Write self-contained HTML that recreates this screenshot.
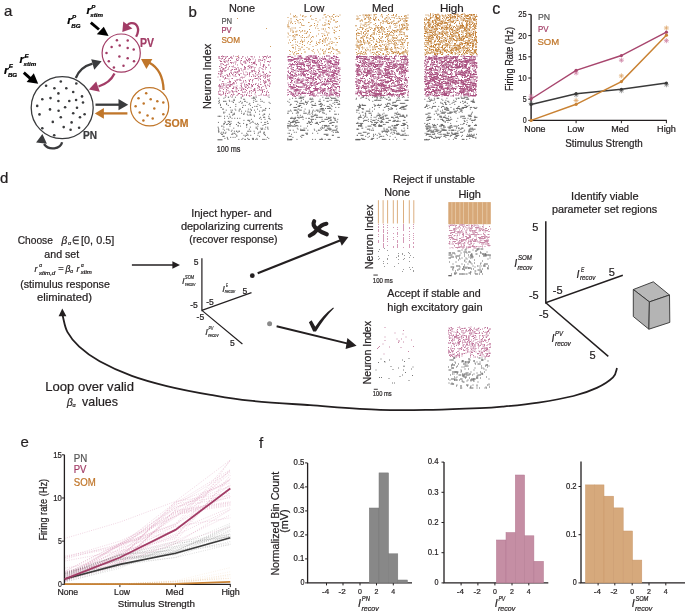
<!DOCTYPE html>
<html><head><meta charset="utf-8"><style>
html,body{margin:0;padding:0;background:#fff;}
body{width:685px;height:614px;overflow:hidden;}
svg{display:block;will-change:transform;font-family:"Liberation Sans", sans-serif;}
text{stroke-width:0.22px;}
</style></head><body>
<svg width="685" height="614" viewBox="0 0 685 614" fill="#231f20" stroke="none">
<rect width="685" height="614" fill="#fff"/>
<text x="4.0" y="16.0" font-size="15" stroke="#231f20">a</text>
<circle cx="62.2" cy="107.7" r="31" fill="none" stroke="#3a3b3d" stroke-width="1.3"/>
<circle cx="121.2" cy="53.1" r="19.1" fill="none" stroke="#a23c66" stroke-width="1.2"/>
<circle cx="149.6" cy="106.8" r="19.1" fill="none" stroke="#c0762a" stroke-width="1.2"/>
<circle cx="46.1" cy="85.7" r="1.3" fill="#3a3b3d"/>
<circle cx="60.8" cy="81.5" r="1.3" fill="#3a3b3d"/>
<circle cx="76.3" cy="83.5" r="1.3" fill="#3a3b3d"/>
<circle cx="54.4" cy="88.3" r="1.3" fill="#3a3b3d"/>
<circle cx="66.3" cy="88.3" r="1.3" fill="#3a3b3d"/>
<circle cx="58.4" cy="93.4" r="1.3" fill="#3a3b3d"/>
<circle cx="73.2" cy="92" r="1.3" fill="#3a3b3d"/>
<circle cx="82" cy="96.4" r="1.3" fill="#3a3b3d"/>
<circle cx="42.3" cy="99.3" r="1.3" fill="#3a3b3d"/>
<circle cx="50.5" cy="98.1" r="1.3" fill="#3a3b3d"/>
<circle cx="58.4" cy="101" r="1.3" fill="#3a3b3d"/>
<circle cx="69.3" cy="101" r="1.3" fill="#3a3b3d"/>
<circle cx="76.1" cy="100" r="1.3" fill="#3a3b3d"/>
<circle cx="83" cy="102.5" r="1.3" fill="#3a3b3d"/>
<circle cx="37.2" cy="105.9" r="1.3" fill="#3a3b3d"/>
<circle cx="50" cy="109.4" r="1.3" fill="#3a3b3d"/>
<circle cx="65.1" cy="107.2" r="1.3" fill="#3a3b3d"/>
<circle cx="77" cy="107.8" r="1.3" fill="#3a3b3d"/>
<circle cx="58.6" cy="110.7" r="1.3" fill="#3a3b3d"/>
<circle cx="39.5" cy="114.4" r="1.3" fill="#3a3b3d"/>
<circle cx="73.2" cy="113.2" r="1.3" fill="#3a3b3d"/>
<circle cx="84.6" cy="114.2" r="1.3" fill="#3a3b3d"/>
<circle cx="60.8" cy="117.2" r="1.3" fill="#3a3b3d"/>
<circle cx="80" cy="117.2" r="1.3" fill="#3a3b3d"/>
<circle cx="52.8" cy="121.9" r="1.3" fill="#3a3b3d"/>
<circle cx="71.6" cy="122.4" r="1.3" fill="#3a3b3d"/>
<circle cx="42.3" cy="128.3" r="1.3" fill="#3a3b3d"/>
<circle cx="63.7" cy="127.1" r="1.3" fill="#3a3b3d"/>
<circle cx="70.6" cy="129.8" r="1.3" fill="#3a3b3d"/>
<circle cx="79.1" cy="127.7" r="1.3" fill="#3a3b3d"/>
<circle cx="54.2" cy="135.2" r="1.3" fill="#3a3b3d"/>
<circle cx="116.9" cy="40.3" r="1.25" fill="#a23c66"/>
<circle cx="127.7" cy="40.6" r="1.25" fill="#a23c66"/>
<circle cx="111.6" cy="46.9" r="1.25" fill="#a23c66"/>
<circle cx="119.7" cy="45.4" r="1.25" fill="#a23c66"/>
<circle cx="127.7" cy="48.1" r="1.25" fill="#a23c66"/>
<circle cx="133.7" cy="49.4" r="1.25" fill="#a23c66"/>
<circle cx="106.5" cy="53.1" r="1.25" fill="#a23c66"/>
<circle cx="119.4" cy="56.4" r="1.25" fill="#a23c66"/>
<circle cx="127.7" cy="58.2" r="1.25" fill="#a23c66"/>
<circle cx="108.8" cy="61.3" r="1.25" fill="#a23c66"/>
<circle cx="134" cy="61.3" r="1.25" fill="#a23c66"/>
<circle cx="113.9" cy="67.6" r="1.25" fill="#a23c66"/>
<circle cx="123.5" cy="65.8" r="1.25" fill="#a23c66"/>
<circle cx="146.2" cy="93.2" r="1.25" fill="#c0762a"/>
<circle cx="138.5" cy="98.2" r="1.25" fill="#c0762a"/>
<circle cx="150.7" cy="99.3" r="1.25" fill="#c0762a"/>
<circle cx="157.3" cy="101.3" r="1.25" fill="#c0762a"/>
<circle cx="163.3" cy="102.4" r="1.25" fill="#c0762a"/>
<circle cx="143.7" cy="103.4" r="1.25" fill="#c0762a"/>
<circle cx="135.6" cy="106.2" r="1.25" fill="#c0762a"/>
<circle cx="154.3" cy="108.6" r="1.25" fill="#c0762a"/>
<circle cx="139.7" cy="112.4" r="1.25" fill="#c0762a"/>
<circle cx="147.5" cy="115.6" r="1.25" fill="#c0762a"/>
<circle cx="163.3" cy="114.3" r="1.25" fill="#c0762a"/>
<circle cx="152.7" cy="118.4" r="1.25" fill="#c0762a"/>
<circle cx="143.4" cy="120.4" r="1.25" fill="#c0762a"/>
<path d="M75.8,78 Q80,67 92.5,63.6" fill="none" stroke="#3a3b3d" stroke-width="2.3"/>
<polygon points="91.2,59.3 94.3,69.8 101.6,61.3" fill="#3a3b3d"/>
<path d="M114.5,73.6 Q110,83 98.5,86.5" fill="none" stroke="#a23c66" stroke-width="2.3"/>
<polygon points="96.2,81.4 99.8,91.7 88.9,89.4" fill="#a23c66"/>
<path d="M95.5,104.7 H119" fill="none" stroke="#3a3b3d" stroke-width="2.3"/>
<polygon points="118.5,99.1 118.5,110.3 128.2,104.7" fill="#3a3b3d"/>
<path d="M127.4,113.4 H103" fill="none" stroke="#c0762a" stroke-width="2.3"/>
<polygon points="103.9,108 103.9,118.8 94.8,113.4" fill="#c0762a"/>
<path d="M163.6,90 Q163,70 149,62.5" fill="none" stroke="#c0762a" stroke-width="2.3"/>
<polygon points="141,59.1 152.4,59.1 146.4,68.9" fill="#c0762a"/>
<path d="M136.1,36.8 C140.5,29 137,22.5 131,23.2 C129,23.5 128,24.5 127,25.5" fill="none" stroke="#a23c66" stroke-width="2.3"/>
<polygon points="123.3,21.5 132.4,28.4 122.3,32" fill="#a23c66"/>
<path d="M62.1,142.2 C60.5,149 49,151 44,144" fill="none" stroke="#3a3b3d" stroke-width="2.3"/>
<polygon points="36.1,142.6 46.9,143.8 42.4,134" fill="#3a3b3d"/>
<path d="M23.8,72.7 L30.5,78.7" fill="none" stroke="#000" stroke-width="2.9"/>
<polygon points="26.6,81.9 33.8,73.3 38.2,83.7" fill="#000"/>
<path d="M90.8,22.7 L99,29.5" fill="none" stroke="#000" stroke-width="2.9"/>
<polygon points="96.8,34.3 103.8,26.7 108.6,36.0" fill="#000"/>
<g font-weight="bold" font-style="italic" fill="#000" stroke="#000"><text x="4" y="73.5" font-size="11.5">r</text><text x="8.8" y="68.3" font-size="6.2">E</text><text x="7.9" y="76.8" font-size="6.2">BG</text></g>
<g font-weight="bold" font-style="italic" fill="#000" stroke="#000"><text x="19.6" y="62.7" font-size="11.5">r</text><text x="24.400000000000002" y="57.5" font-size="6.2">E</text><text x="23.5" y="66.0" font-size="6.2">stim</text></g>
<g font-weight="bold" font-style="italic" fill="#000" stroke="#000"><text x="67.3" y="24.3" font-size="11.5">r</text><text x="72.1" y="19.1" font-size="6.2">P</text><text x="71.2" y="27.6" font-size="6.2">BG</text></g>
<g font-weight="bold" font-style="italic" fill="#000" stroke="#000"><text x="86.4" y="13.9" font-size="11.5">r</text><text x="91.2" y="8.7" font-size="6.2">P</text><text x="90.30000000000001" y="17.2" font-size="6.2">stim</text></g>
<text x="139.9" y="46.7" font-size="12" fill="#a23c66" stroke="#a23c66" font-weight="bold" textLength="14.0" lengthAdjust="spacingAndGlyphs">PV</text>
<text x="83.0" y="139.2" font-size="11" fill="#3a3b3d" stroke="#3a3b3d" font-weight="bold" textLength="14.0" lengthAdjust="spacingAndGlyphs">PN</text>
<text x="164.6" y="126.5" font-size="11.5" fill="#c0762a" stroke="#c0762a" font-weight="bold" textLength="23.9" lengthAdjust="spacingAndGlyphs">SOM</text>
<text x="188.6" y="16.6" font-size="15" stroke="#231f20">b</text>
<text x="228.9" y="11.5" font-size="11.3" stroke="#231f20" textLength="26.1" lengthAdjust="spacingAndGlyphs">None</text>
<text x="303.7" y="11.5" font-size="11.3" stroke="#231f20" textLength="20.6" lengthAdjust="spacingAndGlyphs">Low</text>
<text x="372.0" y="11.5" font-size="11.3" stroke="#231f20" textLength="21.6" lengthAdjust="spacingAndGlyphs">Med</text>
<text x="439.9" y="11.5" font-size="11.3" stroke="#231f20" textLength="23.8" lengthAdjust="spacingAndGlyphs">High</text>
<path d="M220 64h1M254.5 61.5h1M262.5 66.5h1M218 73.5h1M226.5 56.5h1M232 74.5h1M227.5 90.5h1M233.5 84h1M236 60h1M240.5 83.5h1M243 82h1M224 61.5h1M224.5 75.5h1M262.5 71.5h1M260.5 60.5h1M229.5 83h1M258.5 88h1M225 77.5h1M230 86h1M248 83.5h1M258.5 95.5h1M242 96h1M232.5 91.5h1M223 85h1M264.5 78.5h1M236.5 89h1M260.5 84.5h1M235.5 76.5h1M217.5 77h1M233.5 83h1M218.5 74h1M223.5 70h1M269 86.5h1M251.5 70.5h1M222.5 57h1M246 95.5h1M256 64.5h1M268.5 65h1M220 76.5h1M241 58.5h1M266 67.5h1M238 57.5h1M218 94h1M268 81h1M220 61.5h1M224.5 56.5h1M259.5 74h1M219 66.5h1M241.5 77h1M244.5 61h1M259.5 60h1M240.5 85.5h1M223 56.5h1M269.5 84h1M227.5 82.5h1M223 89.5h1M219.5 60.5h1M229 81h1M263 65.5h1M258 72.5h1M241.5 83h1M230 84.5h1M235.5 62h1M251 76.5h1M219.5 94h1M258 74h1M259 87h1M219 58h1M243 73h1M253 62.5h1M225 71h1M269.5 56.5h1M267.5 80h1M236 59.5h1M240.5 73.5h1M220.5 72h1M266 94.5h1M254.5 71.5h1M263 57.5h1M255 84.5h1M225.5 70.5h1M239.5 88h1M248.5 65.5h1M260.5 75.5h1M258.5 70.5h1M235.5 69.5h1M226 87h1M252 71.5h1M249 83.5h1M268 61.5h1M222.5 91.5h1M267 85h1M246 94.5h1M264 59.5h1M254 88.5h1M232 88.5h1M265.5 76h1M239.5 79.5h1M260 82h1M269.5 75.5h1M234.5 62h1M255 78.5h1M249.5 96h1M262.5 86.5h1M250.5 66.5h1M244 69h1M242.5 96h1M247 88.5h1M249 73.5h1M263.5 82h1M236 73h1M252.5 91.5h1M221 59h1M251 67.5h1M225.5 92h1M249 62.5h1M266 73.5h1M218.5 57h1M226 91h1M252 86.5h1M252 85.5h1M234.5 72h1M241 85h1M236.5 86h1M229 74.5h1M246 59.5h1M222.5 81.5h1M226.5 74.5h1M265 81h1M252 80.5h1M231 63h1M231 63h1M227.5 76.5h1M247 85.5h1M246.5 60.5h1M238.5 70.5h1M225 95h1M228.5 85h1M227 75.5h1M228.5 93h1M254 89.5h1M270 68h1M240.5 77.5h1M255 91h1M245.5 72h1M263 64.5h1M244.5 61.5h1M249 73h1M219 87h1M267.5 75h1M219 94.5h1M235 81.5h1M219.5 80h1M259.5 67.5h1M237.5 94.5h1M221.5 76h1M218.5 71.5h1M259.5 59.5h1M248.5 80h1M261 88h1M255.5 83.5h1M265 85.5h1M231 57h1M253 76h1M267 61.5h1M233.5 83h1M237.5 71.5h1M241 70h1M263 95h1M232.5 67h1M220.5 74.5h1M270 72.5h1M227.5 62h1M235.5 90h1M254.5 89h1M263 67h1M254.5 94h1M261 87.5h1M228 68h1M244.5 62h1M254 89h1M242 57h1M244.5 91.5h1M222.5 83.5h1M238 60h1M265 74.5h1M262.5 59h1M227.5 69.5h1M254 57h1M255 60h1M219.5 58.5h1M246 90.5h1M270 61h1M237.5 79.5h1M252.5 74.5h1M228 60.5h1M227 93.5h1M259.5 90h1M221.5 72h1M253 90h1M240.5 80.5h1M249 84.5h1M269.5 83.5h1M263.5 75h1M251.5 86h1M223.5 61.5h1M252.5 70.5h1M222 70h1M239 70h1M233 73h1M237 65h1M239 74.5h1M260 76.5h1M238.5 74.5h1M231 73.5h1M231.5 78.5h1M240.5 90.5h1M222.5 94.5h1M265 86h1M219 84.5h1M233 88h1M232 78.5h1M259 71.5h1M231.5 58h1M249.5 66h1M233 82.5h1M261.5 68.5h1M243.5 74.5h1M267 56h1M239 75.5h1M229 86.5h1M258 76.5h1M236.5 72h1M226.5 87.5h1M231 94.5h1M225.5 84h1M229.5 76h1M255.5 96h1M222 68h1M224 71h1M248 87h1M263.5 89.5h1M241 90h1M268.5 95h1M241 60.5h1M254.5 63h1M224.5 65.5h1M243 89.5h1M222.5 77h1M257 85.5h1M237 72h1M224.5 62h1M242.5 71h1M265.5 87h1M239 71h1M236.5 88.5h1M253 63.5h1M235.5 69h1M241.5 87.5h1M243.5 69.5h1M234 69.5h1M249 80.5h1M252.5 63h1M257.5 90.5h1M238.5 58h1M265 82.5h1M231.5 85h1M236.5 58.5h1M254.5 78.5h1M221 56.5h1M237.5 67.5h1M241.5 94.5h1M220.5 66h1M222 58.5h1M249 91.5h1M245 80.5h1M250 59.5h1M234.5 72h1M252.5 59h1M233 88.5h1M258.5 69h1M236 83h1M258 80h1M229.5 85.5h1M255.5 72h1M257.5 85.5h1M223 92.5h1M242 65h1M248 59.5h1M242 64.5h1M264 56.5h1M261 94h1M246 87h1M251 84.5h1M228.5 79h1M245.5 82h1M236 69h1M267 77h1M260.5 95h1M266 88.5h1M241 64h1M229 66.5h1M233.5 76h1M227.5 84.5h1M231.5 62.5h1M227 56.5h1M263.5 76.5h1M266 93h1M232.5 83.5h1M256 78.5h1M223 93.5h1M221.5 86h1M238.5 71h1M220 86.5h1M230 96h1M264.5 85h1M241 89h1M253 84.5h1M264 83.5h1M251 68h1M229.5 82.5h1M260 84.5h1M264.5 83h1M259 57h1M225.5 65.5h1M228 59h1M228 64h1M221 67.5h1M251 86h1M225 78.5h1M236.5 79.5h1M228.5 92h1M240.5 68.5h1M245 69h1M263 72.5h1M227.5 76h1M225.5 96h1M220 87h1M230.5 72.5h1M254 62.5h1M249 74.5h1M264.5 81.5h1M220.5 71.5h1M223 84h1M249.5 91h1M249.5 68h1M224.5 68.5h1M235 72.5h1M231.5 66.5h1M221 73h1M249 93h1M264 65h1M233 63h1M269 80.5h1M230 57.5h1M263.5 82h1M223.5 60h1M245 58h1M257 75h1M249 67.5h1M247 57h1M249.5 72.5h1M258.5 77h1M269 79h1M259 87h1M266 58h1M238 93.5h1M230 60.5h1M244 84h1M224 59.5h1M228.5 85h1M226 67h1M230 62.5h1M258 84h1M261.5 89.5h1M267.5 76.5h1M219 90h1M221 84h1M231 84.5h1M247.5 66.5h1M218.5 91.5h1M262 92.5h1M262 91.5h1M255 76.5h1M238.5 74.5h1M222 56h1M233 56h1M237.5 73h1M226.5 85.5h1M232 91.5h1M243 81h1M226.5 64.5h1M245 87.5h1M264 62h1M269 72h1M247 73h1M247.5 85h1M220 70.5h1M249 60h1M243.5 77.5h1M239.5 79h1M240.5 94.5h1M269 62h1M230 81.5h1M252.5 67h1M270 57h1M260 63h1M223 89.5h1M232 69.5h1M232.5 95h1M267 79.5h1M259 89.5h1M263 80.5h1M249 58.5h1M239.5 80.5h1M230.5 72h1M253.5 76h1M251 71h1M257 88h1M219.5 68.5h1M254 90.5h1M226.5 78.5h1M235.5 88h1M265.5 95h1M254 63.5h1M233 88.5h1M269 76h1M268.5 85.5h1M238 90.5h1M247.5 69h1M244.5 63h1M244 85h1M244.5 67.5h1M251 93h1M221 71h1M249 76h1M254 71h1M247 85.5h1M225.5 61h1M264.5 95.5h1M267 75.5h1M222.5 87h1M219.5 85.5h1M230.5 57h1M220.5 71h1M234.5 67.5h1M236.5 95.5h1M249.5 60h1M252 82h1M220 95h1M224.5 88h1M268 65h1M264 91.5h1M225 95.5h1M232.5 92.5h1M248.5 87.5h1M233 66h1M263 77h1M238 56h1M219 86h1M221.5 87h1M251 95.5h1M253.5 70.5h1M221.5 63.5h1M223.5 85.5h1M221.5 73.5h1M266 57h1M240 63h1M241.5 90h1M235 64h1M265 76h1M267 91h1M245 63h1M236.5 80.5h1M220 75h1M256.5 78.5h1M268 92.5h1M241 86.5h1M262.5 56.5h1M235 74.5h1M248.5 61h1M251.5 57h1M221.5 64h1M247 61h1M248 59h1M263 66.5h1M225.5 86h1M223.5 84h1M251.5 72h1M248 66.5h1M266 92h1M255 73.5h1M244.5 92.5h1M223 77h1M250 79.5h1M239 93.5h1M225 67.5h1M218 92h1M236 87.5h1M265 56.5h1M229 81.5h1M244 66.5h1M236.5 92h1M220 91h1M233 94h1M263.5 74h1M269.5 82h1M261.5 75.5h1M238 69h1M258.5 61.5h1M258 86.5h1M254.5 67.5h1M251.5 66.5h1M220 74h1M262.5 72.5h1M235.5 56.5h1M268 80h1M245.5 75h1M218 86h1M244.5 68h1M221.5 88.5h1M262 60.5h1M232.5 75h1M260 65h1M222 71.5h1M265 77.5h1M231.5 58.5h1M260.5 90.5h1M231.5 91h1M244.5 76h1M231 70h1M243.5 89h1M260 79.5h1M244.5 86.5h1M254.5 64h1M237 60.5h1M242.5 88.5h1M229.5 92h1M247 60.5h1M231.5 90.5h1M223 68.5h1M255.5 75h1M264.5 60h1M247 93h1M252.5 79.5h1M234.5 91.5h1M257.5 78h1M221 61.5h1M219 85h1M265 67h1M223 64.5h1M267.5 96h1M226 65h1M247 74.5h1M265 69h1M269.5 57h1M251 90.5h1M235 75h1M233.5 94.5h1M242.5 92.5h1M245 89.5h1M244.5 67.5h1M256 65h1M242 92h1M266 95h1M245.5 63h1M218 58h1M244 95h1M254 69h1M229 73.5h1M221 95h1M251.5 56.5h1M219.5 88.5h1M220 70h1M229.5 86.5h1M234.5 87h1M268 57.5h1M250.5 56.5h1M229 58.5h1M225.5 57.5h1M266 82h1M240 61h1M251 62.5h1M262.5 69.5h1M242.5 56.5h1M250.5 88h1M233 87h1M242 78h1M234.5 80.5h1M226 89.5h1M226.5 61h1M255 92.5h1M225 93.5h1M223 69h1M245.5 85h1M228 88h1M232 84h1M249 96h1M262 90.5h1M246 84.5h1M251.5 64.5h1M218.5 56.5h1M225 58.5h1M265 85.5h1M222 81.5h1M243 62h1M230.5 70.5h1M253.5 90h1M258 60h1M248.5 95.5h1M249 81.5h1M259.5 78.5h1M222.5 69.5h1M245 67.5h1M236 69h1M224.5 62.5h1M232 96h1M224 79h1M242 96h1M227 88h1M236 91.5h1" stroke="#b9668f" stroke-width="1"/>
<path d="M260.44 107.44h1M241.4 103.36h1M251.94 107.44h1M268.94 114.24h1M231.54 101.32h1M220.32 116.28h1M248.88 121.38h1M226.78 137.36h1M244.8 105.4h1M247.86 139.4h1M243.44 114.24h1M269.62 119.34h1M217.6 127.16h1M223.72 101.32h1M233.58 99.28h1M241.06 113.22h1M247.52 112.2h1M225.76 110.16h1M235.28 106.42h1M253.98 110.16h1M217.94 122.4h1M259.42 105.4h1M259.76 132.26h1M247.18 134.3h1M231.2 112.2h1M230.52 112.2h1M223.04 136.34h1M239.36 123.42h1M227.8 121.38h1M222.36 126.14h1M223.04 101.32h1M244.12 99.28h1M239.36 109.14h1M223.04 112.2h1M223.38 113.22h1M253.98 116.28h1M224.74 101.32h1M228.82 100.3h1M218.28 132.26h1M259.08 111.18h1M223.72 136.34h1M263.5 102.34h1M244.12 101.32h1M239.7 109.14h1M256.36 138.38h1M242.76 105.4h1M252.96 98.26h1M250.58 122.4h1M229.16 101.32h1M255.34 139.4h1M221.34 132.26h1M265.54 139.4h1M248.88 129.2h1M261.8 101.32h1M229.84 107.44h1M233.24 114.24h1M264.18 117.3h1M231.54 130.22h1M267.24 123.42h1M251.6 98.26h1M248.2 120.36h1M253.64 131.24h1M249.56 112.2h1M264.18 134.3h1M260.1 117.3h1M238.68 102.34h1M220.66 107.44h1M263.84 139.4h1M233.24 128.18h1M225.08 133.28h1M217.6 116.28h1M246.16 124.44h1M230.86 131.24h1M238.34 131.24h1M243.44 120.36h1M234.6 137.36h1M218.96 100.3h1M266.9 121.38h1M246.16 127.16h1M268.26 116.28h1M227.8 97.24h1M224.06 116.28h1M268.6 102.34h1M246.5 102.34h1M253.64 115.26h1M246.16 124.44h1M233.92 113.22h1M218.96 102.34h1M247.52 120.36h1M257.38 104.38h1M231.54 118.32h1M238.68 110.16h1M217.94 128.18h1M227.46 139.4h1M227.8 121.38h1M218.28 98.26h1M224.4 121.38h1M218.28 131.24h1M230.18 137.36h1M238.34 139.4h1M239.02 131.24h1M264.52 110.16h1M236.3 135.32h1M250.24 114.24h1M252.96 139.4h1M249.9 109.14h1M243.1 99.28h1M259.08 114.24h1M223.38 127.16h1M243.44 135.32h1M256.36 106.42h1M224.74 122.4h1M268.6 97.24h1M218.28 129.2h1M255.68 128.18h1M249.56 131.24h1M232.22 115.26h1M228.82 114.24h1M223.38 98.26h1M256.7 128.18h1M218.96 116.28h1M246.5 124.44h1M241.06 111.18h1M237.32 132.26h1M232.9 102.34h1M263.16 117.3h1M221.34 134.3h1M263.84 114.24h1M263.84 134.3h1M228.14 118.32h1M255.34 101.32h1M256.36 101.32h1M233.92 131.24h1M259.76 131.24h1M246.84 114.24h1M263.84 124.44h1M242.08 107.44h1M245.14 111.18h1M247.18 138.38h1M254.32 106.42h1M234.6 109.14h1M263.84 132.26h1M226.1 124.44h1M267.58 123.42h1M220.32 133.28h1M229.16 124.44h1M225.42 101.32h1M229.16 122.4h1M247.18 131.24h1M249.56 115.26h1M223.04 132.26h1M240.04 126.14h1M264.86 135.32h1M228.14 129.2h1M242.42 138.38h1M248.2 131.24h1M250.92 119.34h1M262.48 139.4h1M263.5 117.3h1M244.8 101.32h1M245.48 135.32h1M248.54 104.38h1M226.1 103.36h1M217.94 130.22h1M244.8 139.4h1M246.16 125.46h1M238 122.4h1M230.52 121.38h1M229.5 116.28h1M252.62 122.4h1M264.52 119.34h1M253.98 133.28h1M251.94 138.38h1M250.24 135.32h1M256.7 139.4h1M265.2 108.46h1M265.2 127.16h1M230.52 110.16h1M219.98 105.4h1M256.36 106.42h1M235.28 110.16h1M264.18 122.4h1M252.96 138.38h1M235.96 124.44h1M267.58 129.2h1M258.4 132.26h1M218.28 101.32h1M262.48 125.46h1M231.54 97.24h1M262.48 139.4h1M246.16 135.32h1M244.46 139.4h1M249.22 103.36h1M226.78 116.28h1M224.4 138.38h1M234.94 97.24h1M240.72 98.26h1M247.52 111.18h1M237.66 125.46h1M224.06 118.32h1M241.74 102.34h1M246.16 133.28h1M233.92 114.24h1M259.08 118.32h1M250.58 115.26h1M237.66 126.14h1M227.8 123.42h1M220.66 107.44h1M229.5 124.44h1M228.48 130.22h1M222.36 136.34h1M248.88 139.4h1M224.06 123.42h1M260.44 128.18h1M268.94 118.32h1M234.26 133.28h1M232.22 134.3h1M260.44 101.32h1M257.38 126.14h1M223.38 133.28h1M247.86 109.14h1M247.52 115.26h1M240.04 101.32h1M252.96 102.34h1M218.28 103.36h1M238.68 123.42h1M264.52 110.16h1M223.38 123.42h1M257.04 123.42h1M238.68 111.18h1M265.2 124.44h1M252.28 121.38h1M232.9 102.34h1M268.26 118.32h1M228.82 121.38h1M263.5 132.26h1M233.92 100.3h1M260.1 99.28h1M262.48 110.16h1M249.9 105.4h1M249.56 112.2h1M229.84 124.44h1M222.02 109.14h1M253.98 98.26h1M224.4 112.2h1M227.12 138.38h1M255 112.2h1M236.3 131.24h1M234.26 118.32h1M262.14 128.18h1M267.24 127.16h1M264.52 129.2h1M223.38 124.44h1M232.56 137.36h1M260.78 122.4h1M227.8 105.4h1M219.98 104.38h1M232.22 133.28h1M233.58 133.28h1M265.2 122.4h1M236.3 136.34h1M242.08 107.44h1M249.22 120.36h1M263.16 110.16h1M257.72 133.28h1M232.56 114.24h1M233.24 100.3h1M267.24 128.18h1M269.62 103.36h1M250.92 110.16h1M224.06 130.22h1M255 99.28h1M231.2 112.2h1M253.64 97.24h1M247.52 120.36h1M263.16 133.28h1M235.28 104.38h1M268.94 108.46h1M244.8 136.34h1M268.26 138.38h1M265.2 108.46h1M231.2 134.3h1M260.78 119.34h1M255.68 97.24h1M255.68 124.44h1M249.9 127.16h1M261.8 111.18h1M235.96 131.24h1M229.5 126.14h1M229.84 117.3h1M218.62 116.28h1M262.14 129.2h1M223.04 109.14h1M249.56 123.42h1M247.52 135.32h1M228.14 97.24h1M255.68 127.16h1M241.4 133.28h1M249.56 114.24h1M252.96 97.24h1M218.28 131.24h1M226.44 129.2h1M261.12 129.2h1M243.1 114.24h1M224.74 97.24h1M237.66 122.4h1M231.88 110.16h1M226.1 104.38h1M221 126.14h1M262.48 115.26h1M243.78 113.22h1M222.7 129.2h1M250.24 131.24h1M266.9 137.36h1M230.52 123.42h1M260.78 129.2h1M257.04 129.2h1M240.72 97.24h1M252.28 139.4h1M257.38 135.32h1M225.42 132.26h1M236.98 118.32h1M257.72 124.44h1M221.34 134.3h1M263.5 114.24h1M257.04 109.14h1M235.28 134.3h1M226.78 124.44h1M222.02 134.3h1M250.92 110.16h1M241.4 139.4h1M239.36 118.32h1M253.3 100.3h1M264.18 114.24h1M259.08 136.34h1M243.1 123.42h1M254.66 123.42h1" stroke="#6a6a6a" stroke-width="1"/>
<rect x="217.5" y="139.3" width="5" height="1" fill="#555"/>
<path d="M317.5 22h1M337.5 51.5h1M311.5 41h1M298.5 23h1M302 42.5h1M298 53.5h1M290.5 22h1M291.5 45.5h1M306 33.5h1M304 40h1M308 22.5h1M309.5 26.5h1M293 47.5h1M322.5 41h1M333.5 30h1M307 31.5h1M308 41.5h1M287.5 33h1M315 28h1M288 43h1M287.5 37h1M295 15.5h1M296.5 17h1M295 42h1M325 29h1M321.5 33.5h1M313 49.5h1M303.5 49.5h1M323.5 42h1M287.5 17.5h1M288.5 28h1M336.5 49.5h1M331 19h1M324 45.5h1M329.5 46.5h1M294.5 21.5h1M328.5 44h1M334 32.5h1M333.5 20h1M337 50h1M304.5 17h1M316 42h1M305.5 16.5h1M301.5 47.5h1M292 52h1M300 22.5h1M293 54h1M334.5 27h1M292 40.5h1M333.5 14.5h1M320 49h1M311 37.5h1M329 24h1M301.5 41h1M316 36h1M304.5 52h1M302 41.5h1M334 30.5h1M290 23h1M290.5 20h1M293.5 28h1M306.5 32.5h1M322 41.5h1M323 29h1M322 36.5h1M293.5 36.5h1M303.5 41.5h1M325.5 24h1M310 32.5h1M302.5 15.5h1M289.5 54.5h1M326 32h1M322 25h1M324.5 53h1M327.5 33h1M338.5 51.5h1M290 31h1M310.5 25.5h1M319.5 20h1M326 49h1M290 42.5h1M301 40h1M323.5 54h1M329 28h1M325.5 20h1M324.5 31h1M301 24h1M298.5 46.5h1M292 23.5h1M297 20.5h1M325.5 38h1M322 50.5h1M310.5 15.5h1M297 35h1M324.5 51.5h1M314 23.5h1M318 52h1M304.5 52h1M334.5 37.5h1M312.5 19.5h1M293 16h1M319 43h1M339 38.5h1M339 30.5h1M294 16.5h1M302 35.5h1M339 26h1M299.5 43.5h1M307.5 37h1M295 49h1M335.5 45h1M336 27.5h1M288.5 26.5h1M334 33h1M297.5 20.5h1M295.5 32h1M335.5 50h1M327 45h1M297 45.5h1M299 35.5h1M289 50.5h1M293.5 38h1M322 40.5h1M323 29h1M328.5 52.5h1M319.5 54h1M331.5 16.5h1M322.5 18h1M321.5 29h1M332 16h1M336.5 16h1M290 14h1M293.5 54h1M331 51.5h1M297 42h1M328.5 43.5h1M301 53.5h1M325 42h1M302 30.5h1M327 35h1M312.5 51.5h1M309 49h1M289.5 35.5h1M324.5 14.5h1M323.5 25.5h1M320 39.5h1M294 52.5h1M299.5 19.5h1M310 16.5h1M292.5 45h1M292 36h1M333.5 32.5h1M330 48h1M295.5 17h1M328 49.5h1M332 43h1M314 53h1M326 45h1M335 16.5h1M326 38h1M287.5 24.5h1M324.5 35.5h1M316.5 26h1M317 50h1M338.5 36.5h1M325.5 17.5h1M294.5 37h1M330.5 19h1M294.5 34.5h1M303 20h1M295.5 31.5h1M328.5 21h1M329.5 17h1M300 41.5h1M287.5 27h1M295 23.5h1M333.5 20.5h1M325 51h1M300 49h1M304 45.5h1M317.5 28.5h1M333.5 42.5h1M304 37.5h1M302.5 25.5h1M336.5 54h1M295.5 51.5h1M324.5 14.5h1M292.5 32h1M333.5 49.5h1M300 32h1M335.5 22.5h1M292.5 31h1M322.5 49.5h1M333 14.5h1M296 19.5h1M318.5 30.5h1M335.5 39h1M319.5 42h1M298 50.5h1M332 47.5h1M328 21h1M290 29h1M324.5 22.5h1M332.5 49h1M323.5 34h1M295 47h1M296 34.5h1M327 40h1M299.5 50h1M304 31h1M310 42.5h1M289 40h1M312.5 46.5h1M306 37.5h1M338 16.5h1M328.5 33h1M302.5 25.5h1M298.5 48.5h1M297.5 53.5h1M314 25.5h1M328 38h1M333.5 20h1M323.5 15h1M296.5 31h1M303.5 25.5h1M317 44.5h1M309 35h1M328 23.5h1M339.5 15h1M306.5 47.5h1M299.5 27.5h1M296 54h1M333 17.5h1M315.5 20.5h1M288 23h1M324 35.5h1M302 37.5h1M291.5 28h1M292 47.5h1M307 43h1M304.5 31h1M317 24.5h1M315.5 45.5h1M291 22h1M288 34h1M293 35.5h1M295.5 35.5h1M302 44.5h1M330 53h1M311.5 50.5h1M332 28h1M338.5 53h1M295.5 44.5h1M323 39h1M324.5 25.5h1M331 43.5h1M296.5 53.5h1M325.5 16.5h1M288.5 21h1M322 43.5h1M336 50h1M297.5 22h1M291.5 30h1M309 29.5h1M330 39h1M329 49h1M327 35h1M308.5 36h1M311 41.5h1M331.5 41.5h1M300.5 37h1M311 19h1M292.5 32.5h1M336.5 42.5h1M290 51.5h1M325 38.5h1M287.5 26.5h1M304.5 33.5h1M293.5 39.5h1M319 40h1M313 37h1M293 48h1M332.5 48.5h1M327.5 24h1M302.5 16h1M328 49h1M336 38.5h1M329 48.5h1M293.5 17h1M333 53.5h1M324.5 39.5h1M308 49h1M302 16.5h1M329 16.5h1M324.5 40.5h1M293 32h1M301.5 47h1M328 27.5h1M295 28h1M310 39h1M337 27h1M295 39.5h1M309.5 44.5h1M322 36.5h1M330 22h1M328 21.5h1M312 36.5h1M315.5 18.5h1M311 25.5h1M301.5 31.5h1M308.5 22.5h1M323 52h1M337 21.5h1M299 30.5h1M318 42.5h1M318 34h1M339.5 53h1M329 24.5h1M327.5 15.5h1M337 42.5h1M335.5 31.5h1M324.5 24.5h1M335.5 21.5h1M287.5 25.5h1M322 36h1M329.5 42h1M328 52.5h1M290.5 18.5h1M302 19.5h1M316 43.5h1M296.5 34.5h1M300 15h1M301 25h1M323 53.5h1" stroke="#d09a5a" stroke-width="1"/>
<path d="M308 87.5h3M323.5 83.5h1M301 75.5h1M312 93h1M290.5 65h1M335.5 56.5h1M300 63h4M322 57h1M291 82h1M315.5 86.5h1M323 67.5h1M302.5 70h4M307 57h1M289 91.5h1M297.5 61.5h1M300 56.5h1M320 60h1M335.5 68h1M312 80h2M314.5 56h1M333 76.5h1M337 57.5h1M312.5 56h1M313 74.5h1M305.5 87.5h1M336.5 95.5h1M330 60.5h1M333.5 73.5h1M334.5 81.5h2M334 64h1M338.5 73h1M330.5 72h1M309.5 61.5h1M333.5 66h1M318.5 76.5h1M290.5 61.5h1M329 68h1M314 61.5h1M288.5 59.5h4M315 61h1M316 84.5h1M336 56.5h1M324 71h1M334.5 87.5h2M329.5 66.5h1M329.5 65h1M312.5 95h1M329.5 81.5h1M317.5 93.5h1M296.5 66.5h4M302.5 83.5h1M323.5 73.5h1M314.5 70.5h1M306.5 58h1M308 58.5h1M290.5 76h1M338 62h1M328.5 65.5h1M317.5 60.5h1M334.5 92.5h1M287.5 83h1M303.5 65.5h1M305.5 93h1M332.5 84h1M324.5 92.5h1M302 60.5h1M327 80.5h1M321.5 84.5h1M323.5 83h1M288 94.5h1M294 62.5h1M319.5 79.5h1M332 77h1M324 90h1M291.5 75h1M334 77.5h1M292 87.5h4M313 76.5h1M290.5 64.5h1M319 75.5h1M330 80h1M332.5 76h1M331 94.5h2M302.5 69h1M294.5 59h4M313 72h1M320 80.5h1M314 74.5h1M293.5 91h2M306.5 59h1M322 67.5h1M309.5 60h1M287.5 92.5h1M331 63h1M324 81.5h1M337.5 84.5h1M336.5 79h1M322.5 72.5h3M291 66h1M312 60h1M316 90h1M327.5 67h1M311.5 57h1M301 65h1M299 93.5h1M296.5 95.5h1M320 92h1M328.5 75.5h1M329.5 76h1M334.5 72.5h1M326 84.5h1M328 61h1M333 83.5h2M335 92.5h1M308 57.5h1M331.5 82h1M324.5 67h2M314.5 75h1M329 61h3M302 81.5h1M297 71h1M304 75.5h1M300 71.5h1M330 90.5h1M324.5 67.5h1M298 71.5h1M323.5 67.5h1M311.5 61h1M319.5 72.5h1M328.5 83.5h1M310 77h1M329.5 57h1M327 74h1M327.5 91h1M315 63h1M315 87.5h1M296 86.5h1M292 78h1M303.5 66h1M294.5 89.5h4M320.5 75h1M338 72h1M328 87.5h1M330 76h4M307 75h1M317.5 70h1M298.5 87.5h1M334.5 58h1M289 78.5h1M310 66h1M301.5 83.5h1M291 81.5h1M333.5 56h1M319 65.5h1M322.5 71h1M314.5 63h1M322 63.5h1M307 89h1M332.5 71h1M322 73h1M297.5 59h1M321.5 84h4M332 84.5h1M326 81h3M295 93h1M320.5 71.5h1M287.5 56.5h3M305 71.5h1M300.5 82.5h2M298.5 58h4M298 94h1M300 91h1M289.5 91.5h1M307.5 63.5h1M319.5 58h1M336.5 84h2M306 88h1M308.5 59h1M297 82h1M322 91h1M314.5 86h1M296.5 91h1M319.5 68.5h1M338 68h1M310 93.5h1M334 83.5h1M309 87h1M320 91.5h1M318 67.5h2M317.5 78h1M288 59.5h4M294.5 73h1M316 58.5h1M312 94.5h1M324 95h4M319 66.5h1M315 82h1M307 79.5h1M306 85h1M321 90.5h1M330 84h1M317.5 96h1M334 93.5h1M326 93.5h2M302.5 72h1M321 61.5h1M310 64.5h1M291.5 57.5h2M320.5 72h1M328 71h1M322.5 68.5h1M326.5 60h1M300.5 95h1M322.5 90.5h3M291 92.5h1M290.5 77.5h1M296 85.5h1M309 86h1M300.5 73h1M289.5 63.5h1M337 79.5h1M318.5 67h1M329 59h1M304 64.5h1M313.5 80.5h1M316 90.5h2M303 65h1M289.5 77.5h1M326 84.5h1M311.5 94.5h1M320 74h1M290 77h1M327 79.5h1M297 79h1M294.5 91.5h1M313 96h2M291 71.5h1M298.5 92h1M334 91h1M300 94.5h1M323 70.5h4M333.5 56h1M308.5 93.5h1M292 87h3M325.5 60h1M321 58.5h1M321.5 72.5h1M334 66h2M301.5 93h1M287.5 60h1M307.5 60h1M293.5 79h1M310.5 56.5h1M326.5 66h1M336 65h1M321.5 63.5h1M312 66h1M324.5 80h1M325 79.5h1M315.5 62.5h1M309.5 82h1M316 56h1M310 85h1M300.5 87.5h1M290.5 89h1M303 75.5h1M290 72.5h1M298.5 62.5h1M313 56h1M331 67h1M334 75.5h1M318.5 65.5h1M329 93h3M300 64h2M330 70h1M303.5 87h1M315 56.5h1M301 80h3M287 77h3M337.5 62.5h1M303.5 73.5h1M301.5 93.5h4M299.5 64.5h4M291 80h1M301.5 58.5h1M324 59h1M310 83h1M337.5 72.5h1M335 83.5h1M305.5 89h1M332 82.5h1M293 85h1M293.5 88h1M288 90h1M310.5 76.5h1M319.5 76.5h1M330.5 58.5h1M335 64h4M307 88.5h1M328.5 95h1M304 85.5h1M313.5 91.5h1M312.5 57.5h1M316.5 65.5h1M298 93.5h1M306.5 86.5h1M313 79h1M294 82h1M325.5 84.5h1M297 64.5h1M298.5 80.5h1M330.5 67h1M303 71.5h2M293 84.5h1M304.5 93h1M337 86.5h3M313.5 95.5h1M321.5 64h1M288.5 64.5h1M307.5 77.5h1M323 89h3M299.5 64.5h1M312 94h3M308 61h1M299.5 80.5h1M296.5 60h1M313 66h1M317.5 60h1M307 83h1M304.5 76h1M303.5 71.5h2M329.5 79h1M310.5 84.5h1M334 70.5h2M299 91h1M338.5 60.5h1M309 89h1M326.5 61.5h1M318 60.5h1M331.5 74.5h3M313 84h1M292.5 59.5h3M332.5 93h1M307.5 85.5h1M329 95h1M313.5 70.5h1M336.5 81.5h1M321.5 90h1M339.5 75.5h1M290.5 59.5h1M322 67h1M312 61.5h1M296 62.5h1M288 72.5h1M318.5 72h1M331.5 78h1M331.5 76h1M322 59h1M313 58.5h2M331.5 72.5h1M329.5 67.5h1M313.5 78.5h1M290 78h1M330 94h1M335.5 59.5h2M333 73.5h4M336 74.5h1M317.5 83.5h2M322 92.5h1M329 96h1M292 88.5h1M310.5 75.5h1M327.5 62.5h1M291 74.5h1M308.5 89.5h1M298.5 70h1M318 64h1M338 63.5h1M328.5 73h1M293 69.5h1M297 68.5h1M289.5 92h1M314.5 89.5h4M318.5 62.5h1M298.5 68.5h1M319 66.5h1M320.5 60.5h1M298.5 74.5h1M334.5 80h1M308.5 64h1M333 85.5h1M319.5 89.5h1M313 62h1M310.5 83h1M330 87.5h2M299.5 79h1M321.5 92h1M303 64h1M287.5 71.5h1M307.5 66.5h1M339.5 78.5h1M318 56.5h1M292.5 87.5h2M333 56.5h1M312.5 82h1M339 87.5h1M307 82h1M337 74h1M312 66h1M295.5 81h3M330.5 92h1M319 79h1M314 60.5h1M310.5 56h1M324 58h1M322 84.5h1M331.5 58.5h1M317.5 66.5h1M287.5 67.5h1M288.5 61h1M300.5 64.5h3M333 72h2M314.5 57.5h3M323.5 76.5h1M314.5 56h1M295.5 76h1M305 89h2M310 91.5h3M310.5 95h1M308.5 91.5h1M305.5 70.5h1M328 75h1M331.5 75h1M290.5 66h1M319 71.5h1M317 92h1M312 74h1M316 95h1M320.5 63h1M290.5 64.5h4M322.5 89.5h1M333.5 60.5h1M290 79h1M287.5 75.5h1M310.5 56h1M289.5 61h1M307 74.5h2M328.5 81.5h3M312.5 79.5h1M290.5 77.5h2M302 92.5h1M339 95h1M291.5 89h1M331 63.5h1M332 72.5h1M338 68h1M319.5 69.5h1M306 90.5h1M325 85.5h1M335 64.5h1M295 96.5h1M329.5 79.5h2M312 62.5h1M304.5 75h1M300 94h1M312 68h1M310.5 80h1M336 57.5h1M296.5 93h1M318.5 92.5h1M306.5 77.5h3M299 56.5h1M332 63.5h1M315 85h1M322 70.5h2M332.5 75.5h1M339 71h1M318 71h1M317 84.5h1M312.5 62.5h1M330 63.5h1M336.5 92.5h1M314.5 66h1M290.5 94h1M314 84h1M312.5 58h1M303.5 87h1M307.5 59.5h4M302.5 78.5h1M326.5 63h1M312.5 78h1M304 68.5h1M294.5 75h1M332.5 81h1M301.5 63h3M335.5 76h1M335 71.5h1M339 82.5h1M328.5 65.5h1M302.5 74.5h3M291 77.5h1M314.5 56h1M298 78h1M326 83h1M331 89.5h1M336 70h1M322 68h1M322 93.5h1M300 67.5h1M308 56h4M312.5 92h1M329.5 95h4M290.5 68.5h1M314 88.5h4M316.5 66h1M338.5 63h1M304.5 61.5h4M302.5 85h3M338 70.5h1M309.5 57.5h1M328 78.5h1M294 82h1M306 59.5h1M338.5 59.5h1M305 75h1M331.5 57.5h1M296.5 68.5h1M300.5 59h1M292 95.5h1M292.5 69.5h1M287 95h1M299.5 89.5h1M338 64.5h1M315.5 72h1M328 88.5h3M325.5 74.5h1M327 71.5h1M313.5 68.5h1M335.5 91h1M326 70.5h1M305.5 58.5h1M326 56h1M296.5 75.5h1M308 66h1M289.5 56.5h1M297 63.5h1M299.5 66.5h1M302 69h1M297.5 57.5h1M292.5 76h1M301 72h1M301 93h4M320.5 90.5h1M332 70.5h1M303.5 69.5h1M312 82h1M294 96h1M332 64.5h4M335 81.5h1M291 81.5h1M336 87.5h1M305 90h1M314.5 82.5h1M316 58h1M313 77.5h1M298.5 69.5h4M320.5 82h1M331 58h1M288 85h1M320 88h1M311 92.5h1M318.5 67h1M302.5 81h1M301 71h1M314.5 62.5h3M315 63h1M306 61.5h1M298.5 96h1M331 90h1M324 88.5h1M305.5 85h1M298.5 92.5h1M305 61.5h1M303 84h1M295 93h1M291.5 83h1M308 88.5h1M310 63h1M317.5 76.5h1M295.5 76.5h1M333.5 92h1M311 85.5h2M325 58.5h1M327.5 60.5h1M291.5 69.5h1M292 63.5h1M312.5 93h1M337 74.5h1M337 93.5h1M299.5 69h1M309.5 62.5h1M334.5 89.5h1M323 59.5h1M293 67.5h1M312.5 60.5h1M292.5 72.5h1M305 59.5h3M336.5 71.5h1M326.5 71.5h1M308 82.5h1M324.5 88.5h1M310 73.5h1M331 86h1M310.5 60h1M294.5 90.5h4M291.5 94h2M321.5 77.5h1M311 76.5h1M290 86h1M316.5 58.5h1M314.5 76.5h1M300.5 82h1M311 78h2M326 75h1M316.5 90.5h1M335.5 93.5h3M337 66h1M339 91.5h1M335 68h1M316.5 83.5h1M339.5 69.5h1M337.5 63h1M315 96h1M312.5 74h4M317.5 67.5h1M337.5 57.5h1M329.5 78h1M291 57.5h1M328 61.5h1M319.5 77h1M308 67.5h1M338.5 91h1M331.5 57.5h1M296 74.5h1M311 74h1M322.5 84.5h4M321 65.5h1M307 71h1M338.5 71.5h1M314 62h1M288.5 84.5h1M316.5 69.5h4M310.5 94h1M289 66.5h1M294 61.5h1M335.5 96h1M316.5 61h1M312 61h1M326 69h1M315 79.5h1M328 76.5h1M309 66h1M309 95.5h1M332.5 66.5h1M314 83h1M300 87h3M306 57h1M308 78.5h4M321.5 92h1M337 96h1M320.5 95.5h1M290.5 78h3M329 72h4M290.5 88h1M325.5 93h1M293.5 96h1M333 72.5h1M333 65h1M336 84h1M338.5 95.5h1M293.5 95h1M328.5 69h1M287.5 57.5h1M308.5 58h1M333 85.5h1M295.5 70h1M329 75h1M315 58.5h1M311 82.5h1M310.5 95h1M307.5 80.5h1M291.5 78h1M306 80.5h1M326 81.5h3M305.5 82.5h1M330 81h2M339 89h1M293 94.5h1M296 90.5h1M327.5 82h1M320.5 85.5h1M336 64.5h1M315.5 63.5h1M292 75.5h1M327 62h4M307 93.5h1M311 68.5h1M339 96h1M305 62h1M309 58.5h1M310.5 83.5h2M306 78h1M328.5 59h1M316.5 59h1M293 76h1M293.5 87.5h1M290 84.5h1M293.5 85h1M333 58.5h1M311 76.5h1M316 79.5h1M291.5 57h1M287.5 68.5h1M324.5 83h1M297 67.5h1M305 84h1M324.5 61.5h1M287 75h1M331.5 86h3M320 87h1M334.5 81h1M316 81.5h1M310 68h2M326 56h4M306.5 61.5h1M291.5 69h1M326 81.5h1M321 69.5h1M326.5 60h1M308 82.5h1M318 88.5h1M290 56.5h1M322.5 59h1M326 81.5h1M309.5 69.5h1M332.5 64h1M303.5 85h1M303.5 65.5h1M298.5 63h2M293.5 70.5h2M292.5 71.5h1M299.5 75h1M334 77.5h1M302.5 91.5h1M327.5 96h1M331 75h1M309.5 84h1M306.5 86h1M336 67h1M333.5 67.5h1M319 61.5h1M324 56.5h1M313.5 85.5h1M300.5 57h1M291.5 71h1M308 93h1M303.5 89.5h1M319.5 87.5h1M299.5 60h1M305 77h1M318.5 69h1M323 76h1M310 92.5h2M321.5 72h4M295 74h1M301 67h1M309 88h1M299.5 83h1M297 80h3M333.5 81.5h1M310 93.5h1M292 74.5h1M324 85h1M313 70h1M304.5 96h1M306 71h2M332 88h1M318.5 65.5h4M327.5 84.5h1M312 60.5h1M300 82.5h1M290.5 87.5h1M324 79h2M289 77h1M326.5 83.5h1M333 89.5h1M296.5 86.5h3M322 81.5h1M301 64h1M313.5 72.5h1M292 80.5h1M312.5 95.5h1M333 66.5h1M305.5 57h1M297.5 56h4M318.5 82.5h1M303 72.5h1M299.5 87h1M301 58h1M335.5 61.5h1M296.5 88.5h1M336 88h1M301.5 74.5h1M331.5 81.5h1M296.5 95h1M315 71.5h1M333.5 60.5h1M290 75h1M296.5 62h1M329 91h1M333.5 80.5h1M324 62h1M309 62.5h1M332.5 59h1M309.5 78.5h1M306 65.5h4M331 79h1M313 88.5h1M315.5 82.5h1M336.5 77.5h1M296 65h2M321 88h1M324.5 92h1M322 73h1M331.5 94h1M323 74h1M334 56.5h1M298 74h1M293.5 96h1M290.5 66h1M330 90h1M300 82h2M296 91h1M322 89h1M301.5 87h1M290 82.5h1M318.5 64.5h1M303.5 69h1M327.5 78h1M332.5 78.5h1M288 71h1M302 72h1M298 58.5h1M287 79h1M323.5 58.5h1M307.5 80h1M338.5 75h1M309.5 95h1M336.5 83h1M306 61h1M337.5 70.5h1M290.5 75h1M304 59.5h1M325 67h1M311 68h1M315 75h2M292.5 65h1M295.5 90h1M324 93.5h1M292 87h1M339 78.5h1M335.5 81.5h1M335.5 59h1M339.5 91.5h1M325.5 74h3M335 92.5h1M327 86.5h1M298.5 64.5h1M336.5 76.5h1M319 65h1M327 81.5h1M321 60.5h1M304 66.5h1M338 80h1M298 71.5h1M294.5 56h1M323.5 65.5h2M338.5 69h1M290.5 60.5h3M300.5 89.5h1M295.5 72h1M326.5 69h1M306 87h1M287 90h1M327 75h1M322.5 95h1M335 94.5h1M327.5 64h1M293.5 76.5h1M298 87h1M304.5 58.5h1M296.5 95.5h1M315 78.5h1M311 86h1M308.5 93.5h1M339.5 81h1M333 95h1M298 80.5h1M311 70.5h1M295 64h1M317 83.5h1M321.5 69.5h1M303.5 64.5h1M313 65.5h2M295.5 83h4M313 63h3M339 82.5h1M295 78.5h1M320 69h1M312 60.5h3M306 87h1M319.5 89h1M320.5 82.5h1M327.5 68h1M332.5 80.5h1M303.5 76h1M288.5 87h1M290.5 92h1M312.5 91.5h1M322 75h1M325 79.5h1M325 71h1M338 61h1M290.5 94h4M311.5 91.5h1M316 64h1M326 96h1M333 78h3M334 78h1M333.5 69.5h1M338.5 93.5h1M336 84h1M335.5 94h1M294 75.5h1M320 68h1M328 81h1M292.5 93h1M298 90h1M315 75h1M300 74h1M308.5 59.5h1M293.5 58.5h4M307 70.5h2M335.5 61h1M291.5 67.5h1M322.5 84.5h1M331 66h1M309.5 90.5h1M312.5 79h1M330 69.5h1M299.5 71h1M301.5 73.5h2M305 93.5h1M301 68.5h1M296.5 79.5h3M333.5 84.5h1M322 85h1M307.5 77.5h1M324.5 70h1M308.5 72h4M308 69h3M317.5 64h1M335.5 61.5h1M300 56h1M291 88h3M317 61.5h1M302.5 62h1M317 77.5h1M303.5 58.5h1M335.5 89h1M327.5 71h1M318 78h1M298 75h1M328.5 61.5h3M296 64.5h1M327.5 89.5h1M334 72h1M327.5 64h1M299 61h1M335.5 94.5h1M289 86.5h3M327.5 88.5h1M319 59h1M317 63h1M308 60h1M323 90h1M306.5 64h1M304.5 85h1M328 68h3M334 91h1M301.5 58h1M310.5 67.5h1M334 61h1M314.5 83h1M332 64.5h1M297 79.5h1M308.5 62h1M326.5 75h1M306.5 59.5h2M291 80.5h1M331 57.5h1M337.5 68h3M335.5 84.5h1M298.5 90h1M295 61.5h1M295 94h1M306 70.5h3M294.5 73.5h1M304 68.5h1M288 61h1M301 81.5h1M315.5 57h1M293.5 89.5h1M318 75h3M333 90.5h1M313.5 90.5h4M334 79h1M330.5 91.5h1M295 87.5h1M289 73.5h2M336 92.5h1M325 59.5h1M335.5 68.5h2M298.5 64h2M319.5 93.5h1M334.5 86.5h1M294.5 85h1M314 73.5h4M302.5 83.5h2M325 64.5h1M309 62.5h1M306 73.5h1M319 79.5h1M307.5 70.5h1M321 90.5h1M304.5 80h3M321.5 79h1M326 72h1M306 60.5h1M330.5 78.5h1M328.5 83h1M323 91.5h1M339 94.5h1M331.5 90h1M325 71h1M316 84.5h1M294 65h1M307 56.5h1M317.5 65h1M329 62.5h2M305 59h1M320.5 82.5h1M334.5 62.5h4M289.5 60.5h1M300.5 76h1" stroke="#b0588a" stroke-width="1"/>
<path d="M287.3 113.22h1M326.4 101.32h1M334.56 120.36h1M332.52 103.36h1M311.44 113.22h1M326.74 106.42h3M336.6 122.4h1M330.48 119.34h1M303.62 104.38h1M331.84 125.46h1.8M290.02 130.22h1M331.16 98.26h1M327.42 134.3h1M312.12 111.18h1M336.6 128.18h1M315.18 114.24h1M289 121.38h1M308.38 122.4h2.2M296.82 128.18h1M293.76 110.16h3.5M298.52 98.26h3.9M336.94 131.24h1M333.2 117.3h1M298.52 105.4h2.7M335.24 120.36h1M322.32 97.24h1M292.74 121.38h1M328.44 125.46h1M318.58 111.18h1M333.88 130.22h3.1M317.9 130.22h1M289.68 139.4h2.7M296.14 104.38h1M324.7 130.22h3M329.46 104.38h1M292.4 137.36h1M303.62 128.18h1M321.3 105.4h1M321.98 104.38h1M306.68 134.3h1M325.38 130.22h1.8M290.02 118.32h1M334.22 104.38h1M335.58 102.34h2.3M319.94 122.4h1M298.86 106.42h1M294.78 117.3h1M291.72 126.14h1M298.18 122.4h1M302.26 130.22h3M334.22 111.18h1M301.24 107.44h1M287.64 125.46h1M300.22 129.2h1M298.52 122.4h1M287.64 133.28h1M320.96 129.2h1M333.88 102.34h1M297.16 122.4h1M306.34 134.3h1M337.28 104.38h2.9M315.86 122.4h1M332.86 132.26h1M300.22 130.22h3.2M289.34 125.46h1M309.74 98.26h1M314.84 103.36h1M309.06 112.2h1M334.22 114.24h2.6M311.44 104.38h1M314.5 111.18h1M327.08 101.32h1M310.76 124.44h1M335.24 132.26h1M299.88 97.24h3.9M327.76 118.32h1M300.56 101.32h1M308.72 123.42h1M337.28 119.34h1M329.46 107.44h1M297.5 129.2h1M297.5 126.14h1M310.76 116.28h3.4M297.5 106.42h2.6M323.68 134.3h3.8M288.66 102.34h1M319.94 103.36h1.9M336.6 121.38h1M318.58 104.38h3M329.12 123.42h2.6M326.06 117.3h1M327.76 101.32h1M307.7 101.32h1M287.3 127.16h1M319.26 122.4h1M321.3 138.38h1M288.66 136.34h3M335.58 99.28h1M327.42 128.18h3.1M297.16 115.26h1M296.82 111.18h1M321.64 119.34h1M288.32 121.38h1M291.04 134.3h1M305.66 118.32h1M310.08 124.44h1M328.1 129.2h1M331.84 135.32h1.9M315.18 119.34h1M311.78 122.4h1M293.76 132.26h1M313.82 129.2h1M331.16 100.3h1M288.66 130.22h1M326.06 135.32h2.2M321.98 128.18h1M321.3 127.16h1.7M319.6 111.18h1M289.68 124.44h1M290.02 104.38h1.7M336.26 129.2h1M337.62 97.24h1M295.12 98.26h1.5M299.54 117.3h3.1M320.62 108.46h3.2M312.12 114.24h1M287.3 125.46h1M327.08 108.46h3.8M311.78 105.4h3.5M332.52 135.32h1M333.54 118.32h2.2M299.88 97.24h1M291.04 118.32h1.8M299.54 103.36h4M297.16 102.34h1M309.4 114.24h1M331.5 131.24h1M287.3 138.38h1M303.28 97.24h1M323.68 105.4h1M315.86 117.3h1M318.58 101.32h1M312.46 99.28h1M307.36 130.22h1M322.32 125.46h1M309.06 111.18h1M304.98 102.34h2.3M287.64 123.42h1M337.62 100.3h1M321.98 112.2h1.7M310.08 122.4h1M307.36 114.24h1M292.74 130.22h1M316.88 122.4h1M300.22 126.14h1M335.24 107.44h1M312.12 112.2h1M331.5 106.42h1M306 104.38h1M294.78 122.4h2.7M289 133.28h1M292.74 118.32h3.3M338.3 107.44h1M321.98 108.46h1M314.84 123.42h1M317.22 133.28h1M330.48 122.4h1M314.16 115.26h3.8M290.02 110.16h1M290.7 111.18h1M289.68 105.4h1M292.06 98.26h1M323.34 128.18h1M310.42 119.34h3.7M297.5 113.22h1M324.36 119.34h3.8M287.64 113.22h1M328.1 121.38h1M298.52 118.32h1M320.28 111.18h1M300.22 130.22h2.9M325.04 98.26h3.6M312.8 110.16h1M328.1 118.32h2.5M321.64 110.16h3.1M290.36 118.32h1M316.2 117.3h2M321.3 108.46h1M312.12 133.28h1M288.66 111.18h1M311.78 98.26h1M319.6 109.14h4M338.98 101.32h1M308.38 113.22h1M305.66 128.18h1M311.44 107.44h1M324.36 126.14h4M295.8 132.26h1M292.06 121.38h3.8M329.46 117.3h2.1M319.94 128.18h1M302.6 119.34h1M302.94 99.28h1M332.18 130.22h1.8M289.68 123.42h1M317.22 111.18h1M310.42 102.34h1M311.1 101.32h2.6M315.86 123.42h2.2M319.94 106.42h2M299.88 115.26h1M289.34 99.28h1M329.46 120.36h2.3M321.64 121.38h1.5M314.16 130.22h1M309.4 99.28h2.9M325.72 114.24h1M303.28 113.22h3.5M329.46 100.3h1M315.18 105.4h1M316.2 131.24h1M311.1 121.38h1M319.6 99.28h1M326.74 128.18h1M306.68 123.42h1M305.32 133.28h2.7M318.92 112.2h1M308.72 110.16h1M293.76 119.34h1M328.1 118.32h1M294.1 124.44h1M328.44 126.14h1M291.38 117.3h1M296.48 139.4h1M295.46 125.46h2.3M306.68 102.34h1M308.38 112.2h1M299.2 103.36h1M303.62 111.18h1M328.1 98.26h1M301.92 116.28h1M323.34 100.3h1M334.9 127.16h1M295.46 123.42h1M313.82 115.26h1M324.02 125.46h3M329.12 111.18h1M317.9 124.44h1M321.3 121.38h1M287.64 111.18h1M287.3 101.32h1M318.58 101.32h2.4M290.02 122.4h3.7M297.5 109.14h1.8M329.8 129.2h1M294.44 118.32h1M336.6 132.26h2.4M293.42 107.44h3.7M314.84 139.4h1M312.12 139.4h1M329.46 111.18h1M315.86 110.16h2.7M337.96 114.24h1M318.58 117.3h4M338.64 103.36h1M307.02 126.14h1M331.16 109.14h1M302.94 130.22h2.2M329.46 130.22h1M322.66 113.22h1M331.5 122.4h3.3M301.58 135.32h2.6M287.64 128.18h1M290.7 125.46h1M303.28 103.36h1M337.28 137.36h2.6M293.42 120.36h1M330.14 97.24h1M306.68 103.36h1M296.82 117.3h2.5M292.4 126.14h4M292.06 113.22h1M300.22 136.34h1M304.64 109.14h1M324.02 127.16h1M331.16 98.26h3.3M296.82 112.2h2.3M294.44 110.16h1.5M318.24 130.22h2.3M334.22 100.3h3.7M295.46 101.32h2.1M335.24 126.14h2.3M295.8 113.22h1M323.34 121.38h1M307.02 123.42h1M308.04 121.38h1.6M325.04 108.46h1M287.3 126.14h4M335.58 132.26h1M324.02 113.22h1M314.16 105.4h1M300.9 100.3h1M291.04 139.4h1M334.56 119.34h1M333.88 98.26h2.3M311.1 120.36h1M319.26 139.4h3.8M301.24 137.36h1M315.18 105.4h1M301.58 135.32h1M336.26 100.3h1M327.76 139.4h3M302.6 117.3h1M295.46 120.36h2.7M328.78 129.2h3M324.7 139.4h1M329.12 139.4h1M308.04 118.32h2M304.98 101.32h1M299.2 110.16h2.6M327.76 117.3h1M294.44 101.32h1M323.34 121.38h1M311.44 117.3h1M330.82 105.4h1" stroke="#6a6a6a" stroke-width="1"/>
<rect x="287" y="139.3" width="5" height="1" fill="#555"/>
<path d="M363 39h1M364 43h1M387 29.5h1M387.5 37h1M357.5 35.5h1M388 35h1M401.5 44h1M375 23.5h1M362 47h1M391.5 39h1M378.5 34.5h1M367 35.5h1M363 39.5h1M388.5 41.5h1M368 18h1M373 42h1M382 44.5h1M378 30.5h1M403 21h1M366 38h1M388.5 31.5h1M384.5 32h1M390.5 50.5h1M398.5 40h1M380 52.5h1M379 39.5h1M401 42h1M376 44.5h1M387 51.5h1M388 36h1M406.5 35.5h1M376 52.5h1M405 21h1M359 49h1M401.5 29.5h1M368.5 42h1M404.5 23h1M379 41h1M367 31h1M363 33.5h1M367.5 17.5h1M375.5 20h1M361.5 20h1M377 27h1M393.5 31h1M368 22h1M371 44.5h1M366 33h1M397.5 48h1M379.5 48.5h1M389 23.5h1M360 21h1M397 30h1M399.5 53.5h1M403.5 33h1M355.5 25.5h1M367 40.5h1M392 51.5h1M392.5 53h1M389 33.5h1M399 25.5h1M396 43.5h1M401 16.5h1M365 53h1M363 32.5h1M387 33.5h1M401.5 53h1M373 19.5h1M403.5 32.5h1M368.5 19.5h1M356 38h1M370 36.5h1M404 34h1M405.5 17h1M395 45h1M405.5 15.5h1M382 36.5h1M386.5 33.5h1M369.5 51h1M401.5 42.5h1M405.5 36.5h1M359.5 42.5h1M361 44.5h1M389.5 22.5h1M363.5 17h1M364.5 54h1M367.5 50h1M362.5 28h1M380 28.5h1M406 24h1M380.5 22.5h1M361 42h1M373 34h1M391.5 17.5h1M358 42h1M407.5 15h1M379 54.5h1M399 54.5h1M383 53.5h1M358 33.5h1M400 30h1M378.5 32.5h1M375 47h1M406.5 23.5h1M372 47h1M394.5 47h1M391 51.5h1M399.5 40h1M370 17.5h1M400.5 49h1M402 25h1M394 52h1M366 15h1M364.5 23h1M391 47.5h1M398.5 42h1M406.5 53.5h1M378.5 51.5h1M393 24h1M386 21h1M376.5 47h1M356 36h1M378 25.5h1M358.5 35.5h1M373 18h1M376.5 41.5h1M359.5 46h1M359.5 33.5h1M374.5 49h1M402 44h1M370.5 27.5h1M398.5 35h1M388.5 43.5h1M365.5 30h1M405.5 27.5h1M400 20.5h1M356 34.5h1M370 38.5h1M395.5 15.5h1M381.5 29.5h1M403 48.5h1M401.5 44.5h1M373.5 39.5h1M384 29h1M370.5 40.5h1M402.5 24h1M374 20.5h1M374.5 30h1M360 40.5h1M373.5 47h1M368 44h1M406.5 21h1M374.5 53.5h1M376.5 27.5h1M363.5 48h1M372.5 50h1M384.5 21.5h1M407.5 51h1M394.5 38.5h1M395 52.5h1M365.5 24h1M395.5 31h1M407 48h1M382.5 20.5h1M387.5 38.5h1M386 46h1M380.5 50.5h1M386.5 20.5h1M398.5 21h1M403 52h1M365.5 22.5h1M392 32.5h1M375 44.5h1M373 19.5h1M384 50h1M405.5 18.5h1M394.5 27.5h1M406.5 30h1M360.5 27.5h1M382.5 21.5h1M395.5 27.5h1M394.5 23.5h1M381 41h1M366 26h1M399.5 30h1M373.5 39h1M391.5 49.5h1M385 49h1M402 52h1M403.5 42.5h1M392 30h1M361 51.5h1M377 28h1M384 45h1M399 18.5h1M396.5 52.5h1M406.5 52.5h1M385.5 50.5h1M386.5 48.5h1M407.5 29.5h1M362 44.5h1M404.5 51h1M379.5 32.5h1M362 49h1M369.5 19h1M360.5 52h1M377 46.5h1M359 33.5h1M394.5 45.5h1M365.5 33.5h1M398 51.5h1M360 38h1M402 39.5h1M396.5 26h1M381 14.5h1M397 37h1M365 52.5h1M366.5 15.5h1M393.5 17.5h1M390 19.5h1M356.5 44h1M387.5 41h1M392.5 43.5h1M364.5 31.5h1M386.5 49.5h1M389 34h1M398.5 48.5h1M368.5 21.5h1M355.5 49.5h1M366.5 37.5h1M383 41h1M404.5 41h1M364.5 31.5h1M365 29.5h1M394 40.5h1M388.5 49h1M407.5 24.5h1M392 40.5h1M356.5 54.5h1M376 41.5h1M367.5 31.5h1M361.5 53.5h1M357.5 17h1M393.5 37.5h1M372 52.5h1M392 32.5h1M392.5 52h1M401 29h1M396 23h1M375.5 54.5h1M394 30.5h1M384 32h1M392.5 35.5h1M379 31h1M401.5 47h1M368 30.5h1M402.5 44h1M387 39.5h1M366 37h1M394.5 32h1M377 31.5h1M387 23h1M398.5 16.5h1M396 35.5h1M368.5 24.5h1M369.5 20.5h1M407.5 25.5h1M359.5 41h1M406.5 26h1M367.5 38h1M372.5 33h1M385.5 54.5h1M375 29h1M392.5 37.5h1M401.5 32h1M388.5 35h1M387 34h1M364 19h1M376 55h1M382 34.5h1M379 45.5h1M374 30h1M373 37.5h1M380.5 38.5h1M404.5 28h1M388 54.5h1M394.5 48.5h1M398 22h1M388.5 28h1M374 19.5h1M396.5 51.5h1M400.5 32h1M403.5 47h1M387.5 47h1M396 14.5h1M388 40.5h1M374 47h1M394 18h1M375.5 14.5h1M375 18.5h1M355.5 26h1M393 21h1M406 21.5h1M399 25h1M401.5 34.5h1M399.5 32h1M370 50h1M356.5 19.5h1M362.5 37h1M395 24h1M386 49h1M355.5 45h1M362.5 15h1M381 30h1M376 40h1M356 38.5h1M363 52.5h1M380 23h1M383 31h1M359 45h1M378 48.5h1M395 47.5h1M405.5 26h1M385 37.5h1M387.5 44.5h1M395.5 40.5h1M387 36h1M362.5 25h1M361.5 38.5h1M387 23h1M375 49.5h1M363.5 36h1M382 33.5h1M370.5 53h1M385 34.5h1M359.5 15.5h1M380 25h1M391 43h1M358.5 29.5h1M371.5 40.5h1M385 49h1M357.5 33.5h1M393.5 21h1M357.5 32.5h1M367.5 16h1M400 44.5h1M390.5 49.5h1M394 32h1M395.5 52h1M405 49.5h1M397 53.5h1M405 40h1M377.5 42.5h1M406.5 18h1M378 19.5h1M361 37.5h1M365 18.5h1M386 36.5h1M381.5 15h1M362.5 36h1M358.5 18.5h1M373.5 52.5h1M395.5 50h1M396.5 18.5h1M393 41.5h1M404 16.5h1M364.5 19.5h1M377.5 28h1M369.5 45.5h1M404.5 52.5h1M359.5 21h1M379 45.5h1M395.5 48h1M362 37h1M358 42h1M399 27h1M375.5 17h1M401.5 28h1M370 29.5h1M363.5 54.5h1M404.5 36h1M376 34h1M404.5 15.5h1M367 41.5h1M371.5 34.5h1M360.5 31.5h1M404 42.5h1M386.5 48.5h1M364.5 43h1M406 29.5h1M356 39h1M403.5 18.5h1M369.5 43h1M383 54.5h1M384 29h1M374 34h1M396.5 45h1M378.5 29.5h1M387.5 21.5h1M381 28h1M356.5 42h1M360 26h1M387 49.5h1M389 53h1M356.5 47h1M394 43h1M405.5 17h1M359.5 53h1M402 19h1M379.5 49.5h1M386.5 15.5h1M366.5 48h1M363.5 25.5h1M398.5 21.5h1M386 21h1M364 36.5h1M396.5 30h1M368 43h1M393 14.5h1M390.5 35.5h1M407 38.5h1M387.5 17h1M380.5 16h1M364.5 34.5h1M400 53.5h1M399.5 34.5h1M379 42.5h1M374 15h1M394.5 52.5h1M402 40h1M397.5 22h1M367.5 49.5h1M382.5 23.5h1M389.5 43.5h1M401.5 19h1M371 35h1M399.5 54.5h1M360.5 27.5h1M377 52h1M389.5 26.5h1M385.5 22h1M400.5 31h1M385 46.5h1M382 17h1M373.5 14.5h1M378 54h1M395.5 54h1M363 42h1M396.5 32h1M398.5 18h1M402.5 53h1M366 17h1M401 38h1M407 36.5h1M367.5 25h1M390 28h1M407 45.5h1M385.5 49.5h1M397.5 29.5h1M387 31.5h1M357.5 19h1M369 15.5h1M401 34.5h1M368.5 18h1M391 31.5h1M400.5 39.5h1M360.5 53.5h1M401.5 29h1M397 40h1M360.5 24h1M372 37h1M381.5 37h1M357 29h1M362 29.5h1M407.5 18h1M356 30.5h1M375.5 17.5h1M400.5 46.5h1M398.5 40.5h1M382 37h1M365 15h1M405.5 50.5h1M370 35.5h1M361.5 47.5h1M402.5 54h1M360 54h1M360.5 45h1M406 21.5h1M386.5 47h1M397 47.5h1M390.5 35h1M383.5 45h1M394.5 41h1M401 25h1M373 30.5h1M369 43h1M356 52.5h1M363.5 40.5h1M394.5 25.5h1M357 54h1M403.5 34.5h1M367.5 34h1M387.5 19h1M387.5 42.5h1M366.5 28.5h1M375.5 25.5h1M378 19.5h1M372.5 49.5h1M390.5 32.5h1M362 28h1M393 33.5h1M395.5 42.5h1M381.5 42.5h1M381.5 28h1M407 44h1M375.5 14.5h1M379.5 27.5h1M401.5 53.5h1M393 15.5h1M391 22h1M385 47.5h1M358.5 53.5h1M399 31.5h1M383 28h1M399 53.5h1M380 46h1M361 20h1M404 21h1M394 44h1M358.5 48.5h1M384.5 34.5h1M393 30.5h1M401 37.5h1M396 31.5h1M377.5 28h1M365 49.5h1M386 52h1M388.5 45h1M385.5 34.5h1M400 19h1M388 14.5h1M362 54h1M356.5 47h1M407.5 42.5h1M406.5 20.5h1M393 39h1M382 17h1M358.5 47h1M364.5 42h1M363 40.5h1M358 53.5h1M391 23.5h1M406 20.5h1M380.5 38h1M363 42h1M369.5 47h1M406.5 52h1M361 34h1M391.5 15.5h1M356.5 45.5h1M392 22h1M394 47h1M370.5 36.5h1M395.5 16.5h1M393 53.5h1M407 54.5h1M398 52.5h1M375.5 26h1M396.5 23.5h1M369 39h1M376.5 52h1M362.5 28.5h1M402 26.5h1M393.5 35h1M405 20h1M382 27h1M393 52.5h1M391.5 53.5h1M399.5 33h1M368.5 16h1M375 28h1M387 54h1M383 22h1M399.5 29h1M390.5 41.5h1M389 18h1M360.5 44h1M380 40.5h1M402.5 27.5h1M375.5 43.5h1M365 35h1M360 45h1M369.5 23h1M380.5 46h1M388.5 31h1M361 32h1M356 33.5h1M360.5 41.5h1M401 29h1M406 38.5h1M379 36.5h1M397.5 44.5h1M403 52h1M365.5 50.5h1M403 29h1M390 32.5h1M373.5 32.5h1M406.5 28.5h1M357.5 47h1M367.5 15h1M366.5 22.5h1M385.5 18h1M402 43h1M405.5 51h1M401.5 52.5h1M372.5 49h1M376.5 52h1M357.5 40h1M381 49h1M366.5 43h1M373 54.5h1M382.5 30h1M400 41h1M389.5 41h1M385.5 44h1M394.5 43h1M357 41h1M407.5 43h1M385 19h1M381.5 32h1M364.5 26.5h1M370.5 15h1M380.5 46.5h1M387.5 52h1M403.5 40h1M365 15.5h1M386 17.5h1M390 49h1M373.5 24.5h1M366 54h1M378 28h1M385 41.5h1M378 38.5h1M362 21h1M373 38.5h1M381 26.5h1M373.5 16h1M391.5 49h1M393.5 44.5h1M369 27h1M378.5 20.5h1M358.5 47.5h1M382.5 48.5h1M394.5 30.5h1M364.5 24.5h1M381.5 41h1M371.5 28.5h1M368.5 28h1M374 34h1M357.5 46h1M396 38.5h1M395.5 37.5h1M381.5 50.5h1M404.5 51.5h1M407 27.5h1M374 45.5h1M374 32h1M376 46.5h1M368.5 14.5h1M403 38.5h1M403.5 24.5h1M356.5 16h1M380.5 27.5h1M363.5 52h1M406 23.5h1M398.5 53h1M388 23.5h1M359.5 27.5h1M358 51h1M389.5 40h1M403.5 28.5h1M364 44h1M367.5 31.5h1M403.5 54h1M374 29h1M381 27.5h1M356.5 18.5h1M378.5 32.5h1M404.5 19h1M363.5 15h1M370.5 18.5h1M386 27.5h1M404 25.5h1M379.5 32h1M394 23.5h1M357.5 45.5h1M367 41h1M392 37h1M389.5 26h1M401 24.5h1M404 27.5h1M389 34h1M370.5 22.5h1M382 54h1M379.5 45h1M402.5 25.5h1M384 19h1M402.5 45h1M365.5 51h1M393.5 38h1M386 36h1M397.5 30.5h1M374 28.5h1" stroke="#c98e4b" stroke-width="1"/>
<path d="M389 72.5h1M375 58h4M379 92h1M368 81.5h1M389 63.5h1M380.5 73h1M399 82.5h1M395 74h1M381 95h1M364.5 81h1M368.5 63h3M362 61h1M397 64h1M371.5 82h1M372.5 74.5h3M406.5 87h1M397 71.5h1M373.5 72.5h1M401.5 91.5h1M385.5 56.5h2M406 71.5h1M361 93h1M389 94.5h4M389.5 94h1M389.5 74.5h2M401.5 63h1M378.5 86h1M360.5 78.5h3M400.5 88.5h2M360 71.5h1M382.5 83h1M379 57.5h3M395 76h1M367.5 83h1M387 58.5h1M388 65.5h1M356.5 72.5h1M389.5 76.5h1M391.5 76.5h1M401 78.5h1M375 62h1M382.5 85.5h4M381.5 77.5h1M388 68h2M399.5 94.5h1M401.5 88.5h1M377 74.5h1M392.5 64h4M373 65.5h1M366.5 59h1M369 92.5h1M371 62h1M356.5 57.5h1M401.5 69.5h1M393 90h2M371 87h2M362.5 59h1M377.5 94.5h4M404.5 66.5h1M364.5 63.5h1M390.5 64.5h1M401 74h1M368 64h1M398 84.5h4M384 70h1M404 77h1M387 69.5h1M388 62.5h1M396 71h1M406 79.5h1M365.5 86h1M393 94.5h1M367 93.5h1M364.5 57.5h1M386 75.5h1M405.5 59.5h2M397 84h2M382.5 64h1M356.5 70.5h1M393 58.5h1M378 77h1M399.5 63.5h1M389.5 56.5h1M362.5 96h2M378 76h1M368.5 70.5h1M369.5 57h1M402 79h1M399.5 73.5h1M407.5 92.5h1M380.5 62h1M407.5 71.5h1M383 89h1M373.5 93h1M370 82.5h1M373.5 62.5h1M392.5 58.5h1M400.5 57h1M368 71h4M370.5 73h1M386 73h1M355.5 78.5h1M368 65.5h1M363 76.5h1M364 69h1M388.5 66h1M407.5 62h1M362.5 66.5h1M373 95.5h4M404 72h1M362 95.5h4M374.5 90.5h4M405 85.5h1M358 83h1M396 81h4M371 80h1M384 76.5h1M402 94h2M374.5 74.5h1M405 90.5h1M397 91h4M356 84h1M384.5 81.5h4M370.5 75.5h1M366 91h4M389 86.5h1M364 78.5h1M403.5 62.5h1M380 96h1M380 64.5h3M358 88.5h1M407.5 90h1M391.5 71.5h1M404 72h1M355.5 59.5h1M389 86h1M363.5 75.5h1M385.5 95.5h1M392 82.5h1M357.5 65.5h3M384.5 69h1M367 80h1M366 62.5h1M364.5 59h1M387 58.5h1M406 65h1M400.5 60.5h1M394 68.5h1M396 62h1M389 81.5h1M387 65h1M401.5 91.5h1M381 84.5h3M384.5 73h1M358.5 90.5h1M384 88h1M358 71h1M387.5 62h1M373.5 58h1M395.5 94.5h1M397.5 82.5h1M372 63.5h1M397.5 78.5h1M387.5 60h2M369 64h3M368.5 73.5h1M360.5 87h1M400 87.5h1M403.5 94.5h1M365 89h1M400 93.5h2M367.5 66h1M359.5 71h1M360.5 72h1M375 77h1M396.5 66.5h1M372 58.5h1M373 96h4M371.5 80.5h1M381 58h1M391 89.5h1M406 87h1M357 65.5h1M370 75h1M389.5 66h1M360.5 80h1M398 70h1M399 74h1M362 61h1M372.5 63h1M372.5 60.5h1M372.5 80.5h1M385 58.5h4M399 96h1M405.5 90.5h1M371.5 80h1M361 64h4M384.5 61.5h1M359.5 93.5h1M378.5 85.5h1M404.5 56.5h1M398 68h3M401.5 93.5h3M397 94.5h1M379.5 61.5h1M389 64h1M387.5 78.5h1M388.5 72h1M370.5 79h1M362 69h1M357 93h1M384 86.5h1M402.5 65.5h1M385.5 73h1M385 71.5h1M369 95h4M381.5 84.5h1M390 80.5h4M374 96h1M386 75.5h1M384 89h1M357 61.5h1M377 61h1M374 92h1M394 61h1M390 78.5h1M397.5 78h1M402 90h1M387 65.5h1M358.5 95.5h1M407 71h1M379 59h1M367.5 71.5h1M403 70.5h4M401.5 94h1M405 78.5h1M394 86h3M370 63h1M369 71.5h1M392 90.5h1M381 57h1M365 75.5h2M397 88h3M392 91h1M361 94.5h1M368 59.5h2M364 69h1M403 62h1M387.5 89h1M407.5 70h1M380 95.5h4M363 88h4M379 67h1M364 82.5h1M357 72.5h1M371 91h1M382 61.5h1M401 62h1M369.5 64.5h1M378.5 68.5h1M373 57.5h1M405 68h1M381.5 76.5h1M379.5 66.5h1M370.5 66h1M374 92h3M393.5 74.5h1M372 76h1M374 88h4M386 86h1M378.5 78h2M361 66h1M407 63h1M381.5 81.5h1M360 94h1M380 83.5h1M385 66.5h2M375.5 83.5h1M371.5 93h3M389 64h1M403 96.5h1M358 87.5h1M361 58.5h1M355.5 71.5h1M363 57h1M380.5 96h1M403 93.5h1M369.5 56.5h1M383.5 56.5h1M382.5 91h2M402 64.5h1M395 79.5h1M384.5 88h4M403.5 70h3M355.5 82h1M361.5 87.5h1M384.5 74h2M359.5 92h4M359 92.5h2M394.5 84.5h1M404 86.5h1M378.5 70.5h1M389 63h1M381 90.5h1M385.5 87.5h1M355.5 65h3M366 93h1M367 73h4M355.5 64h1M402.5 84.5h1M359 69.5h1M378.5 74h1M383 82.5h1M384 57.5h1M405 69.5h1M393 61h1M394 57.5h1M374 63.5h1M387.5 75.5h1M389.5 75h1M357.5 91.5h1M391.5 68.5h1M392.5 65.5h1M383 73h1M379.5 61h1M398.5 74h1M376.5 68.5h3M390.5 80.5h1M371 65h1M378 78.5h1M381 84h1M387 73.5h3M367 86h1M365 66.5h2M376.5 88.5h1M368.5 66h1M378 68.5h1M389 66h1M398 56h1M391 88.5h1M389 88h1M401 81.5h1M381.5 88.5h3M384 58.5h1M369 78.5h1M406.5 81h1M396.5 90.5h1M404.5 80.5h3M357 75h4M392 74h1M372 95.5h1M365.5 93h1M400 66.5h1M389.5 66.5h3M405.5 79h1M359 86h1M402 58h1M401.5 95.5h1M377.5 61h3M363 92.5h1M364.5 73h1M360 61.5h1M356 76.5h1M406.5 65h2M374 67h1M377 71h1M373 77h1M403.5 75h1M368.5 61h2M406.5 61h1M363.5 72.5h4M371.5 87h1M400.5 92h1M403.5 60h1M400.5 75h1M383.5 82h1M398 78h3M378 83.5h1M367 70.5h3M373.5 81.5h1M405.5 57h1M365 61.5h1M367.5 82.5h1M404 68h1M378 91h3M355.5 92h1M366.5 56.5h1M405.5 57h1M402.5 73.5h1M384 70h3M389.5 59.5h1M400.5 85h1M377.5 74.5h3M398.5 94.5h1M380 83h1M404.5 89.5h1M402.5 71h1M398.5 65h4M357 85h1M375.5 57h2M406.5 59h1M394 83h1M361.5 74h1M378 56h1M391.5 95h1M373.5 93.5h3M399 84h1M395.5 92.5h1M363 62.5h1M372 90.5h1M373 71h1M399.5 69h4M357.5 72.5h1M396.5 69.5h1M363.5 71.5h1M369.5 63.5h3M405 93h1M362 81.5h1M370.5 70h1M404.5 93h1M361 88.5h1M377.5 77.5h1M371.5 83h2M360 81.5h1M368.5 70h3M385.5 82.5h1M378.5 72.5h1M367.5 72.5h1M380 59h1M367 68h1M370 95.5h1M404.5 58.5h1M372.5 82.5h1M376 64.5h3M401.5 85h1M372.5 84.5h1M361 93.5h1M381 86.5h1M380.5 70h1M365.5 95h1M392 89.5h1M381 89.5h1M395.5 65.5h1M399 96h1M398.5 91.5h1M363.5 60h1M400 90h1M373.5 89.5h1M387 73h1M407 95h1M380 73h1M363 71h3M393 91.5h4M402 69.5h1M386 62.5h1M398.5 80h1M365 80h1M365 90h1M373 69.5h1M401 66h2M383 86.5h1M386.5 94.5h4M390 66.5h1M394 91h3M393 64.5h1M384 93.5h1M406.5 64h1M402.5 88.5h1M391.5 58h1M399 71.5h1M406 57h1M372 83.5h1M399.5 87h4M361 72.5h1M381 92h1M385 75h3M403 88.5h2M404.5 80h3M365.5 94h1M391 70.5h1M378 95h1M358.5 67h1M404.5 63h1M360.5 57h1M398 81h1M357 56h1M359.5 82.5h1M358 86h1M379.5 74h1M399 79.5h1M401.5 72h4M381.5 91h1M401 70h1M382.5 58.5h1M366 88.5h1M383.5 75h1M406.5 63h1M375 59.5h1M397.5 92h1M356 86.5h1M359 58.5h4M378 57h1M370.5 86.5h1M385.5 69.5h1M378.5 69h1M357.5 90h1M363.5 84h1M397 81.5h1M379.5 92.5h1M399.5 89h1M404.5 73.5h1M374 67.5h2M375.5 72h1M372.5 63h1M387 77h1M386.5 59.5h1M371 86h3M400 72h4M392 77h1M363.5 67h1M380.5 74.5h1M358 70h1M361 74h1M389 92.5h1M362.5 62h3M359 56h1M401.5 94.5h1M370 90.5h1M383.5 75.5h3M374.5 93.5h1M360 62.5h1M375.5 69.5h1M356.5 59h1M356 70h1M356.5 57.5h1M378.5 72h1M400.5 94h3M383.5 79.5h1M368 61h1M372 76h1M374.5 78.5h1M392 91.5h1M363 74.5h1M404 89.5h1M387 60h1M375.5 83h2M356.5 70h1M356.5 93.5h1M377 88.5h1M389.5 87h1M388.5 72.5h1M388 90h1M403 65.5h1M365.5 84.5h1M389.5 89h2M380 80h1M369 78.5h1M356.5 86.5h1M355.5 94h1M402 75.5h1M369.5 68h1M408 91.5h1M401.5 64.5h1M383.5 68.5h1M396.5 85.5h1M401 86h1M393 66h4M380.5 63h1M404.5 60.5h1M364 69h1M385 89.5h1M357 56.5h4M364.5 87h1M384.5 58.5h1M369.5 87.5h1M404.5 83.5h1M392.5 76.5h1M369 92h1M385 73h1M359 80h1M401.5 83.5h1M381.5 59.5h1M404.5 57.5h1M392 67.5h1M384 95.5h1M400.5 56.5h1M390.5 88.5h1M370 64h1M367 72h1M359.5 58.5h1M390.5 63.5h1M375.5 96h3M357 94h1M358.5 96h1M382.5 80.5h2M376.5 87h1M393 89.5h1M373 76h1M397 61h1M396.5 70.5h1M383.5 59h1M400 58.5h1M359.5 83.5h1M387 82h1M371.5 74.5h1M391 66.5h1M362 65.5h1M398.5 64.5h1M392.5 86h1M382 72h1M383.5 84.5h1M366 76.5h1M385.5 64h1M404.5 73h1M375.5 87h1M387 67.5h1M365.5 63h1M391.5 62.5h1M359.5 67.5h1M377 94.5h2M356 65h1M375.5 64.5h4M361 95h1M366 75h1M364 83h1M378 91h1M376.5 78h1M380.5 66h1M396 95.5h1M360.5 56.5h4M402 56.5h4M358 88.5h1M388 67h1M403.5 92.5h1M375 71.5h1M384.5 79.5h1M356 88.5h1M401 62h1M394 77h1M395.5 78h1M401 68h1M373 56.5h1M403.5 79h1M358 75h2M377 65.5h1M387.5 80.5h1M385 57h1M386 91.5h1M402.5 66.5h1M368.5 84.5h1M399 79.5h1M389 85h1M372 83.5h1M390.5 91h1M380.5 58.5h1M378 64.5h1M374 83.5h1M376 89h1M397 82h1M362 63.5h1M403 64h4M387.5 70.5h1M386 77.5h4M386.5 87.5h1M376.5 65h4M372 71h1M389 93.5h2M375.5 86h2M387 72h3M391.5 72.5h1M402 67.5h2M357 88.5h1M388.5 67h1M356 56.5h1M391 84h1M396.5 65.5h1M367.5 87h1M357.5 69h1M405.5 89.5h1M390 74h3M383.5 90.5h4M363 63h2M381 91.5h1M372 90h1M399 67h2M407 56h1M371 92h1M378 72h2M389.5 68.5h4M377 79.5h1M407 85.5h1M389 93.5h1M359.5 56h1M379.5 86h4M382.5 61.5h1M368 67h1M362 77h1M372 68h1M394 96h1M394 58.5h1M371.5 89.5h3M374.5 93.5h4M393 61.5h1M394.5 94.5h1M385.5 68h1M388.5 86h1M358 92h1M400 56.5h1M388.5 62.5h3M394 56.5h1M359.5 71.5h1M367 70h1M359 88h1M388.5 85.5h1M358 79.5h1M378 69h2M396.5 88h1M378.5 80.5h4M363.5 71.5h1M403 56h3M385 70.5h1M366.5 62.5h1M386 58.5h4M385.5 69.5h4M395.5 63.5h1M404.5 80h1M391 96h2M379 90h1M363.5 87.5h1M375.5 90h1M386.5 72h1M357 59h1M398.5 78.5h1M363.5 56.5h3M371.5 79.5h1M355.5 81.5h1M406 86.5h1M366 91.5h1M369.5 73h1M390 79h1M408 77.5h1M373.5 78h1M357.5 80.5h1M401.5 56.5h1M389 87.5h1M378.5 63h1M379.5 69.5h1M392.5 95.5h1M396.5 60.5h1M401.5 72.5h1M390 94h1M392.5 71.5h1M369 71h1M376 91h1M366.5 74h1M385.5 60h1M367 75.5h1M355.5 93.5h1M399.5 84.5h1M377.5 88.5h1M364.5 84h1M367.5 88h1M400.5 73.5h1M373 57h1M393 90h1M405.5 68.5h1M398.5 88.5h1M388.5 67.5h1M358 90h1M405 85.5h1M375 96.5h1M384.5 86.5h1M365.5 62.5h1M397 81.5h1M387 83h1M400 64.5h4M391 78.5h1M402 95h1M384 59.5h1M380 71h3M405 79h1M376.5 84h1M390.5 60.5h1M380.5 85.5h2M388 65.5h1M386.5 67h1M394 59h2M364.5 83.5h2M356.5 85.5h1M382 83.5h1M358 67.5h1M366 74h4M396.5 66.5h1M401 90.5h4M392.5 68h2M360.5 90.5h1M388 93.5h1M387 65h1M385 77.5h1M389 78.5h1M384.5 61.5h1M376.5 89h1M404 82.5h1M380 94.5h1M399.5 86.5h1M395.5 67.5h1M357.5 76h1M386 74h1M358.5 62.5h1M375 56.5h1M395.5 65h1M371 81h3M379 93.5h3M407 82h1M368 90h2M355.5 82h1M371 88h1M371 77h1M376 59.5h1M366 57.5h1M359.5 62.5h1M379.5 64h1M362.5 86.5h4M363 96.5h1M360.5 60h1M357 56.5h1M355.5 82h4M385 68.5h1M355.5 84.5h1M386 64h1M357 86h1M405.5 85h1M359 83.5h1M364.5 59.5h4M359 62.5h1M406.5 83h1M365.5 63h1M376 66.5h1M371 73h1M364 88.5h1M376.5 73h1M395 81.5h1M400 67.5h1M359.5 60.5h1M376.5 65.5h1M364.5 59h1M400 79h1M379.5 57h1M380 83.5h1M380.5 88h1M357 70h1M371 86h3M356.5 79h1M368 92h1M364.5 80.5h1M372 87h1M403.5 85h1M386.5 88h1M399 94.5h1M371 65h1M360 91.5h1M357.5 56.5h1M396 70h2M381 76h1M404.5 72.5h1M381.5 79.5h1M379.5 70.5h1M371.5 65h1M402 84.5h1M371.5 61h2M397.5 64.5h4M371 70h1M360.5 70h1M397 78h1M390.5 64.5h1M370 76.5h1M394.5 65h1M395.5 78h1M396 81h1M392.5 83.5h1M379 96h1M401.5 76.5h1M400 80.5h2M369.5 68.5h2M367 71.5h2M394.5 77.5h1M389 95h3M391 62h1M377 84.5h3M364 92.5h1M357 93.5h1M405 57h1M397 80h1M391 83.5h1M393 83h1M373.5 74.5h1M357 71.5h1M379 62.5h1M378.5 76h1M376.5 94h1M358.5 92h1M388.5 74h1M356.5 66.5h2M358.5 83.5h1M378 85.5h4M391 86.5h1M376.5 62.5h1M407.5 94h1M391.5 61h1M374.5 94.5h4M358 64.5h1M374.5 85h1M385.5 75h3M364 64h1M384.5 88h2M407 67.5h1M364 64.5h1M398 85h4M373 63.5h1M373.5 94.5h1M390.5 86h1M370.5 85.5h1M401.5 88h1M383 89h1M396.5 85.5h2M386.5 58.5h1M380.5 56h1M377.5 95.5h1M365.5 83.5h1M383.5 75.5h4M356 57.5h3M356.5 58h1M366 96h1M356.5 74.5h3M378 93.5h2M398 69.5h1M388.5 76.5h4M377 56h1M387 77h1M405 72.5h1M398.5 61h1M399.5 64h1M371 58h1M394 72.5h1M382 75.5h1M357 70h1M373 60.5h1M369 81h1M376 69h4M366.5 83.5h3M365 95.5h3M407.5 95.5h1M371 80.5h1M391 56.5h1M380.5 95h1M372.5 76.5h1M385 82.5h4M372.5 66h1M360 92.5h1M382 59.5h1M373 85.5h2M396 76.5h1M387 95h1M373.5 89.5h1M356.5 80h1M403 94h1M385 80h1M385.5 70.5h1M394 74h1M392.5 86h1M369 92.5h1M360 93h1M393.5 61.5h1M365.5 91.5h1M393 82h1M406.5 58.5h1M405 59.5h1M384.5 66.5h1M365.5 69h2M392.5 66h3M384 89h1M393 94h1M362 85.5h2M369.5 82h1M401 59.5h4M368 86h1M356.5 74h3M378.5 85.5h1M402 71.5h1M365 69h1M407 60.5h1M385.5 59h1M405 80h1M405 75h1M370.5 56.5h3M369 91.5h3M405 90h1M361 66.5h1M387.5 67h1M374.5 57h3M385.5 84h1M361.5 73h1M371 92h1M372 63h1M387 82.5h1M374 84.5h1M373.5 93.5h1M392.5 62.5h1M373.5 58h3M385 56h2M365 92.5h1M363 74.5h1M389.5 74h1M379 58h1M380.5 77.5h1M380.5 66h1M362 66h4M405.5 64h1M369 82h1M359.5 57h1M362.5 82h3M355.5 71h1M356.5 68.5h2M388 72.5h1M400.5 94h1M386 70h3M407 61h1M382.5 87h1M381.5 64h1M391 78h1M358.5 69h1M362.5 61h1M393.5 86.5h2M368 96h1M407.5 59.5h1M366 64.5h1M399 77.5h1M391 79.5h1M389 57h1M368 73h3M391.5 79.5h1M372.5 81h1M372 92.5h1M387 81.5h4M374.5 83h1M369.5 93.5h1M399.5 68h3M380.5 83.5h1M372.5 90.5h1M395 75.5h1M396 90.5h4M371.5 92.5h1M394.5 67.5h2M366 74.5h1M363.5 58.5h3M373.5 64.5h4M378 67h1M366 87h1M360 78h1M367.5 58h1M382 63h2M404 76h1M400 91h3M358 88h1M375.5 85h2M394.5 85.5h1M377.5 74h4M387.5 59.5h1M380.5 88h1M358.5 80.5h4M387 87.5h2M391.5 90h2M395.5 90h1M395 56h2M359 71h1M378 91h1M367 65h1M366.5 93h1M367.5 63h1M380 91.5h1M382.5 95h1M390 94h1M392.5 94h1M388 93.5h3M380.5 67h1M382 83.5h1M405 56.5h1M395 56h1M390.5 71h3M356.5 74h3M372 72h1M376.5 77h1M386.5 63.5h1M395 91.5h1M382 85h1M367 74h1M388 60h1M374 66.5h4M367 60h1M381 83h2M381 65h2M393 65h3M397 77.5h1M369 59h1M404.5 58.5h1M362 87.5h1M373 59h3M398 61h1M374.5 76.5h1M359.5 69h1M360.5 62.5h1M375 65.5h1M394 66.5h1M358 71h1M378.5 84h2M406.5 62.5h2M404.5 61.5h1M368 87h1M374.5 69.5h1M373.5 79h1M365 88.5h1M380 85h1M372.5 75.5h1M380 73h1M368.5 66.5h2M373 66.5h1M364 60h1M403 66.5h1M397 96h3M405.5 57.5h1M376 81h1M399.5 91.5h1M378 56.5h2M405.5 77.5h1M373 66.5h4M359 66.5h1M383 73.5h1M401 76.5h2M376.5 79h1M399 72.5h1M378 91h1M384.5 92.5h1M401 71h1M397.5 80h1M398 90h3M357 92.5h1M386.5 93h1M369 94.5h1M394.5 64.5h1M382 57.5h1M363 60h2M397.5 68.5h1M402.5 94h1M372.5 60.5h1" stroke="#ad5784" stroke-width="1"/>
<path d="M358.36 126.14h1M393.72 125.46h3.9M380.12 122.4h2M358.36 107.44h1M376.72 98.26h1M379.44 126.14h3.1M392.02 108.46h1M393.38 132.26h1M384.54 107.44h1M391.68 126.14h1M400.18 135.32h3.7M391.34 108.46h1M360.4 124.44h1M396.1 124.44h3M404.6 139.4h1M373.66 117.3h1M403.24 134.3h1M394.74 105.4h1M374.34 122.4h1M355.98 110.16h3.3M399.5 121.38h1M393.72 127.16h1M364.14 117.3h1M367.88 119.34h1M390.66 130.22h1M372.98 134.3h1M379.1 114.24h1M389.98 127.16h1M368.9 100.3h1M402.22 123.42h3.2M377.06 105.4h1M360.06 126.14h2.4M370.26 121.38h1M372.98 130.22h1M370.6 119.34h1M392.36 103.36h1M378.08 115.26h3.2M385.9 122.4h1M401.88 97.24h1M391.68 125.46h1M378.42 133.28h1M359.04 104.38h1M378.08 126.14h2.4M365.16 114.24h1M378.76 137.36h1M382.5 122.4h1M403.58 109.14h1M389.64 100.3h1M392.36 102.34h3.7M380.8 120.36h1M403.58 139.4h1M398.48 133.28h1M360.74 125.46h1M372.98 136.34h1M376.38 116.28h1M378.42 125.46h3.6M389.98 129.2h2.6M370.6 139.4h2.3M369.24 130.22h1M357.68 118.32h1M398.14 114.24h2.4M388.96 139.4h1M383.18 136.34h1M381.82 139.4h3.3M401.54 131.24h1M386.92 132.26h1M368.22 99.28h1M362.44 112.2h1M387.94 130.22h1M359.72 116.28h1M376.72 135.32h1M398.82 98.26h1M378.76 124.44h1M377.4 120.36h1.6M358.02 133.28h3.6M397.8 118.32h1M400.86 125.46h3.9M359.72 107.44h1M382.16 114.24h1M364.82 113.22h1M400.18 115.26h1M386.92 103.36h3.3M398.14 97.24h1M404.6 100.3h2.8M362.78 118.32h1M404.26 135.32h3M395.76 121.38h3M355.64 139.4h1M386.24 122.4h2.7M381.14 121.38h1.8M387.94 127.16h1.9M399.84 103.36h1M383.18 97.24h1M396.44 134.3h3.9M371.96 111.18h1M357.34 122.4h1M363.46 120.36h4M359.38 123.42h3.8M356.32 112.2h1M386.58 99.28h1M391.34 117.3h1M358.36 106.42h2.4M386.24 106.42h1M363.12 109.14h1M359.72 107.44h1M357.34 106.42h1M365.5 98.26h1M373.32 125.46h1M374.34 100.3h1M406.64 100.3h1M383.86 107.44h1M406.98 100.3h1.7M380.46 97.24h1M402.22 115.26h1.9M366.18 98.26h1M377.4 105.4h3.8M397.12 112.2h1M392.36 121.38h2.8M368.9 136.34h1M374.34 106.42h1M381.82 119.34h2.7M358.36 119.34h1M358.02 125.46h3.4M394.74 137.36h1M359.38 117.3h1M393.72 132.26h1M377.4 100.3h3.9M384.54 124.44h1M389.64 136.34h1M361.42 128.18h1.8M395.08 117.3h3.2M384.2 130.22h1M406.3 116.28h1M366.86 129.2h2.6M403.58 128.18h1M370.94 115.26h1M396.1 131.24h1M381.82 132.26h1M358.7 113.22h1M376.04 123.42h1M374.68 126.14h1M383.52 129.2h1M401.88 134.3h1M394.4 105.4h3.8M373.66 104.38h1M397.46 120.36h1M364.48 116.28h1M362.1 105.4h1M388.96 109.14h3.6M396.78 98.26h1M404.6 133.28h1M399.16 108.46h1.9M371.96 97.24h1M393.38 118.32h1M392.7 105.4h1M382.5 116.28h1.7M379.1 116.28h1M393.38 105.4h1M355.64 99.28h1M372.3 128.18h1M396.78 116.28h1M398.14 114.24h1M358.36 108.46h1M397.12 121.38h1M407.32 128.18h1M377.74 113.22h1M379.44 118.32h2.6M361.42 97.24h2.6M402.56 106.42h4M374 109.14h1M385.9 134.3h1M370.6 117.3h1M375.02 124.44h1M394.4 106.42h2.3M388.28 120.36h2.7M394.06 133.28h1M373.32 135.32h1M390.66 107.44h1M355.98 123.42h2.7M378.76 107.44h1M355.98 98.26h1M391.34 132.26h1M395.76 133.28h3.2M372.3 130.22h1M402.56 109.14h3.8M404.26 130.22h1M406.98 128.18h1M402.56 131.24h2.1M367.54 126.14h3.9M392.7 130.22h3.5M384.54 98.26h1M374.34 97.24h1M393.38 120.36h2.6M361.08 138.38h1M365.16 136.34h1M372.3 101.32h1M361.76 112.2h1M379.78 98.26h1M367.88 121.38h1M386.58 131.24h1M365.5 127.16h1M391 117.3h2.6M381.48 98.26h1M370.94 115.26h1M383.52 131.24h3.3M394.4 113.22h2.6M361.42 108.46h2.1M401.2 109.14h1M387.94 110.16h1M372.98 120.36h2.4M366.86 134.3h1M369.24 129.2h1M385.9 99.28h1M362.44 138.38h1M395.76 106.42h1M386.24 105.4h1M396.1 100.3h3.4M379.44 134.3h1M359.04 105.4h1.9M404.26 117.3h1M359.04 107.44h1M369.24 109.14h1M389.64 104.38h1M371.28 122.4h1.5M357 135.32h1M361.08 124.44h1M406.3 115.26h1M361.76 104.38h1M367.2 133.28h2.5M362.78 115.26h1M375.02 134.3h1M386.92 104.38h1M395.42 127.16h1M383.52 128.18h1M403.58 97.24h1M400.18 107.44h3.8M381.14 97.24h1M407.32 126.14h1M376.72 115.26h2.5M388.28 100.3h1M373.66 125.46h1M402.9 120.36h2.5M385.22 116.28h1M382.84 124.44h1.6M370.94 130.22h1M401.88 116.28h2.8M366.52 117.3h1M390.32 133.28h1M372.3 120.36h1M379.78 117.3h3.9M396.78 125.46h1M396.1 139.4h1M367.54 137.36h1M387.94 108.46h1M365.84 111.18h3.9M396.1 109.14h1M385.56 118.32h3.3M360.4 98.26h1M374 124.44h1M405.62 105.4h1.9M378.42 126.14h3.6M372.64 124.44h3.4M393.38 127.16h1M386.92 135.32h1M392.7 139.4h1M385.22 104.38h1M375.36 117.3h1M362.44 135.32h1M374.68 126.14h1.7M385.56 106.42h3.7M363.12 121.38h1M385.9 129.2h2.1M371.96 107.44h1M371.28 124.44h1M358.02 117.3h3.9M381.48 131.24h2.5M401.54 107.44h2.9M365.16 113.22h1M407.66 97.24h1M406.3 122.4h1M358.36 126.14h1M369.24 111.18h1M396.1 114.24h3M399.16 116.28h3.2M385.56 132.26h1M385.56 131.24h3.8M402.56 115.26h1M376.38 97.24h1M368.56 113.22h2.9M383.52 113.22h1M365.16 115.26h1M385.22 139.4h1M399.5 100.3h1M389.3 99.28h1.6M403.92 117.3h1.8M376.38 99.28h1M395.76 101.32h1M361.76 139.4h3.6M360.4 105.4h1M358.02 125.46h1M382.84 110.16h1M356.66 139.4h3.9M401.2 130.22h1M376.72 138.38h1M380.8 104.38h1M406.98 125.46h1M374.34 122.4h3.9M360.4 135.32h2.9M403.24 124.44h3.1M356.66 135.32h1M362.1 109.14h1M391.68 105.4h3.7M360.4 126.14h1M385.56 122.4h2M376.72 97.24h1M384.54 115.26h3.1M393.38 128.18h3.5M382.84 118.32h1M382.84 97.24h1M404.26 103.36h1M375.7 119.34h1M362.1 105.4h3.1M401.54 106.42h1M403.92 124.44h1M379.44 136.34h3M371.28 138.38h2.9M400.52 103.36h4M392.36 134.3h1M362.78 132.26h3.8M362.78 105.4h3.3M357 129.2h1M360.06 115.26h1M374.34 105.4h1.9M379.44 121.38h1M394.4 115.26h1M381.14 121.38h1M378.08 104.38h1M370.6 121.38h1M402.56 116.28h1M374.68 100.3h2.6M387.94 97.24h1.6M356.32 129.2h2.8M378.08 118.32h1M365.16 116.28h1M379.44 134.3h1M407.66 135.32h1M394.4 127.16h1M406.3 115.26h1" stroke="#6a6a6a" stroke-width="1"/>
<rect x="355.3" y="139.3" width="5" height="1" fill="#555"/>
<path d="M475.5 32.5h1M461.5 44h1M435.5 17.5h1M455.5 19h1M444 50.5h1M470 19h1M428.5 23h1M467.5 15h1M436 18.5h1M430.5 35.5h1M433.5 31h1M462.5 43.5h1M446 46h1M454 48h1M437 29h1M454.5 52.5h1M456.5 33.5h1M437 25.5h1M435.5 54h1M470.5 50.5h1M451.5 43h1M439.5 33.5h1M431.5 31h1M437.5 18h1M472.5 18h1M466.5 42.5h1M428.5 34h1M476.5 54.5h1M453.5 45.5h1M461 26h1M453 38.5h1M444.5 47.5h1M447.5 44.5h1M427.5 32h1M426.5 40.5h1M470 36h1M453.5 39.5h1M436 30h1M454.5 40.5h1M444 33.5h1M441.5 36.5h1M459.5 27.5h1M460 48.5h1M452 54h1M440 51.5h1M433.5 29h1M467 15.5h1M456.5 49.5h1M473.5 42h1M442 27.5h1M457 17h1M425.5 50h1M457 20.5h1M446.5 26h1M469.5 26h1M462 44.5h1M440.5 24.5h1M451.5 30.5h1M455 27.5h1M465.5 31h1M431 45.5h1M471 42h1M452.5 49.5h1M473 14.5h1M449.5 15h1M441.5 24h1M448 41.5h1M469 24.5h1M424.5 55h1M465 36.5h1M430 16h1M473 35.5h1M469 46h1M463.5 47h1M437.5 24h1M447 45.5h1M465.5 45h1M454.5 33.5h1M434 41h1M458.5 35h1M462 54h1M473.5 18.5h1M439 39h1M460 25.5h1M473 33h1M464 16h1M438.5 15h1M465.5 35.5h1M474 39h1M441 28.5h1M443.5 22h1M429.5 40.5h1M440.5 32.5h1M461 25.5h1M447 27.5h1M441 41h1M429 30.5h1M430 41.5h1M439.5 53.5h1M449.5 41h1M451.5 47.5h1M461 40h1M425.5 20h1M463.5 31h1M475 40h1M467 44.5h1M474.5 41h1M473 31.5h1M438 18.5h1M437.5 50.5h1M458.5 16h1M425.5 33h1M452.5 29h1M425 25h1M470 43.5h1M467 25h1M459 22h1M440 53h1M435 26h1M435.5 49.5h1M460 38h1M468.5 33h1M472 45.5h1M439.5 23.5h1M452 32.5h1M465.5 40.5h1M463 38.5h1M438 44.5h1M475.5 40h1M461.5 23.5h1M430 32.5h1M455 43.5h1M449 36h1M428.5 16h1M430.5 27h1M437 20h1M442 28h1M467.5 52h1M476 44h1M424.5 24h1M476.5 42.5h1M469 22h1M436.5 18h1M451.5 29h1M448.5 19.5h1M425.5 30h1M472.5 40.5h1M454 16.5h1M447 29h1M457 30.5h1M466 25.5h1M462 14.5h1M431.5 46.5h1M469 26.5h1M434.5 53h1M455 17.5h1M476 37h1M439.5 34.5h1M443.5 37.5h1M445.5 29.5h1M462.5 26.5h1M467.5 44.5h1M473.5 20.5h1M469 43h1M433.5 51h1M450.5 21.5h1M435 55h1M466 23.5h1M471 15.5h1M460.5 40h1M469.5 51h1M462.5 48.5h1M448.5 52h1M446.5 43.5h1M463.5 30.5h1M467 43.5h1M432.5 38h1M449.5 38.5h1M425.5 42.5h1M445 44h1M436.5 15h1M448.5 40h1M465 36h1M470 21h1M430.5 30.5h1M458.5 45.5h1M427.5 38.5h1M442.5 35.5h1M429 20.5h1M457.5 28h1M475 34.5h1M442.5 21.5h1M451.5 35h1M437.5 53.5h1M450.5 45.5h1M460 48h1M429.5 53.5h1M455.5 21h1M455 16.5h1M446 18h1M426.5 32.5h1M468 45h1M473 46h1M456.5 38.5h1M474.5 19.5h1M451.5 36.5h1M424.5 49.5h1M459.5 28h1M465.5 33.5h1M462 36.5h1M469 34.5h1M428.5 45h1M436 37.5h1M473 43.5h1M427.5 48h1M474.5 33h1M437.5 33h1M452 16h1M468.5 40.5h1M445 47.5h1M433 50.5h1M469 33.5h1M430 32.5h1M429.5 36.5h1M431.5 35.5h1M445.5 27h1M454.5 36h1M470.5 32.5h1M454 43.5h1M432.5 36h1M433.5 34.5h1M450.5 51h1M474.5 26.5h1M469 29.5h1M437 38.5h1M440 52.5h1M471.5 15.5h1M475.5 50.5h1M431 41h1M453.5 20.5h1M461 14.5h1M442 34.5h1M466 30.5h1M439 33h1M452.5 30.5h1M429 48.5h1M435 21.5h1M435.5 53.5h1M428 39.5h1M454 23.5h1M465 21.5h1M430 15h1M458.5 16h1M456.5 41h1M429.5 53.5h1M431 27.5h1M466 25h1M465 42.5h1M464 29.5h1M438.5 33h1M456.5 15h1M429 25h1M426.5 45h1M475 35h1M441.5 31.5h1M470 43.5h1M453.5 40h1M472 39.5h1M435 50.5h1M426.5 20h1M434 29.5h1M454 47.5h1M437.5 49.5h1M476 49.5h1M466.5 37h1M448 20.5h1M444 23h1M443 17h1M474.5 31h1M429 19h1M447.5 17.5h1M459.5 26.5h1M457.5 28h1M444.5 50h1M448 51.5h1M459.5 44.5h1M462.5 37h1M440.5 42h1M426 24h1M466.5 48.5h1M425 46h1M447.5 22.5h1M472 37.5h1M437 51.5h1M427.5 43h1M462 44h1M449 26.5h1M435.5 45h1M450.5 15h1M460.5 44h1M465.5 33.5h1M460 39h1M465.5 25h1M435.5 48.5h1M437.5 15h1M459.5 46h1M469.5 54h1M428 52.5h1M439 19.5h1M439 18h1M424.5 20h1M453.5 16.5h1M464 14h1M435.5 21h1M430 14h1M450.5 17h1M430 14h1M467.5 20.5h1M445.5 45.5h1M431.5 29h1M468 40h1M431 35.5h1M468 36h1M438.5 22.5h1M471.5 30h1M434.5 25.5h1M455.5 49h1M458.5 39h1M442.5 23.5h1M459.5 28.5h1M439.5 44.5h1M472 48.5h1M430.5 45h1M452.5 17h1M466.5 36h1M449.5 17h1M453 33.5h1M467.5 51h1M431 51h1M445 15h1M463.5 47h1M465.5 20.5h1M463 52h1M474 29h1M468 18.5h1M470.5 38h1M458.5 45h1M437.5 23.5h1M427.5 43h1M425.5 15h1M458.5 34.5h1M476 19.5h1M452 22h1M466 53h1M474.5 19h1M462.5 36.5h1M429.5 32h1M462 43.5h1M448 17.5h1M444 27h1M442.5 53h1M456.5 40h1M424 28h1M464.5 20.5h1M425 26h1M431.5 37.5h1M441 47.5h1M465 29.5h1M472 49.5h1M473.5 53h1M471 52.5h1M448 54.5h1M438 41h1M425 54.5h1M459.5 16h1M474.5 40h1M445 34h1M474.5 51.5h1M430.5 24h1M433 15.5h1M431.5 38h1M458 45.5h1M467.5 42.5h1M473 15h1M475 32h1M464 38.5h1M464.5 41.5h1M432 36h1M426.5 49.5h1M463 26.5h1M441 27.5h1M430 36h1M461 28h1M446.5 49.5h1M460.5 20h1M436 51h1M457.5 20h1M448.5 29h1M456 49h1M466 26.5h1M437 18h1M438 40.5h1M459 35h1M463 18h1M433 21h1M461.5 40.5h1M443.5 49h1M438.5 51.5h1M471.5 21.5h1M459.5 40h1M437.5 24.5h1M430.5 30.5h1M464.5 28h1M465.5 29h1M460 28h1M456 40.5h1M450 25.5h1M428.5 21h1M454.5 35h1M427.5 42.5h1M428.5 20h1M470.5 31h1M445.5 40.5h1M449.5 27h1M474.5 40.5h1M450 32h1M454.5 47.5h1M444.5 23.5h1M429.5 50.5h1M476 47h1M455 40.5h1M458 16.5h1M440.5 29.5h1M434 35.5h1M472.5 45.5h1M442 32h1M471.5 37h1M439 39.5h1M432.5 47h1M444 29.5h1M466.5 20.5h1M449.5 19.5h1M443.5 28.5h1M475.5 45h1M435 20h1M433 32h1M458.5 51h1M449.5 20.5h1M428 38h1M460.5 48h1M431.5 17.5h1M429.5 34.5h1M465.5 28h1M436.5 19.5h1M450 25h1M458 33h1M457.5 20.5h1M453.5 35h1M459.5 25h1M432 22h1M457.5 50h1M452.5 36h1M450.5 52h1M441.5 15h1M442.5 26h1M434.5 28.5h1M461 54.5h1M424 20h1M436 44.5h1M439.5 26.5h1M453 21.5h1M450.5 15h1M438.5 49h1M451 40h1M438.5 20.5h1M467.5 34h1M441.5 38h1M465 43.5h1M436.5 51h1M445 27.5h1M429.5 53h1M453 36.5h1M472.5 17h1M439 17h1M449.5 15h1M472.5 35h1M467 49h1M472.5 26.5h1M457.5 40.5h1M473 25.5h1M458.5 46.5h1M452.5 17h1M466 15.5h1M446 26h1M447 50.5h1M474 50.5h1M468 15.5h1M455 36h1M459 31.5h1M465.5 16h1M467 50h1M449 36.5h1M427 47.5h1M467 18.5h1M450 20h1M475 44h1M469 36h1M466 23h1M449 38.5h1M469 28h1M425 33.5h1M436 22h1M435 49.5h1M446.5 27.5h1M440.5 38h1M450 41h1M465 48h1M443 35h1M467 44.5h1M431.5 35h1M444.5 39h1M437.5 39.5h1M453 39.5h1M459.5 28h1M437.5 17.5h1M458.5 49.5h1M435 29h1M431.5 49.5h1M459.5 52.5h1M449.5 25h1M451 27.5h1M443.5 44.5h1M452 22h1M441.5 47h1M456 49h1M465.5 16h1M440.5 42.5h1M443.5 32.5h1M462 24.5h1M427 22.5h1M444.5 37.5h1M426 19h1M460 44.5h1M456 42h1M445 51h1M431 46.5h1M461.5 45h1M475 25.5h1M442 33.5h1M435 32h1M450 28.5h1M467 23h1M461.5 43h1M444 51h1M469.5 17.5h1M439 37h1M468 44h1M459.5 43h1M451 51h1M428 40.5h1M452.5 35h1M425.5 17.5h1M461 38.5h1M451.5 36h1M424.5 36.5h1M475 39h1M472.5 14.5h1M472 34h1M453.5 48h1M438 40.5h1M465 52.5h1M453 27h1M435.5 15h1M435.5 14.5h1M472.5 44.5h1M476 40.5h1M436.5 23h1M467.5 49h1M430 42h1M442 18.5h1M435.5 30h1M429.5 49.5h1M467 37.5h1M433.5 43h1M454 45h1M473 46h1M466.5 45.5h1M467 21.5h1M455 31h1M432.5 39.5h1M467 43h1M429.5 24.5h1M472.5 18.5h1M447 24h1M433 46.5h1M429.5 48h1M443.5 39.5h1M438.5 44h1M449 46h1M455 50h1M446 22.5h1M426.5 38h1M459 38.5h1M424 43h1M472.5 33h1M444.5 16h1M475 28.5h1M424.5 24h1M431.5 53h1M468 50.5h1M436 16.5h1M437 41.5h1M436.5 29h1M457.5 33h1M430 26h1M437 35.5h1M427.5 22h1M433 24.5h1M443 20h1M437.5 34.5h1M451 49h1M472.5 26.5h1M439.5 37.5h1M436.5 18h1M470.5 14.5h1M431 49.5h1M461 43h1M449.5 37h1M461 34.5h1M475.5 47.5h1M438.5 49.5h1M451 29.5h1M454.5 54h1M462.5 32h1M451.5 29h1M466 27.5h1M467 29h1M475 47h1M432 26.5h1M447 33h1M452 37h1M465.5 31.5h1M430.5 43.5h1M424.5 29.5h1M424.5 53h1M456.5 28.5h1M449 19.5h1M427.5 19.5h1M427.5 29h1M448 42h1M446.5 52h1M435.5 22.5h1M454 39.5h1M442 22h1M469 22.5h1M439.5 44.5h1M475.5 36.5h1M458.5 29h1M432.5 52h1M462.5 35h1M475 36h1M445.5 23h1M433 45.5h1M473 19.5h1M431 47h1M429.5 38.5h1M475 17.5h1M429.5 46.5h1M435 31h1M468.5 33.5h1M426.5 54h1M455 14.5h1M474 24h1M444.5 51h1M466 53h1M457.5 54h1M431.5 39.5h1M451.5 34.5h1M467.5 50.5h1M429.5 41.5h1M441.5 23.5h1M447 24h1M472.5 45.5h1M471 24.5h1M448.5 28h1M463 25.5h1M463 39.5h1M446 51h1M463.5 54h1M461.5 50h1M435 54.5h1M442 47.5h1M439 38.5h1M443 49.5h1M475.5 21h1M474.5 52.5h1M474 24h1M433.5 47.5h1M451.5 39h1M466.5 25h1M463 36h1M450 17.5h1M457.5 52.5h1M447.5 54.5h1M427 32.5h1M473 34h1M434.5 33.5h1M468.5 33h1M474.5 27h1M437 54h1M475 33.5h1M432.5 49.5h1M427.5 53.5h1M428.5 25.5h1M470.5 19h1M433.5 23.5h1M471 34.5h1M462 26h1M464 46h1M441.5 38.5h1M470.5 35h1M459.5 17.5h1M458 47h1M436.5 50.5h1M434.5 14.5h1M432.5 16h1M466.5 36h1M455.5 48.5h1M426 31.5h1M439 32.5h1M442.5 15.5h1M432 20.5h1M467.5 19h1M450 34.5h1M451.5 17.5h1M441.5 52h1M445.5 35h1M452 29.5h1M428 37h1M473.5 49.5h1M441 34h1M436 36.5h1M464 37h1M432.5 27.5h1M425.5 29.5h1M439.5 16h1M459 36.5h1M442.5 27.5h1M429.5 37h1M454 30.5h1M437 37h1M445.5 44h1M426 52h1M471 55h1M427.5 36h1M442.5 29h1M456.5 49.5h1M454.5 46h1M470 28h1M425.5 28h1M451.5 18h1M458 35.5h1M450.5 18h1M476 15h1M432.5 49.5h1M472.5 47.5h1M470 16h1M475 50h1M457 46h1M437 38h1M446.5 38h1M446 52.5h1M445.5 28h1M453.5 45.5h1M431.5 35h1M476 24h1M450.5 53h1M465.5 37.5h1M454 18h1M425 54.5h1M447 24.5h1M442.5 50.5h1M447.5 44h1M426 46.5h1M445 40.5h1M462.5 19h1M458.5 31h1M445.5 28h1M469.5 14.5h1M446 17.5h1M451.5 21h1M451 52.5h1M469 20h1M446 18h1M435 45h1M452.5 22.5h1M451.5 50h1M435.5 35h1M450 14.5h1M473.5 20h1M434.5 20.5h1M461.5 40h1M432.5 17h1M451 22h1M460.5 15h1M432.5 26.5h1M454.5 50h1M470 36h1M443 35.5h1M428.5 41h1M449 31h1M456 47.5h1M428.5 42h1M454 47.5h1M435.5 34h1M467.5 31h1M451 53.5h1M461.5 17h1M476 53.5h1M452.5 46h1M431.5 43h1M469.5 45.5h1M430.5 30.5h1M475 44h1M455 33h1M453 27.5h1M466.5 27h1M467.5 33h1M464.5 30.5h1M437 18h1M461.5 20h1M452 52.5h1M460.5 51h1M463.5 19.5h1M445 50.5h1M429 27.5h1M450.5 34.5h1M461.5 38h1M467 53.5h1M474.5 23.5h1M438.5 20.5h1M458.5 48.5h1M466.5 47h1M431 38h1M429 41.5h1M435 44.5h1M445 38.5h1M457.5 39h1M475.5 28.5h1M456 31h1M439 33h1M462 25.5h1M447 20.5h1M430 17.5h1M425.5 31h1M474 25h1M457.5 29.5h1M428 24h1M470 45.5h1M446.5 32.5h1M424.5 28h1M472.5 33.5h1M468.5 16.5h1M426.5 40.5h1M426 53h1M469.5 40h1M473.5 40h1M460.5 27h1M457 16h1M468.5 21.5h1M467.5 29h1M456.5 29.5h1M442 36.5h1M439 41.5h1M475.5 46.5h1M463 20.5h1M438.5 23.5h1M428 26h1M447 36.5h1M464 28h1M451 49.5h1M446 41.5h1M466 37.5h1M474 19h1M446.5 39.5h1M461.5 24h1M473 54h1M435 26.5h1M461.5 22.5h1M463 46.5h1M446.5 28h1M464 28h1M459.5 52.5h1M471 20h1M476.5 16.5h1M466.5 51h1M432.5 22.5h1M468.5 30h1M446.5 28.5h1M474.5 16.5h1M470.5 36h1M431.5 31h1M462.5 47.5h1M430 24h1M455 47.5h1M454.5 44.5h1M469 14.5h1M474 16h1M452 32h1M445.5 44h1M450 33.5h1M469.5 35h1M474.5 51.5h1M455.5 45h1M450 50.5h1M440 22h1M469 36h1M427.5 23h1M466.5 27h1M457.5 48h1M428 26h1M441.5 20.5h1M424 19h1M474.5 18h1M457.5 26h1M468.5 23.5h1M441 34h1M456.5 14h1M435.5 25h1M425 31.5h1M424 28h1M435 14.5h1M440 44h1M452 41h1M447 47h1M459.5 48h1M427 30h1M457.5 36.5h1M428 22.5h1M437.5 28h1M440.5 50h1M469.5 18.5h1M474 40h1M445.5 33.5h1M455.5 53.5h1M447.5 25h1M442.5 49h1M438.5 25.5h1M442 46.5h1M467.5 25h1M430.5 22h1M462 27.5h1M474.5 53h1M435 16.5h1M432.5 29h1M434.5 33h1M442 22.5h1M454.5 32h1M461 16.5h1M462.5 14h1M452.5 19h1M441.5 41h1M435.5 49h1M462.5 26.5h1M472.5 53h1M427 34h1M428 44h1M458.5 45.5h1M463.5 28h1M457 45h1M461.5 31h1M474.5 50.5h1M469.5 33.5h1M450 39h1M439.5 43h1M475 52.5h1M457.5 14.5h1M437 44h1M456.5 49h1M455 22.5h1M449 52h1M474 52h1M427.5 28h1M459 54.5h1M435.5 49.5h1M449.5 47h1M444.5 51h1M432 21.5h1M444.5 42h1M466 27h1M459 46h1M456 51h1M464.5 19h1M469.5 51h1M434.5 18h1M468.5 19h1M469.5 24h1M456.5 48h1M431.5 37.5h1M450.5 38h1M464 53.5h1M476 23.5h1M472.5 43h1M425.5 39h1M476 37h1M449.5 43.5h1M437.5 14h1M435.5 27.5h1M442 49h1M464.5 16.5h1M434 20h1M456.5 45.5h1M428.5 20h1M468.5 48h1M435.5 20h1M452.5 36.5h1M439 16h1M466 34.5h1M451.5 26h1M435.5 39h1M437 26h1M473.5 29.5h1M461 31h1M446.5 31.5h1M446 40.5h1M474 37.5h1M475 32h1M426 37h1M468.5 41.5h1M439 28.5h1M464 50.5h1M429.5 20h1M476 40h1M429 26h1M427.5 36.5h1M424.5 31h1M439 47h1M445.5 31h1M459 37.5h1M434 41.5h1M431 43h1M424 35.5h1M447.5 18h1M452.5 50.5h1M426 18.5h1M463 52.5h1M458.5 29.5h1M459.5 48.5h1M475.5 38h1M444.5 40.5h1M472 53h1M447.5 34.5h1M475.5 32.5h1M472.5 44h1M457.5 49h1M434 44.5h1M448 15.5h1M441.5 52.5h1M466.5 31h1M434.5 26h1M435.5 51h1M436 17.5h1M437.5 49.5h1M433 37.5h1M432 26h1M466 51h1M440 51h1M438.5 50h1M473.5 51h1M432 33.5h1M440.5 47.5h1M469.5 24.5h1M471 14.5h1M476 41.5h1M443 41h1M437 54.5h1M455.5 50.5h1M432.5 22.5h1M456 36h1M432.5 32.5h1M437 29.5h1M432 36h1M437.5 31.5h1M435 45.5h1M449 30h1M469 40.5h1M466 42.5h1M455.5 29h1M433.5 47h1M424 26.5h1M428.5 29.5h1M452.5 38.5h1M470 17.5h1M445 22.5h1M445.5 16h1M466.5 34h1M450 18.5h1M424.5 44.5h1M435 41h1M445.5 32.5h1M465 15h1M465 36h1M438.5 37h1M433 34.5h1M424.5 46.5h1M468.5 38.5h1M449 25h1M443.5 42h1M431 32.5h1M440.5 40.5h1M426.5 42h1M428.5 26h1M473 35h1M449.5 38h1M434 41.5h1M429.5 39h1M472.5 23h1M473.5 24.5h1M438.5 49.5h1M466 22h1M470.5 27.5h1M460.5 18.5h1M451 38h1M462 47.5h1M424 33.5h1M434 47.5h1M425 40.5h1M475.5 49.5h1M458.5 34.5h1M449.5 45h1M472 43.5h1M476 22h1M466 24h1M453.5 14.5h1M470.5 47.5h1M461.5 32.5h1M475.5 26.5h1M451.5 32.5h1M466 28h1M461.5 36.5h1M449 42.5h1M475.5 25h1M455 54h1M472.5 45h1M464 46h1M442 47h1M429 37h1M428.5 24.5h1M449 47.5h1M432.5 14h1M429 23h1M437.5 20h1M471.5 55h1M430.5 36h1M461.5 37.5h1M449.5 22h1M463 49h1M455.5 37.5h1M457.5 26.5h1M435 35h1M439.5 52h1M428.5 38h1M435 50h1M453 33.5h1M438 48.5h1M467 44h1M456.5 20.5h1M436 28.5h1M426 28h1M429.5 32h1M462.5 33h1M431 32.5h1M424 22.5h1M459 47h1M453 51h1M434 32h1M439.5 20h1M462.5 40h1M464.5 54h1M474.5 20.5h1M451.5 50h1M430.5 41.5h1M425 50.5h1M435 31.5h1M442.5 41h1M469 49.5h1M452.5 48.5h1M464.5 27h1M463 51h1M464 43.5h1M467 16.5h1M462.5 28.5h1M469.5 52h1M443.5 31.5h1M466 18.5h1M470.5 22.5h1M455.5 46h1M439.5 25.5h1M446.5 44h1M434 54.5h1M436.5 52h1M462.5 36.5h1M459 51.5h1M444.5 50h1M428 21h1M441 21.5h1M472 23.5h1M451 35h1M449.5 49h1M464.5 49h1M435 47h1M435 22h1M467 25h1M427.5 26h1M447.5 45h1M446 29.5h1M448.5 36.5h1M454 26.5h1M431.5 52h1M466.5 16h1M453.5 17h1M476 32.5h1M429 50h1M467.5 47.5h1M436 24.5h1M430.5 18h1M466 50.5h1M466.5 32.5h1M426.5 44h1M462.5 21h1M441 24h1M446 27h1M475 35h1M464.5 48h1M464 18.5h1M450.5 22h1M459 23.5h1M473 29h1M474.5 50.5h1M457 18.5h1M472.5 41.5h1M443.5 45.5h1M442.5 30.5h1M466 48.5h1M470.5 39.5h1M472 46.5h1M456 32.5h1M447 17h1M430 18.5h1M460.5 42.5h1M441.5 54.5h1M456 25h1M440 23.5h1M436 44h1M474 14.5h1M447.5 14.5h1M435.5 26.5h1M469.5 34.5h1M452.5 48.5h1M442 54h1M473.5 45h1M442 45.5h1M470.5 50.5h1M459 40.5h1M460 26h1M467 41h1M432 27.5h1M465.5 17.5h1M464.5 28h1M429.5 38.5h1M469 30.5h1M470 42.5h1M448.5 22h1M457 32.5h1M445.5 46h1M469.5 52.5h1M434 42h1M438.5 36.5h1M424.5 38.5h1M435 41h1M459 44h1M449.5 16.5h1M444.5 25.5h1M474.5 27.5h1M466.5 25h1M468.5 41h1M467.5 16h1M433.5 52.5h1M444 23h1M472 29h1M475 17h1M441.5 27h1M430.5 40h1M433 27h1M468 43.5h1M445.5 23h1M465 52h1M429 36h1M434 53.5h1M424.5 36.5h1M439.5 17h1M435 23.5h1M444 18h1M439.5 19h1M460.5 40h1M437.5 14.5h1M448.5 27.5h1M438 47h1M425.5 33h1M438 44h1M430.5 52.5h1M463 41h1M441 23h1M427.5 51h1M437 53.5h1M426.5 40.5h1M453 21h1M428.5 32.5h1M452 17h1M474 27.5h1M433 24.5h1M450 29h1M442 43h1M468 29h1M446.5 35.5h1M435.5 15.5h1M438.5 45.5h1M476 16.5h1M448 54.5h1M469 18h1M442 54.5h1M465.5 43.5h1M458 50h1M456 26h1M457.5 38h1M454 15h1M437 47.5h1M472 37.5h1M430 46.5h1M450.5 53.5h1M453.5 33h1M439.5 21h1M446 23h1M428 19.5h1M437 24.5h1M450 24h1M444.5 21h1M471.5 43.5h1M442.5 32h1M472.5 22.5h1M445.5 34h1M447.5 32.5h1M445 20h1M460 47h1M444 50.5h1M468.5 38h1M438 25.5h1M435.5 34.5h1M456.5 39h1M466.5 51h1M475 52h1M474 19.5h1M470 26h1M475 36.5h1M441 54.5h1M427 52h1M428 40h1M460.5 27h1M445.5 19h1M442 16h1M444 48.5h1M470 54.5h1M439.5 42h1M461.5 40h1M438 24h1M475.5 52h1M471.5 53h1M439.5 23.5h1M452.5 31.5h1M430.5 29h1M471.5 42h1M476.5 42.5h1M427.5 15h1" stroke="#c4823a" stroke-width="1"/>
<path d="M454.5 64.5h3M455 89.5h1M462 87h1M429 92h1M460.5 92h4M455 74h1M429.5 94h1M448 80.5h1M464.5 61.5h3M443.5 81h1M449.5 83h1M457 58h1M433 91h1M430.5 83h1M435 66.5h3M465 76h1M470 82.5h2M425.5 76.5h1M425.5 69.5h1M474 85h3M454.5 71.5h1M444 92.5h1M425 90h1M424 89h1M470 74.5h1M435.5 60h2M430 71h2M471.5 77h3M438.5 63h2M445.5 93.5h1M438 84h1M450.5 57h4M445 88h4M444.5 60.5h1M437 87h1M431.5 75h3M452 83h1M424 81.5h1M457 76.5h1M444 76h1M445.5 79h3M448.5 93.5h1M475 84.5h1M457.5 83.5h1M433 69h1M426.5 70.5h1M451.5 67.5h3M443 91.5h1M456 94h1M424 63h1M450.5 88h1M471.5 58h1M475.5 94.5h1M438 67h2M424 76.5h1M438 74h1M454.5 78h1M443 91h1M430.5 64h2M461 70h1M434 59.5h1M450 63h1M427.5 62h1M457 62.5h1M434 92.5h2M429 58h1M476.5 66h1M458.5 73h1M453.5 88.5h1M426 74h1M469 59h1M471.5 89.5h1M436 85.5h2M462.5 63.5h1M469 72.5h1M462.5 75h1M428.5 82.5h1M429 80.5h2M449.5 60.5h2M457.5 62h1M440 90.5h1M464.5 60h1M466 95h3M469.5 76h1M436 56.5h1M476 81.5h1M465 84.5h1M442 69.5h1M437.5 77h1M458 74.5h1M440.5 63h1M427.5 58h2M445 73h2M446.5 73.5h1M460.5 81.5h1M467.5 62h1M436.5 73.5h1M426 67h1M461 93.5h1M428.5 80.5h1M449.5 58.5h1M466.5 63.5h1M424.5 71.5h1M468.5 87h1M451.5 67h1M433 79h4M449.5 62h3M430.5 76h1M453 89h1M448 66.5h1M463.5 94h1M468 71.5h1M430.5 87h4M435 68.5h1M454.5 60.5h1M455 73h1M454.5 57h2M464.5 59.5h1M447.5 79h1M463.5 73.5h1M469.5 60h1M451.5 89h2M440.5 85h1M444 64h1M434.5 95h1M443 79.5h1M463 61h1M469 79.5h1M461.5 64.5h1M437.5 67.5h1M432 89.5h1M455 58.5h1M437 73h1M439 63.5h1M468.5 69.5h1M473 66h1M435 68h1M475.5 73h1M435 69h1M465.5 66h1M455.5 86.5h1M433 90h1M475.5 78h2M471.5 77.5h1M467.5 56.5h3M474 64h1M428 92.5h4M467 84h1M469 86h1M464.5 65h1M429 59.5h1M439 92h2M473 87h1M429.5 82h1M429 74.5h1M466.5 82.5h1M425 57h1M452.5 96h1M448.5 58.5h1M447 62.5h3M467 90h1M425.5 65h1M456.5 95.5h1M427.5 82.5h2M425.5 80h1M433.5 90.5h1M475.5 86.5h1M425 93h1M449 65h2M466.5 76.5h1M469.5 68h1M441.5 77h1M457 67.5h4M450 71h2M473.5 63h1M459 63.5h1M442 74.5h1M471.5 66h1M450 56.5h1M439 85h4M438.5 90.5h1M437.5 74.5h1M444 72h1M424.5 69.5h1M432.5 85h1M434.5 56h3M433.5 70h4M426 62h2M465.5 67h1M473.5 83h1M449 80h3M466.5 62.5h1M452 80h1M451.5 89h1M447.5 93h1M430.5 77h1M462 66h1M449.5 65h1M472.5 59.5h3M441 87.5h2M465.5 62.5h2M445.5 82.5h1M470.5 76.5h1M475 57h1M437 89h1M469 79.5h1M459 66.5h4M476.5 56h1M439.5 70.5h1M432.5 87.5h3M472.5 74.5h1M444.5 64.5h1M444.5 60.5h1M463.5 81.5h1M460 91.5h1M448.5 91.5h1M448 64h1M463.5 94.5h2M440 89h1M463 84.5h1M425.5 96h3M476 81h1M463.5 91h1M436.5 93.5h1M427 63h1M464.5 56.5h1M462 89h4M452 82.5h3M443 70.5h1M434 61.5h1M447 88.5h2M471 72h1M435.5 89h1M461 70.5h1M446.5 78h1M453 62.5h1M469.5 89h3M455 95h1M467 78.5h1M474 81h1M462.5 72h1M448 95h1M472.5 66h1M468.5 60h4M454 69.5h1M462 68.5h1M427.5 70h1M455.5 78.5h1M465 75.5h1M448.5 85h1M453 81h4M444.5 67.5h1M457 56.5h1M442 65.5h2M437 85.5h2M446.5 82.5h1M469.5 82.5h1M469 91h1M432.5 87.5h1M476 67h1M460.5 83h1M427.5 82.5h1M432.5 65.5h1M445.5 83.5h1M431.5 74.5h1M446 94.5h1M446.5 90h1M424.5 63.5h1M461 94h1M448 95.5h1M429 72.5h1M453 76.5h1M475.5 89.5h1M476 63h1M455.5 81.5h1M430 68h1M435.5 59.5h1M454 67h1M453 62h1M438 80.5h1M463 90.5h1M447.5 96h1M459.5 92.5h4M474.5 71h1M430.5 58h3M427.5 87.5h1M443.5 56.5h1M470.5 96h1M447.5 61.5h1M475 90.5h1M447.5 64h1M435.5 78h3M442.5 75h1M439 82h1M433 89.5h1M468 93h1M432 62.5h1M445.5 60.5h1M440 86.5h2M434 57h1M466 65.5h1M439.5 80h1M425.5 77.5h1M447 89.5h1M441.5 62.5h1M465.5 62h1M464.5 75h1M464 77.5h1M454 76.5h1M436 95.5h4M458 85.5h1M428.5 89h1M469.5 77.5h1M442 63h1M465.5 86h2M455.5 76h1M475.5 92h1M444 90h1M439 95.5h1M444.5 65h3M455 67.5h2M463 93h1M466 70.5h1M464 87.5h1M426 86h1M426 65h1M470.5 57.5h1M426.5 88.5h2M471.5 79h1M446 92h1M435 84h1M425.5 81h3M472 69h1M466 87h4M465 77h1M469.5 60h4M466 63h1M450.5 66h1M476 94.5h1M460.5 89.5h1M459 74.5h3M452 87.5h1M431 60h2M460 88h1M432.5 80h1M462 77.5h1M453.5 56.5h1M434 85h1M444 92h4M473 73.5h1M438.5 83.5h3M470 85h1M440.5 59h1M425 90.5h1M444 57.5h3M465.5 81h1M441.5 59h1M467 80.5h1M471 91.5h1M432.5 64.5h3M441 64.5h1M449 94h1M446.5 82h2M466 56.5h2M435 68h1M457.5 93h1M451 79.5h1M429 58h1M435 83h1M460.5 64h1M426 92.5h1M432 90h2M466 68h1M471.5 83h1M428 86h1M468 90.5h1M429 78h1M473 94h1M473.5 57h1M437.5 80h1M464.5 61h1M433 62h1M459.5 88.5h1M459 65h1M469.5 61h3M434.5 70h3M471.5 85.5h4M439.5 90.5h1M439.5 63h1M445.5 72.5h1M466.5 76.5h1M474.5 72h2M446 56h1M429 68.5h4M465 72.5h1M447.5 83h1M441.5 72.5h1M472.5 77h1M450.5 81.5h1M464.5 57h1M425.5 56.5h1M452.5 64.5h1M456.5 73h4M448 61.5h1M465.5 66h1M454.5 72h1M463 73h1M457.5 74.5h1M425 81.5h1M462 91h1M445.5 75.5h1M429.5 73h2M456 73h1M434.5 93.5h1M424.5 74h1M425.5 80h1M469 79.5h1M467 70.5h1M436 89.5h1M450.5 82h1M462.5 88.5h1M427.5 84.5h1M457 61h1M475 69.5h1M460.5 83h1M452.5 88.5h4M453.5 57.5h1M433.5 80.5h1M465.5 86.5h1M447.5 89h4M473.5 56.5h1M444 95.5h2M439 58h1M447 57h1M473 65.5h1M429.5 59.5h1M426 83.5h4M463 91h2M474.5 65h2M444.5 88.5h3M450.5 96h1M449.5 80.5h1M473.5 70.5h1M452 63h1M439 87.5h1M452 63h1M448.5 69.5h1M462.5 85h1M449 77.5h1M452.5 63.5h1M445 63h1M442.5 76.5h1M464 80h4M454.5 88.5h1M452 70.5h1M451 58.5h3M475.5 72h1M440.5 79.5h4M440 69.5h1M467.5 95h1M455 84h1M432 74h1M438.5 82.5h1M431.5 93.5h1M468 94h1M464 74h1M475.5 87h1M472.5 87h1M450 84.5h1M430.5 75.5h1M430.5 66h1M439.5 81h1M453.5 60.5h3M460.5 96h1M447.5 64.5h1M428 61.5h1M431.5 79h2M468 67.5h2M446 64h1M470 76h1M451.5 68h1M461 79.5h1M463 90.5h1M475 72.5h1M450 70h2M463 58.5h4M471 82h1M425 84.5h2M433 58h4M438.5 58.5h1M461 82.5h3M468 82.5h1M461 81.5h1M472 91h2M435.5 64.5h1M429 69h1M474.5 76.5h1M429 69.5h3M452.5 95.5h1M433.5 76.5h4M439 86.5h1M473.5 68h1M462 74h1M446.5 74h1M474 67h1M447 87.5h1M472.5 81h1M432 80.5h3M472 61h3M452.5 81h1M428.5 76.5h3M463 81h1M467.5 89.5h1M444.5 81.5h1M444 58.5h1M432.5 68.5h1M436 61h1M455 81h3M436 76h1M435 91h1M474.5 79.5h1M458 71.5h1M447.5 56.5h1M470.5 80h1M426.5 79h1M456 78.5h1M474.5 63h3M463.5 61.5h1M446 66.5h1M463 68h4M476 68h1M436.5 78h1M442.5 86h1M464 58h1M466 72.5h1M431.5 79.5h1M438.5 57.5h2M472.5 89.5h3M442 58h1M455.5 57h2M460 74.5h1M468 73h1M430 74.5h2M440.5 87.5h1M438 89.5h1M459.5 71h1M426 91.5h2M431.5 73h1M427 87.5h1M440 74.5h1M455.5 82.5h1M472.5 90.5h1M469.5 88h1M472 96h1M442 71.5h1M448.5 70h1M465 80h3M435.5 89.5h1M450.5 76.5h4M466.5 86.5h1M432 60.5h1M464.5 62.5h1M440 68h1M467 86.5h1M457 93h1M469 60.5h1M466.5 88h2M443.5 88.5h1M424.5 83h1M474.5 76.5h1M458 80.5h4M465 62h4M426.5 78h1M434 94.5h1M448 77.5h4M475 89.5h1M443.5 66.5h1M469 71.5h1M447.5 92h4M439.5 86.5h1M461 66h1M464.5 74h1M461.5 81.5h1M429.5 58.5h2M433 64h1M441 76h1M447.5 56h1M472.5 91.5h1M436.5 88.5h1M474.5 66.5h1M448.5 86h4M445 60.5h1M453 79h1M447.5 70h1M463.5 81h1M463.5 62h1M445.5 66h1M468 80.5h1M443 69.5h1M474.5 86h2M436 62h1M470 82h1M436 87.5h1M473 96h3M429.5 70h1M449 61.5h1M446.5 66.5h1M469.5 73.5h2M443.5 74.5h1M472.5 85h1M463.5 56h1M470 63.5h1M456.5 66.5h4M458 82h1M473.5 73.5h1M434 72h1M475 62.5h1M443.5 67h1M450 60.5h1M436.5 93h1M445.5 68.5h1M431.5 64h1M451 60h1M425.5 68.5h1M425 72.5h1M443.5 95h1M465 82h1M429 69h1M429 81h4M468.5 62.5h1M451.5 81.5h2M463 86h1M474.5 79.5h1M466.5 87.5h1M428 58h3M474.5 89h1M454 80h1M475 62.5h1M452 63h1M434.5 72.5h3M436 85.5h1M439 75.5h1M425.5 93h1M463.5 92.5h1M469.5 90h1M472.5 65h1M433.5 81.5h3M471.5 65h1M442.5 95h1M430.5 95h1M440.5 60.5h1M425 89h3M443 79.5h1M432 95h1M464 71.5h1M464 73h1M436 66h1M446.5 76.5h1M437 76h1M464.5 65.5h2M437.5 90.5h2M471 56.5h1M426.5 95h1M435.5 74.5h1M435.5 59h1M460.5 72.5h1M470.5 57h1M439 81.5h1M462.5 58h1M445 79.5h1M436.5 86h1M456.5 82.5h1M468 80h3M446 63h1M475.5 65.5h1M447.5 74.5h3M430 94.5h1M444.5 78.5h1M433.5 56.5h1M447 80h4M427 59.5h1M455 80.5h1M473 95h1M428.5 81h1M461 62.5h1M447.5 66h3M430.5 81.5h1M441.5 84.5h1M470.5 87h1M473.5 92.5h1M465.5 76.5h1M455 65.5h1M468 81h1M456.5 60h1M458.5 80h1M442 73h1M450 92.5h1M428 95h1M473 71h3M424.5 60.5h1M445 72h2M441 89h2M435.5 95.5h1M435.5 77.5h1M438.5 60h3M444 91h1M468 90.5h4M455 62h1M459.5 88.5h1M434 66.5h4M452 70.5h1M435 79h3M463 56h1M442.5 67h2M445 95.5h1M445.5 56.5h1M424.5 78.5h1M434.5 58.5h3M473.5 82.5h1M465 94h4M438.5 57.5h1M466 77h1M428 88.5h1M470 74.5h1M450.5 82.5h1M468.5 60h1M476 63.5h1M451.5 79h2M457.5 60h4M425 61h1M454 83h1M466 72.5h1M467 68.5h1M425 60.5h1M428 73.5h1M475 74.5h2M434 58.5h1M460 74.5h1M476.5 67.5h1M426.5 73h3M446.5 61.5h1M453 58.5h1M427 94.5h1M459 65.5h1M428.5 95h1M435 76.5h1M445 82h1M475 88h1M424.5 61h1M440.5 94.5h1M468.5 71.5h1M441 66h2M431 68h1M445.5 85h4M443.5 69h3M462 68.5h1M461.5 82h3M451.5 70.5h1M426 67.5h1M465.5 86h1M456 61h1M463 91h1M467.5 61.5h2M469 89h1M450 83.5h1M470.5 58.5h1M469 79.5h1M458.5 93.5h1M453 80.5h1M435.5 59h1M470.5 63h1M472.5 95.5h4M467 56.5h2M440.5 87h1M473.5 61h1M434 82.5h1M453.5 57.5h1M470 89h1M425 94h1M471.5 74.5h4M431.5 60h2M458 56h1M459.5 64h1M448.5 87.5h1M435.5 74h1M424.5 90h1M429 75h1M469 68.5h1M454.5 84h2M461.5 56h1M466.5 86.5h1M453 96h1M433.5 64.5h1M470 73.5h1M441.5 63.5h1M470 75h1M433.5 77.5h1M433.5 63h1M428.5 87.5h1M424.5 90.5h1M453.5 61.5h1M448 76.5h1M456 75.5h1M436 72.5h1M429 88h1M467 64h1M470 84h4M427 72.5h1M438.5 95.5h1M430 94h1M438 95h1M469 70h1M436 94h1M447.5 86.5h1M437 70.5h1M437 75.5h1M464 64.5h3M426 56.5h1M445.5 59h1M456 66h2M456.5 68h3M425.5 58h1M424.5 94.5h1M470 66h1M446 60h1M457 78h1M437 74h1M473 59h1M462.5 72.5h1M466 81h1M427.5 94.5h1M428.5 86h1M439 87.5h1M465 71h3M449.5 66h1M463 95h3M476.5 80.5h1M425 72h1M451 76h1M439 75.5h3M436 62h1M464 76h1M464.5 60.5h4M453 62h1M465 67h1M447 74h1M437.5 74h1M427.5 60h1M430.5 76.5h1M465 85.5h1M425.5 75.5h1M465 72.5h1M449.5 81.5h1M460.5 91h1M467 89.5h1M439 93h1M428 86.5h1M461 71h2M469 64h1M458.5 60h1M447.5 81h1M455.5 76h1M436.5 62.5h1M451.5 85h1M470.5 63h4M429 58.5h1M452.5 69.5h1M474.5 65.5h1M456.5 57.5h1M451 75h1M434.5 57h1M445.5 85.5h1M455.5 58h2M437 77h1M456 61h1M466.5 84.5h1M434 77.5h1M451.5 63h1M437.5 85h1M444.5 65.5h1M465 81.5h1M461 66.5h1M451 73h1M455 57h1M438.5 69h1M443 77h1M460.5 75h1M426.5 91.5h1M431 72.5h1M460.5 56.5h1M447 62h1M459 64.5h1M452 87.5h1M431 79h4M437.5 71h1M441.5 62h3M439.5 58.5h1M435.5 59h4M474 64h1M455 65.5h2M434.5 74h3M471 77.5h1M449 60h2M471.5 65h1M470 88.5h2M450 73.5h1M462 63h1M468.5 67h1M470 94h1M473 57h1M461.5 76.5h1M433.5 77h1M466.5 87.5h1M443 73h3M439.5 80h1M455.5 75.5h1M439.5 90.5h1M458 95h1M431.5 91.5h1M453 90h1M459 59.5h1M466.5 58.5h1M459 72h4M466.5 93.5h1M442.5 94.5h4M447.5 58.5h1M458 79h1M443 81.5h1M450.5 67.5h1M430 89.5h1M454.5 56.5h1M461.5 67h1M448.5 56h1M443 83.5h4M455.5 60h1M444.5 82h1M442 75h1M431.5 62.5h1M450 69.5h2M462 65.5h1M455.5 83h1M464.5 67h1M428 62h1M443.5 71.5h1M472 85h1M449 69.5h1M459 93.5h1M447 72h1M455 57.5h1M440 79h1M425 65h1M466.5 93h1M435.5 73h1M425.5 67.5h1M453 56.5h1M431 61h1M441.5 83.5h1M456 81.5h1M455 82h1M443.5 59h4M460 73h4M436.5 62h1M428.5 88.5h2M468 78.5h2M441.5 94.5h1M429.5 71.5h1M471 77.5h1M441.5 77.5h1M462 75h1M467 84.5h3M461.5 62.5h1M439.5 89h1M473 79h1M473.5 84h1M431 57.5h1M452 59h1M462.5 83.5h3M443 65h1M439.5 78.5h1M432 84h1M428.5 56.5h1M463 89h4M444 60h1M472 66h1M437.5 85.5h1M443 78.5h1M428 76.5h1M467 75.5h1M453.5 83.5h1M425.5 86.5h1M455 92.5h1M432.5 70.5h1M466 73h4M473 87.5h1M463.5 96h1M456 64h2M469.5 77.5h3M437.5 95.5h1M440 68.5h1M467.5 75h1M452.5 64.5h1M469 89.5h1M425.5 59.5h1M430 64.5h1M439.5 57.5h3M470.5 82.5h1M467 80.5h1M443 89.5h1M462.5 90h4M431 70.5h1M448 82.5h1M455 59h1M470 71h1M476.5 77h1M447.5 78h2M475 59h1M434 96h4M457.5 65.5h1M433 95.5h1M467 69h2M452 79h1M441.5 68h1M472 63h2M427 80.5h1M472.5 83.5h4M474.5 58h1M428.5 81h1M472 83h1M466.5 70h1M442 89h2M449.5 78.5h1M437.5 82.5h1M466.5 71h1M467 89h1M432 66h1M439.5 61h1M463.5 66.5h3M460.5 84h3M449 90h1M443 72h2M463.5 62h1M452 74h1M448.5 58h1M461.5 91h1M426.5 73.5h1M464 72h2M426 56.5h1M469.5 94h1M432 73.5h1M465 67.5h1M439 84h1M443.5 69h1M430 79.5h4M433.5 90.5h4M430.5 85.5h1M465 76h1M474 57h1M451 72.5h1M426.5 64h1M442 67h1M443.5 88h1M465.5 91.5h1M448.5 91.5h1M470.5 60h1M469.5 57.5h1M447.5 82.5h1M460.5 90.5h1M432 62.5h1M456 67.5h1M459 61.5h4M472 66.5h1M441.5 81.5h1M427.5 89h1M463.5 74h1M440 65.5h1M475 95.5h1M456.5 69h1M441.5 96h1M436 56h1M461 59.5h1M438.5 90h1M436 79.5h1M432.5 56h1M445.5 64.5h1M439.5 85h2M451 66.5h1M467.5 70h2M453.5 88h1M455 75h1M435.5 83h3M462.5 93h1M450 90.5h1M476 66h1M449.5 60h1M448.5 68.5h1M474 88.5h1M467.5 75h1M446 83.5h3M458.5 94h1M441 82.5h2M470.5 75h3M473 87h1M425 79.5h1M461 72.5h2M456 59.5h1M430 79h1M457 64h1M441.5 61.5h1M470.5 87.5h1M446 67.5h3M464.5 91h1M455 66h1M465.5 73h1M475.5 81h1M462.5 67.5h1M425.5 89h1M461.5 75.5h3M461 92.5h1M430 65h1M438 77.5h1M453 92h1M438.5 66.5h1M470.5 86.5h1M426.5 66.5h3M436.5 65.5h1M435.5 92h3M445.5 57.5h1M441.5 94.5h2M435.5 93.5h1M450 58h4M431.5 83.5h1M455.5 68.5h1M442.5 65h1M462.5 85h1M463 84.5h4M473.5 76h1M460 74h1M462.5 75.5h3M442.5 75.5h1M441.5 62h2M448 68.5h1M464 74h2M474 62.5h1M455 84.5h1M458.5 86.5h4M470.5 86h1M443.5 93.5h4M472 56h1M437 82.5h1M430.5 87.5h1M433 74.5h2M437 61.5h1M473.5 70h1M462.5 92h1M456.5 87h1M450 74.5h1M442 86.5h1M440.5 93h4M427.5 84.5h1M448.5 62.5h4M462.5 84.5h1M429 92h1M456 74.5h1M441.5 58h1M432.5 85h1M435 74.5h1M428 91h1M449.5 92.5h3M424.5 79.5h1M467 92h1M441 88.5h1M427 87h2M445 83.5h2M470 95.5h3M470 83h1M457.5 83.5h1M444 95.5h4M449.5 83.5h1M464.5 79.5h1M445 72h1M453.5 91.5h1M462.5 74.5h1M457.5 74.5h1M456.5 83h3M455.5 71.5h1M453 95h1M438.5 72h2M462.5 72.5h1M455.5 92.5h1M433.5 85h4M469.5 76.5h1M437 64h1M435 78.5h1M466.5 88.5h1M451 66h2M430 78.5h1M459 74h2M468 75.5h1M462.5 61h1M424 66h1M441 61.5h4M431 77.5h4M442 82.5h1M455 67.5h4M428.5 83.5h1M460 63h1M462.5 92h1M431.5 87h1M462.5 86.5h1M459.5 91h2M460.5 89h4M464 57h1M428.5 58h4M475 94h1M456 70.5h1M428 86h1M464 83.5h1M476.5 77h1M425 84h1M467 60h2M458 80.5h1M442.5 76.5h4M446 84h1M445.5 63.5h1M439 80.5h1M455 61h3M445 70.5h1M462 80.5h1M445.5 56h1M445 77h2M431 91.5h4M431 62h1M432 67.5h1M461 65h3M430 74h1M428 59h1M432.5 78h3M458 83.5h1M439.5 87.5h1M428.5 94h1M444.5 83.5h3M459 91.5h1M460 88h1M434.5 85h3M425.5 70h4M438.5 78.5h1M469.5 84.5h1M451.5 77h1M468.5 87.5h1M451 88.5h1M434 62.5h1M443 58h1M442 92.5h1M468 96h2M452.5 77.5h1M424.5 77h3M467.5 91.5h1M463.5 65h1M459 88.5h4M465.5 71h1M469 59h1M466.5 60h1M434 59.5h1M469.5 82.5h1M436.5 57h1" stroke="#aa5281" stroke-width="1"/>
<path d="M471.24 113.22h1M469.88 109.14h1M466.14 139.4h1M426.02 105.4h1M432.82 126.14h1M429.76 100.3h1M467.84 126.14h2.1M427.38 108.46h1M426.02 134.3h2.8M454.24 104.38h1M441.66 106.42h2.5M458.66 112.2h1M444.72 121.38h1M440.3 119.34h2.6M437.58 119.34h1M442 103.36h1M472.26 137.36h2.3M426.36 118.32h1M459.34 108.46h1M444.72 122.4h1M457.64 98.26h1M444.04 109.14h2.1M476 134.3h1M440.64 134.3h1M472.26 129.2h3.3M468.86 129.2h1M427.72 131.24h1M443.36 136.34h2.1M466.82 122.4h1M463.42 131.24h1M469.54 119.34h1M471.92 120.36h3.4M473.28 101.32h1M424.32 123.42h1M444.04 102.34h2.2M437.24 98.26h1M461.72 112.2h1M453.56 111.18h3.5M429.08 139.4h1M453.56 109.14h1M433.84 124.44h1M457.3 118.32h1M440.64 125.46h2.5M456.62 135.32h2.6M454.24 137.36h1M444.38 109.14h2.4M468.52 116.28h3.1M460.02 102.34h1M460.02 132.26h2.3M428.74 127.16h1M435.54 137.36h3M432.82 130.22h1M462.4 124.44h1M474.98 117.3h1M437.24 114.24h2.3M453.22 109.14h1M426.02 134.3h1M428.06 98.26h1M428.06 130.22h3.7M443.7 117.3h2.6M436.9 124.44h1M468.18 125.46h2.4M471.24 107.44h1M463.42 118.32h2.5M437.58 110.16h1M428.74 97.24h1M460.36 124.44h1M452.2 134.3h3.8M449.82 136.34h1M442 120.36h2.2M438.94 126.14h3.1M429.08 99.28h1M427.38 117.3h3.9M464.1 121.38h1M453.56 126.14h3.1M469.54 136.34h3.8M460.36 117.3h1M469.2 138.38h1M471.58 101.32h2.7M449.14 127.16h3.7M460.36 110.16h1M451.52 103.36h1M462.06 101.32h1M464.78 101.32h1M442.68 104.38h1M433.5 100.3h1M447.1 133.28h1M456.28 136.34h1M432.82 125.46h2.8M435.88 127.16h1M435.88 113.22h1M443.02 127.16h2.8M439.62 116.28h1M448.46 139.4h1M453.9 112.2h1.9M432.48 127.16h1M465.8 106.42h1.8M451.18 132.26h1M466.48 120.36h1M433.16 127.16h2.6M425 126.14h3.9M434.86 131.24h3.2M449.48 104.38h1M443.7 117.3h1M452.88 139.4h1M468.86 131.24h3.4M447.44 127.16h2.4M455.94 108.46h3.9M445.74 110.16h3.2M460.02 129.2h1.6M446.42 107.44h1M455.94 128.18h1M446.08 104.38h1M429.08 129.2h1M429.08 123.42h1M455.94 138.38h1M468.52 132.26h1M445.4 137.36h1M430.78 99.28h1M441.32 99.28h1M451.18 133.28h1.9M464.1 102.34h1M461.04 128.18h2.5M450.16 117.3h1M446.76 133.28h1M455.26 130.22h1M457.98 125.46h1M427.38 134.3h1M469.2 134.3h1M464.1 130.22h1M474.3 119.34h1.6M432.14 106.42h4M467.16 106.42h1M474.3 108.46h1M427.04 128.18h1M448.12 119.34h1M461.38 116.28h3.6M475.32 138.38h1M428.74 126.14h1.7M441.32 112.2h1.7M446.08 120.36h4M474.3 107.44h1M465.12 102.34h1M468.52 130.22h1.9M450.5 107.44h1M441.66 129.2h3M454.24 133.28h3.8M455.6 98.26h1M460.02 111.18h1.9M462.06 135.32h1M468.18 135.32h3.4M448.12 116.28h1M466.82 103.36h1M437.24 115.26h1M438.26 98.26h1M435.88 130.22h3.6M438.26 106.42h1M460.36 116.28h1M446.42 108.46h2.2M464.78 97.24h3.2M426.36 127.16h1M454.58 101.32h1.8M441.32 125.46h2.2M471.24 128.18h1.8M448.12 118.32h1M438.94 138.38h1M466.14 124.44h1M450.5 130.22h3.5M457.98 98.26h1.6M426.36 104.38h1M437.24 133.28h1M451.18 125.46h1M463.08 123.42h1M427.72 113.22h2.9M455.26 136.34h1.7M439.62 117.3h1M448.46 102.34h1M433.16 103.36h1M456.28 121.38h1M449.48 126.14h1.9M461.38 108.46h1M449.14 112.2h2.4M469.2 126.14h1M470.22 118.32h1M450.5 125.46h1M444.38 135.32h3.7M467.16 134.3h1M475.32 124.44h1M462.4 101.32h1M440.64 136.34h1M470.56 116.28h1M436.22 138.38h1M443.36 121.38h1M457.3 131.24h1M426.7 101.32h1M473.28 107.44h1M470.9 120.36h1M436.22 111.18h1M433.16 138.38h2.3M427.38 123.42h1M438.26 132.26h2.8M458.32 128.18h1.6M471.92 112.2h1M451.18 119.34h1M468.52 105.4h1M462.4 108.46h1M455.94 99.28h1M446.42 120.36h1M426.02 124.44h1.9M467.5 98.26h1M472.94 99.28h1M430.44 131.24h2.7M453.22 100.3h1M440.64 113.22h1M467.84 115.26h3.2M433.16 138.38h1M452.54 102.34h1M461.04 98.26h3.8M427.72 117.3h1M474.3 125.46h2.7M426.36 133.28h1M440.64 117.3h1.6M429.76 119.34h1M429.76 127.16h1M471.92 122.4h1M435.2 125.46h1M443.02 117.3h1.9M434.18 129.2h3.4M446.08 135.32h3.1M427.04 134.3h3.9M432.82 131.24h1.6M449.48 120.36h1M469.88 107.44h1.9M462.06 132.26h1M438.6 134.3h1M452.88 134.3h3.3M434.86 136.34h1M434.18 99.28h1M463.76 107.44h3.3M424.32 99.28h1M445.06 103.36h1M433.84 98.26h1M461.38 110.16h1M451.52 130.22h3M466.14 136.34h3.7M428.4 119.34h2.1M463.76 123.42h1M442.68 130.22h2.9M472.26 102.34h2.8M458.66 130.22h1M424.32 107.44h1M442.34 100.3h1M440.98 107.44h1M470.56 101.32h2.8M430.44 132.26h3.7M447.78 133.28h2.1M470.9 114.24h1M467.16 136.34h1M451.18 135.32h1M434.86 102.34h1M445.4 118.32h2.6M454.92 133.28h3.8M448.46 130.22h1.5M471.58 120.36h1M464.1 97.24h1M464.44 105.4h1.8M473.96 125.46h1M450.16 123.42h1M474.98 108.46h1.7M462.74 108.46h1M427.38 117.3h1M443.36 125.46h1M429.42 107.44h1M426.7 131.24h2.9M447.44 122.4h1M447.44 110.16h1.9M431.8 107.44h1M438.26 137.36h2.4M466.48 136.34h1M446.08 107.44h1M434.86 111.18h1M439.96 111.18h1M442 110.16h1M442.34 125.46h1M450.16 135.32h1.6M468.18 131.24h1M456.62 136.34h1M443.7 130.22h3.4M450.5 113.22h1M442.68 134.3h3.2M462.74 103.36h1M440.64 128.18h1M425.68 135.32h1M428.06 117.3h3.2M441.66 113.22h3.4M442 119.34h1M453.56 102.34h1M471.92 135.32h2.7M446.42 98.26h1M475.32 137.36h1M430.44 100.3h2.3M447.1 109.14h1M450.16 119.34h1M446.76 132.26h1M457.3 107.44h1M445.4 100.3h1M424.66 133.28h1M460.7 97.24h1M462.4 118.32h1M440.64 103.36h1M469.88 128.18h1M426.36 120.36h2.5M467.5 118.32h1M444.72 130.22h1M461.72 107.44h3.7M440.64 124.44h2.4M461.04 136.34h1M457.98 128.18h1M443.02 126.14h1.6M448.46 128.18h2.5M447.1 113.22h3.7M464.44 121.38h1M444.72 115.26h1M456.96 110.16h1M469.54 129.2h3.2M455.6 135.32h1.8M434.18 133.28h1M444.38 107.44h1M426.02 129.2h1.9M445.06 104.38h1M470.9 134.3h1M465.8 99.28h3.3M473.62 134.3h1M449.82 112.2h3.3M433.84 119.34h1M474.3 116.28h1M456.28 127.16h1M439.96 131.24h1.8M430.44 127.16h1M431.12 137.36h1.9M461.38 110.16h1M425.34 114.24h2.5M428.74 136.34h3.3M443.36 117.3h1M439.28 116.28h2.7M437.24 109.14h1M441.32 130.22h2.4M431.46 108.46h1M440.3 102.34h1M425 107.44h1M429.76 128.18h1M428.4 105.4h1M432.14 124.44h1M440.3 134.3h1M463.76 120.36h1M454.58 138.38h1.6M461.72 139.4h2.8M447.1 101.32h1M473.96 117.3h3.5M472.6 100.3h1M425.34 106.42h2.4M462.4 139.4h1M457.98 106.42h1.8M476.34 107.44h1M426.02 139.4h1M438.26 137.36h1M433.84 114.24h1M448.12 101.32h1M428.4 115.26h1M431.8 134.3h3.3M455.6 113.22h1M456.62 126.14h1M461.72 128.18h1M425.68 128.18h3.5M459 109.14h2.7M426.36 105.4h1M427.72 126.14h1M428.4 101.32h2.4M472.6 130.22h1M436.56 98.26h2.1M442.68 112.2h3.5" stroke="#6a6a6a" stroke-width="1"/>
<rect x="424" y="139.3" width="5" height="1" fill="#555"/>
<rect x="237" y="18" width="1" height="1" fill="#d39f63"/>
<rect x="266" y="28" width="1" height="1" fill="#d39f63"/>
<rect x="270" y="46" width="1" height="1" fill="#d39f63"/>
<rect x="237" y="56" width="1" height="1" fill="#d39f63"/>
<text x="221.4" y="23.8" font-size="8.3" fill="#555" stroke="#555" textLength="10.7" lengthAdjust="spacingAndGlyphs">PN</text>
<text x="221.4" y="33.1" font-size="8.3" fill="#a23c66" stroke="#a23c66" textLength="10.1" lengthAdjust="spacingAndGlyphs">PV</text>
<text x="221.4" y="43.3" font-size="8.3" fill="#c0762a" stroke="#c0762a" textLength="18.6" lengthAdjust="spacingAndGlyphs">SOM</text>
<text transform="translate(211.3 109.1) rotate(-90)" font-size="11.5" stroke="#231f20" textLength="65.2" lengthAdjust="spacingAndGlyphs">Neuron Index</text>
<text x="216.7" y="151.8" font-size="9" stroke="#231f20" textLength="23.8" lengthAdjust="spacingAndGlyphs">100 ms</text>
<text x="492.2" y="13.8" font-size="16" stroke="#231f20">c</text>
<path d="M531.1 14.4V120.4H666.9" fill="none" stroke="#231f20" stroke-width="1.4"/>
<path d="M528.3000000000001 120.40H531.1" stroke="#231f20" stroke-width="1"/>
<text x="526.6" y="123.3" font-size="8.3" stroke="#231f20" text-anchor="end" textLength="3.9" lengthAdjust="spacingAndGlyphs">0</text>
<path d="M528.3000000000001 99.20H531.1" stroke="#231f20" stroke-width="1"/>
<text x="526.6" y="102.1" font-size="8.3" stroke="#231f20" text-anchor="end" textLength="3.9" lengthAdjust="spacingAndGlyphs">5</text>
<path d="M528.3000000000001 78.00H531.1" stroke="#231f20" stroke-width="1"/>
<text x="526.6" y="80.9" font-size="8.3" stroke="#231f20" text-anchor="end" textLength="8.3" lengthAdjust="spacingAndGlyphs">10</text>
<path d="M528.3000000000001 56.80H531.1" stroke="#231f20" stroke-width="1"/>
<text x="526.6" y="59.7" font-size="8.3" stroke="#231f20" text-anchor="end" textLength="8.3" lengthAdjust="spacingAndGlyphs">15</text>
<path d="M528.3000000000001 35.60H531.1" stroke="#231f20" stroke-width="1"/>
<text x="526.6" y="38.5" font-size="8.3" stroke="#231f20" text-anchor="end" textLength="8.3" lengthAdjust="spacingAndGlyphs">20</text>
<path d="M528.3000000000001 14.40H531.1" stroke="#231f20" stroke-width="1"/>
<text x="526.6" y="17.3" font-size="8.3" stroke="#231f20" text-anchor="end" textLength="8.3" lengthAdjust="spacingAndGlyphs">25</text>
<path d="M576.1 120.4V123.2" stroke="#231f20" stroke-width="1"/>
<path d="M621.4 120.4V123.2" stroke="#231f20" stroke-width="1"/>
<path d="M666.4 120.4V123.2" stroke="#231f20" stroke-width="1"/>
<text x="524.3" y="131.8" font-size="8.3" stroke="#231f20" textLength="21.2" lengthAdjust="spacingAndGlyphs">None</text>
<text x="567.3" y="131.8" font-size="8.3" stroke="#231f20" textLength="16.7" lengthAdjust="spacingAndGlyphs">Low</text>
<text x="611.2" y="131.8" font-size="8.3" stroke="#231f20" textLength="17.5" lengthAdjust="spacingAndGlyphs">Med</text>
<text x="657.1" y="131.8" font-size="8.3" stroke="#231f20" textLength="18.7" lengthAdjust="spacingAndGlyphs">High</text>
<text x="565.2" y="146.5" font-size="10" stroke="#231f20" textLength="77.6" lengthAdjust="spacingAndGlyphs">Stimulus Strength</text>
<text transform="translate(512.9 91.1) rotate(-90)" font-size="10" stroke="#231f20" textLength="64.1" lengthAdjust="spacingAndGlyphs">Firing Rate (Hz)</text>
<text x="537.9" y="19.7" font-size="9.3" fill="#555" stroke="#555" textLength="12.1" lengthAdjust="spacingAndGlyphs">PN</text>
<text x="537.9" y="32.2" font-size="9.3" fill="#a23c66" stroke="#a23c66" textLength="10.6" lengthAdjust="spacingAndGlyphs">PV</text>
<text x="537.4" y="44.9" font-size="9.3" fill="#c0762a" stroke="#c0762a" textLength="21.7" lengthAdjust="spacingAndGlyphs">SOM</text>
<path d="M528.60 103.44L533.60 103.44M529.33 101.67L532.87 105.21M531.10 100.94L531.10 105.94M532.87 101.67L529.33 105.21" stroke="#777" stroke-width="0.8" opacity="0.9"/>
<path d="M573.60 94.96L578.60 94.96M574.33 93.19L577.87 96.73M576.10 92.46L576.10 97.46M577.87 93.19L574.33 96.73" stroke="#777" stroke-width="0.8" opacity="0.9"/>
<path d="M618.90 90.72L623.90 90.72M619.63 88.95L623.17 92.49M621.40 88.22L621.40 93.22M623.17 88.95L619.63 92.49" stroke="#777" stroke-width="0.8" opacity="0.9"/>
<path d="M663.90 84.78L668.90 84.78M664.63 83.02L668.17 86.55M666.40 82.28L666.40 87.28M668.17 83.02L664.63 86.55" stroke="#777" stroke-width="0.8" opacity="0.9"/>
<path d="M528.60 96.23L533.60 96.23M529.33 94.46L532.87 98.00M531.10 93.73L531.10 98.73M532.87 94.46L529.33 98.00" stroke="#c9779c" stroke-width="0.8" opacity="0.9"/>
<path d="M573.60 72.91L578.60 72.91M574.33 71.14L577.87 74.68M576.10 70.41L576.10 75.41M577.87 71.14L574.33 74.68" stroke="#c9779c" stroke-width="0.8" opacity="0.9"/>
<path d="M618.90 60.19L623.90 60.19M619.63 58.42L623.17 61.96M621.40 57.69L621.40 62.69M623.17 58.42L619.63 61.96" stroke="#c9779c" stroke-width="0.8" opacity="0.9"/>
<path d="M663.90 40.69L668.90 40.69M664.63 38.92L668.17 42.46M666.40 38.19L666.40 43.19M668.17 38.92L664.63 42.46" stroke="#c9779c" stroke-width="0.8" opacity="0.9"/>
<path d="M573.60 100.47L578.60 100.47M574.33 98.70L577.87 102.24M576.10 97.97L576.10 102.97M577.87 98.70L574.33 102.24" stroke="#dba060" stroke-width="0.8" opacity="0.9"/>
<path d="M618.90 75.88L623.90 75.88M619.63 74.11L623.17 77.65M621.40 73.38L621.40 78.38M623.17 74.11L619.63 77.65" stroke="#dba060" stroke-width="0.8" opacity="0.9"/>
<path d="M663.90 27.97L668.90 27.97M664.63 26.20L668.17 29.74M666.40 25.47L666.40 30.47M668.17 26.20L664.63 29.74" stroke="#dba060" stroke-width="0.8" opacity="0.9"/>
<polyline points="531.1,104.42 576.1,93.69 621.4,89.24 666.4,83.09" fill="none" stroke="#3a3a3a" stroke-width="1.45"/>
<circle cx="531.1" cy="104.42" r="1.6" fill="#3a3a3a"/>
<circle cx="576.1" cy="93.69" r="1.6" fill="#3a3a3a"/>
<circle cx="621.4" cy="89.24" r="1.6" fill="#3a3a3a"/>
<circle cx="666.4" cy="83.09" r="1.6" fill="#3a3a3a"/>
<polyline points="531.1,98.99 576.1,70.37 621.4,55.53 666.4,32.21" fill="none" stroke="#a8466e" stroke-width="1.45"/>
<circle cx="531.1" cy="98.99" r="1.6" fill="#a8466e"/>
<circle cx="576.1" cy="70.37" r="1.6" fill="#a8466e"/>
<circle cx="621.4" cy="55.53" r="1.6" fill="#a8466e"/>
<circle cx="666.4" cy="32.21" r="1.6" fill="#a8466e"/>
<polyline points="531.1,120.40 576.1,104.29 621.4,81.60 666.4,35.18" fill="none" stroke="#c98233" stroke-width="1.45"/>
<circle cx="531.1" cy="120.40" r="1.6" fill="#c98233"/>
<circle cx="576.1" cy="104.29" r="1.6" fill="#c98233"/>
<circle cx="621.4" cy="81.60" r="1.6" fill="#c98233"/>
<circle cx="666.4" cy="35.18" r="1.6" fill="#c98233"/>
<text x="0.0" y="182.5" font-size="15" stroke="#231f20">d</text>
<text x="17.7" y="243.9" font-size="10.5" stroke="#231f20" textLength="35.2" lengthAdjust="spacingAndGlyphs">Choose</text>
<text x="61.4" y="243.9" font-size="10" stroke="#231f20" font-style="italic">β</text>
<text x="68.0" y="245.3" font-size="5.5" stroke="#231f20" font-style="italic">α</text>
<text x="71.5" y="243.9" font-size="10.5" stroke="#231f20" textLength="7.7" lengthAdjust="spacingAndGlyphs">∈</text>
<text x="81.1" y="243.9" font-size="10.5" stroke="#231f20" textLength="33.1" lengthAdjust="spacingAndGlyphs">[0, 0.5]</text>
<text x="44.3" y="258.3" font-size="10.5" stroke="#231f20" textLength="34.9" lengthAdjust="spacingAndGlyphs">and set</text>
<text x="34.6" y="271.8" font-size="8.7" stroke="#231f20" font-style="italic">r</text>
<text x="39.2" y="267.2" font-size="4.8" stroke="#231f20" font-style="italic">α</text>
<text x="38.9" y="274.6" font-size="5" stroke="#231f20" font-style="italic" textLength="16.4" lengthAdjust="spacingAndGlyphs">stim,d</text>
<text x="58.3" y="271.3" font-size="8.5" stroke="#231f20" textLength="5.4" lengthAdjust="spacingAndGlyphs">=</text>
<text x="65.5" y="271.8" font-size="8.5" stroke="#231f20" font-style="italic">β</text>
<text x="70.2" y="273.3" font-size="4.8" stroke="#231f20" font-style="italic">α</text>
<text x="76.5" y="271.8" font-size="8.7" stroke="#231f20" font-style="italic">r</text>
<text x="81.1" y="267.2" font-size="4.8" stroke="#231f20" font-style="italic">α</text>
<text x="80.8" y="273.6" font-size="5" stroke="#231f20" font-style="italic" textLength="11.1" lengthAdjust="spacingAndGlyphs">stim</text>
<text x="20.2" y="288.0" font-size="10.5" stroke="#231f20" textLength="89.7" lengthAdjust="spacingAndGlyphs">(stimulus response</text>
<text x="37.0" y="301.2" font-size="10.5" stroke="#231f20" textLength="55.0" lengthAdjust="spacingAndGlyphs">eliminated)</text>
<path d="M131.9,265H173.5" fill="none" stroke="#231f20" stroke-width="1.5"/>
<polygon points="172.4,261.3 172.4,268.7 180,265" fill="#231f20"/>
<text x="191.3" y="216.9" font-size="10.5" stroke="#231f20" textLength="80.6" lengthAdjust="spacingAndGlyphs">Inject hyper- and</text>
<text x="180.9" y="230.3" font-size="10.5" stroke="#231f20" textLength="102.1" lengthAdjust="spacingAndGlyphs">depolarizing currents</text>
<text x="189.3" y="243.4" font-size="10.5" stroke="#231f20" textLength="88.3" lengthAdjust="spacingAndGlyphs">(recover response)</text>
<path d="M201.9,258.3V310.4L251.5,292.6M201.9,310.4L242.4,344" fill="none" stroke="#231f20" stroke-width="1.2"/>
<text x="193.7" y="264.6" font-size="8.5" stroke="#231f20">5</text>
<text x="190.2" y="308.2" font-size="8.5" stroke="#231f20">-5</text>
<text x="206.2" y="305.3" font-size="8.5" stroke="#231f20">-5</text>
<text x="196.6" y="320.0" font-size="8.5" stroke="#231f20">-5</text>
<text x="242.4" y="293.5" font-size="8.5" stroke="#231f20">5</text>
<text x="230.0" y="346.0" font-size="8.5" stroke="#231f20">5</text>
<g font-style="italic" fill="#333" stroke="#333"><text x="182.0" y="284" font-size="9.3">I</text><text x="185.1" y="278.8" font-size="5" textLength="8.9" lengthAdjust="spacingAndGlyphs">SOM</text><text x="185.0" y="285.6" font-size="5" textLength="10.3" lengthAdjust="spacingAndGlyphs">recov</text></g>
<g font-style="italic" fill="#333" stroke="#333"><text x="222.3" y="291.9" font-size="9.3">I</text><text x="226.0" y="286.6" font-size="5" textLength="1.9" lengthAdjust="spacingAndGlyphs">E</text><text x="224.8" y="292.9" font-size="5" textLength="10.4" lengthAdjust="spacingAndGlyphs">recov</text></g>
<g font-style="italic" fill="#333" stroke="#333"><text x="205.3" y="335.2" font-size="9.3">I</text><text x="208.6" y="329.8" font-size="5" textLength="4.6" lengthAdjust="spacingAndGlyphs">PV</text><text x="208.2" y="337.4" font-size="5" textLength="10.3" lengthAdjust="spacingAndGlyphs">recov</text></g>
<circle cx="252.3" cy="275.7" r="2.4" fill="#231f20"/>
<path d="M257.7,273.2L340,240.6" fill="none" stroke="#231f20" stroke-width="2.2"/>
<polygon points="337.6,235.6 341.8,245.8 348.4,237.1" fill="#231f20"/>
<circle cx="269.6" cy="323.8" r="2.5" fill="#8a8a8a"/>
<path d="M276.6,326.3L348,343.6" fill="none" stroke="#231f20" stroke-width="2.0"/>
<polygon points="347.4,338 345.6,348.9 356.6,345.7" fill="#231f20"/>
<path d="M314.2,221.2 Q311.8,225.5 317.6,229.3 Q321.5,232.4 326.8,234.3 M326.4,223.7 Q321.2,224.6 317.6,229.3 Q314.2,233.8 309.8,235.6" fill="none" stroke="#231f20" stroke-width="4.1" stroke-linecap="round"/>
<path d="M308.9,322.2 L311.6,320.2 L315.3,326.8 Q323,315 333.2,307.5 L333.9,308.3 Q324,318 316,331.6 L313.2,331.6 Z" fill="#231f20"/>
<text x="393.0" y="182.7" font-size="10.5" stroke="#231f20" textLength="81.9" lengthAdjust="spacingAndGlyphs">Reject if unstable</text>
<text x="384.3" y="196.2" font-size="10.5" stroke="#231f20" textLength="25.7" lengthAdjust="spacingAndGlyphs">None</text>
<text x="458.4" y="197.6" font-size="10.5" stroke="#231f20" textLength="22.6" lengthAdjust="spacingAndGlyphs">High</text>
<text x="387.3" y="296.8" font-size="10.5" stroke="#231f20" textLength="93.3" lengthAdjust="spacingAndGlyphs">Accept if stable and</text>
<text x="387.3" y="310.7" font-size="10.5" stroke="#231f20" textLength="95.3" lengthAdjust="spacingAndGlyphs">high excitatory gain</text>
<text transform="translate(372.6 269.2) rotate(-90)" font-size="10.5" stroke="#231f20" textLength="64.5" lengthAdjust="spacingAndGlyphs">Neuron Index</text>
<text transform="translate(371.2 384.3) rotate(-90)" font-size="10.5" stroke="#231f20" textLength="63.3" lengthAdjust="spacingAndGlyphs">Neuron Index</text>
<text x="372.8" y="282.6" font-size="7.5" stroke="#231f20" textLength="19.9" lengthAdjust="spacingAndGlyphs">100 ms</text>
<text x="372.8" y="395.7" font-size="7.5" stroke="#231f20" textLength="18.9" lengthAdjust="spacingAndGlyphs">100 ms</text>
<rect x="373.4" y="274.6" width="4.4" height="0.9" fill="#231f20"/>
<rect x="373.8" y="388.8" width="4" height="0.9" fill="#231f20"/>
<rect x="448.3" y="275.3" width="3.4" height="0.9" fill="#231f20"/>
<rect x="377.9" y="200.2" width="1" height="23.3" fill="#dcae80"/>
<rect x="382.6" y="200.2" width="1" height="23.3" fill="#dcae80"/>
<rect x="387.1" y="200.2" width="1" height="23.3" fill="#dcae80"/>
<rect x="392.8" y="200.2" width="1" height="23.3" fill="#dcae80"/>
<rect x="396.9" y="200.2" width="1" height="23.3" fill="#dcae80"/>
<rect x="403.0" y="200.2" width="1" height="23.3" fill="#dcae80"/>
<rect x="408.8" y="200.2" width="1" height="23.3" fill="#dcae80"/>
<rect x="413.3" y="200.2" width="1" height="23.3" fill="#dcae80"/>
<path d="M378 224.5h1M383 224.5h1M403 224.5h1M413 224.5h1M387 225.5h1M403 225.5h1M378 226.5h1M383 226.5h1M403 226.5h1M413 226.5h1M378 227.5h1M383 227.5h1M387 227.5h1M393 227.5h1M397 227.5h1M403 227.5h1M409 227.5h1M403 228.5h1M409 228.5h1M413 228.5h1M378 229.5h1M383 229.5h1M397 229.5h1M403 229.5h1M378 230.5h1M383 230.5h1M387 230.5h1M403 230.5h1M378 231.5h1M383 231.5h1M409 231.5h1M383 232.5h1M387 232.5h1M397 232.5h1M387 233.5h1M393 233.5h1M397 233.5h1M413 233.5h1M378 234.5h1M383 234.5h1M397 234.5h1M403 234.5h1M409 234.5h1M383 235.5h1M403 235.5h1M413 235.5h1M378 236.5h1M383 236.5h1M387 236.5h1M397 236.5h1M409 236.5h1M383 237.5h1M393 237.5h1M403 237.5h1M413 237.5h1M383 238.5h1M387 238.5h1M403 238.5h1M409 238.5h1M383 239.5h1M387 239.5h1M393 239.5h1M403 239.5h1M413 239.5h1M378 240.5h1M383 240.5h1M397 240.5h1M403 240.5h1M409 240.5h1M378 241.5h1M383 241.5h1M387 241.5h1M397 241.5h1M403 241.5h1M378 242.5h1M397 242.5h1M403 242.5h1M413 242.5h1M383 243.5h1M413 243.5h1M383 244.5h1M397 244.5h1M409 244.5h1M383 245.5h1M387 245.5h1M397 245.5h1M409 245.5h1M383 246.5h1M393 246.5h1M397 246.5h1M409 246.5h1M413 246.5h1M383 247.5h1M393 247.5h1M397 247.5h1M403 247.5h1M409 247.5h1M413 247.5h1" stroke="#d49ab6" stroke-width="1"/>
<path d="M384 248.5h1M379 249.5h1M387 250.5h1M378 251.5h1M408 252.5h1M398 253.5h1M402 253.5h1M409 253.5h1M402 254.5h1M388 255.5h1M398 255.5h1M404 255.5h1M410 255.5h1M378 256.5h1M398 256.5h1M396 257.5h1M409 257.5h1M413 257.5h1M379 258.5h1M387 258.5h1M404 258.5h1M378 259.5h1M387 259.5h1M398 259.5h1M403 259.5h1M383 261.5h1M409 261.5h1M383 263.5h1M387 263.5h1M398 263.5h1M384 266.5h1M394 266.5h1M409 267.5h1M412 267.5h1M403 269.5h1M410 269.5h1M413 270.5h1M402 271.5h1M413 271.5h1" stroke="#9a9a9a" stroke-width="1"/>
<rect x="448.3" y="202.1" width="42.5" height="22.1" fill="#d7a878"/>
<rect x="451.5" y="202.1" width="0.8" height="22.1" fill="#e9cba9"/>
<rect x="455" y="202.1" width="0.8" height="22.1" fill="#e9cba9"/>
<rect x="459.5" y="202.1" width="0.8" height="22.1" fill="#e9cba9"/>
<rect x="463" y="202.1" width="0.8" height="22.1" fill="#e9cba9"/>
<rect x="468" y="202.1" width="0.8" height="22.1" fill="#e9cba9"/>
<rect x="472.5" y="202.1" width="0.8" height="22.1" fill="#e9cba9"/>
<rect x="477" y="202.1" width="0.8" height="22.1" fill="#e9cba9"/>
<rect x="482" y="202.1" width="0.8" height="22.1" fill="#e9cba9"/>
<rect x="486.5" y="202.1" width="0.8" height="22.1" fill="#e9cba9"/>
<path d="M474.5 230.5h1M462.5 233.5h1M463 247h1M464 225h1M457 235.5h1M467.5 247h1M463 227h1M457 243h2M460 238.5h1M456 225.5h1M464 247h1M465.5 234h1M489 226.5h1M471 229h1M469.5 230h1M464.5 243h1M449.5 248h1M485 230.5h3M450 233h1M450.5 244h1M465.5 241h1M461 240.5h1M452.5 248h1M473.5 246.5h1M466 239.5h1M484.5 237h2M449 243.5h1M475 227.5h4M483 229.5h1M479 238.5h4M451.5 247.5h1M486.5 231h1M458.5 243h3M455.5 227.5h1M466 248h1M449.5 242h1M473.5 243.5h1M472.5 233h1M454 228.5h1M481.5 238.5h4M471.5 228.5h1M470 240h3M469 234h1M471 225.5h2M484 240.5h4M448.5 238.5h1M482.5 230h3M477 233h1M474.5 236.5h1M482 226.5h1M487.5 240.5h1M448.5 243.5h1M469 230h1M488.5 231.5h1M452.5 243.5h1M474.5 235.5h1M452.5 238.5h1M468.5 241h1M470.5 244h1M468 241h1M474.5 231h1M453 241.5h3M476 232.5h1M457 232h4M484 236h2M450.5 225h3M482.5 240h1M465.5 230.5h1M463 246h1M450.5 230.5h2M470.5 228.5h1M486 236.5h1M460.5 231.5h1M458.5 227h1M458 243.5h1M488 229.5h1M451 232.5h4M468.5 228h1M468.5 241.5h1M476.5 234.5h1M465 240h1M486.5 242.5h1M454.5 239.5h3M476.5 226h1M459.5 246.5h1M462 234.5h2M479.5 240h2M473 241.5h3M467.5 228h1M470 231h1M468.5 246.5h1M459.5 233h1M469 236.5h1M454.5 228.5h1M478.5 229h4M473.5 247h1M466.5 230h1M472 245.5h1M462.5 232h1M456.5 238h1M462.5 243.5h1M461 246h1M488 237.5h1M480.5 246.5h1M459 240.5h1M454 242h1M448.5 235.5h3M474.5 225.5h1M468.5 225h1M472 246.5h3M457 234h1M476 246.5h1M482.5 230h1M469 228h1M471 241.5h1M487.5 237h1M470 228.5h1M473.5 248h3M469.5 230h1M487.5 245h1M454 231.5h1M487.5 245.5h3M465.5 231.5h1M475.5 230.5h1M486.5 239.5h1M468 243h1M476 238h1M450 225.5h1M461.5 225h2M456.5 240.5h1M449 230.5h1M470.5 228h1M460 228h1M478.5 231h1M463 227h1M471.5 227.5h1M466 238.5h3M485 232h1M463.5 244.5h1M469.5 247h1M458 244.5h1M454 246h1M475 239.5h2M472.5 240.5h1M485 228.5h2M473.5 226.5h1M475 232.5h1M466 247h1M449 244h1M478.5 228h1M451.5 238.5h1M460 242.5h1M452 242h1M459 225h4M482 247h1M478 237.5h3M484 242.5h1M479.5 228.5h1M449 243h1M449.5 225h1M484.5 241.5h4M478 226h1M458.5 227h1M454 239.5h1M451 233h1M484.5 235h1M463 235.5h1M468.5 226h1M458.5 233h1M472 232h1M470.5 246.5h1M452.5 239h1M459.5 233h1M453 230h1M465.5 232.5h1M487.5 234.5h2M488 243.5h1M463.5 243.5h1M470.5 230.5h1M463 235.5h1M479 243h1M488.5 231.5h1M488.5 244h1M478.5 242h1M466 225.5h1M454 229.5h1M448.5 226h1M451.5 225.5h1M470 243h2M484.5 242.5h1M484.5 237.5h1M467 237.5h4M490 229h1M464 239.5h1M467.5 248h1M470 247.5h1M480.5 234.5h1M466.5 238h1M488 240h1M483 233.5h1M482.5 243h1M470 241h1M461.5 241.5h1M477 228h1M468 242h1M462.5 248h1M462.5 248h1M482.5 228h1M459 243.5h1M460.5 225h1M488.5 246h1M457.5 228h1M485.5 240.5h1M481 244h3M457 235.5h1M461.5 237.5h1M459.5 242h1M454 230h1M475.5 235h1M454 245.5h1M479 230h1M475 240h1M459 230h1M483 229.5h1M474.5 240.5h1M458 232h1M454.5 230.5h1M465.5 227.5h1M459 238.5h1M473.5 230.5h1M462.5 224.5h1M485.5 241.5h1M471 243.5h1M452.5 244.5h1M466.5 234h1M463 239.5h1M471.5 227h1M461.5 232.5h1M457.5 228h1M462.5 241h1M468 247.5h2M477.5 234.5h2M481 229h1M484 234.5h1M448.5 236h1M489 237h1M462.5 226.5h1M471 226.5h1M449 228h1M474 241h1M453 229h4M449 235.5h1M476 241h2M473.5 225h2M450 239.5h1M458 246h1M464 245.5h1M474.5 234.5h1M483 234h1M461 240h3M470 236.5h1M466.5 229h1M483 227h1M457 248h1M449 241.5h1M473 245h1M472 239.5h1M454.5 235.5h1M477.5 246.5h1M475.5 229h1M453 225.5h1M460.5 240.5h1M475 240.5h1M474 232h1M453.5 236h1M454 235.5h1M455.5 233.5h1M455 243.5h1M455 226h1M475.5 234.5h1M461 239.5h1M461.5 241.5h1M471.5 231h4M453.5 239h1M470.5 234.5h4M451 236h1M474 239.5h1M456 247.5h4M470 237.5h1M461 241.5h1M476 236h1M462.5 236h1M460.5 247.5h1M486.5 237h1M468.5 239h1M461.5 240h4M459 226.5h1M464.5 226.5h1M470 236h1M462 229h1M487 238h1M478.5 248h1M466 237h1M471 225h1M483.5 232h1M457 232h2M480 230.5h1M460.5 244h1M461.5 231h1M469.5 231h1M458.5 231.5h1M480 242.5h4M483.5 236.5h1M459 235h1M481.5 237.5h1M481 236.5h3M483 233.5h1M469.5 246h1M450 230.5h1M467.5 234.5h1M482 230.5h1M456.5 236h1M452.5 239.5h1M472 230.5h1M449 226.5h1M464 242.5h1M477.5 242h1M474 234h1M484 237.5h1M463 237h1M479.5 227h1M449 237.5h4M454 225h1M484.5 246.5h1M450 233.5h1M466 232.5h1M465 236.5h2M473 233h1M472.5 238.5h1M453 238.5h1M484.5 244h4M479.5 246.5h1M457.5 244h1M461 245h1M455.5 231.5h1M474.5 246.5h1M468.5 244.5h2M479.5 231h1M463 233.5h1M483 225h1M480.5 240.5h1M453 229h1M468.5 235.5h2M473.5 233h1M467 243h1M455.5 247.5h1M461 230.5h1M480 242.5h1M467 225.5h1M487 243h1M462 247h1M479.5 241.5h1M458.5 242.5h1M470 241.5h1M460.5 246.5h1M455.5 247.5h1M452 234.5h1M458.5 241.5h1M476.5 225h1M456 243.5h1M476 229h1M464 229h1M455 226h1M482 246h1" stroke="#c98aa8" stroke-width="1"/>
<path d="M452.5 264h1M455 273h2.1M459 274h3.9M481 272h1M449 262h1M449.5 253h1.7M468.5 257h1M448.5 253h2.1M471 254h1M474.5 273h1M479 256h1M469 268h1M475 274h3.1M459.5 259h1M487.5 268h1M477.5 249h1M474 260h1M456 258h1M462 269h2.7M480 253h1.8M470.5 272h1M483.5 255h1M475.5 254h2M454.5 254h1M464 270h1M485.5 255h1M459 266h1M475 251h1M468.5 273h2.1M465.5 249h1M469.5 268h1.9M466.5 274h1M448.5 255h4M458 260h1M451 274h1M463 267h1M465 268h2.5M468 268h1M488 266h1M474.5 271h1.7M464 261h1M459 258h1M476 251h1M452.5 270h1M478.5 266h1M459.5 255h1M463.5 252h3.5M468 252h1.7M468 255h1M471 269h1M452 253h3M462.5 269h1M487.5 269h1M453 268h1M464.5 260h1M484.5 266h1M448.5 258h2.5M484 264h3.9M480.5 266h1M450.5 257h3.5M482.5 254h1M482 274h1M489.5 256h1M480 264h1M460.5 253h1M455.5 262h1M465.5 274h1M456 266h2.9M461.5 258h1M482 254h1M465.5 262h1M466.5 253h1M489.5 258h1M471 257h2.6M472.5 250h1M483 266h2.4M463 267h2.5M479.5 268h1M488 255h2.9M476.5 249h3.2M477 266h1M474.5 267h1M454 273h1M461.5 264h1M470 255h2.6M459.5 267h1M474 263h1M468 268h1M483 254h3.3M456.5 256h3.4M470 256h3.1M481 271h1M483 256h3.6M480.5 263h1M477.5 270h3.7M470 258h1M479 274h1M465.5 258h1M464 254h1M484.5 255h3.8M471.5 258h1M482 269h1M464 256h1M457 270h1.6M485 254h1M469 261h1M470.5 263h1M480.5 249h2.8M455 271h1M468.5 262h2.5M471.5 264h1M464.5 250h1M476.5 250h1.7M479.5 272h2.3M470 274h1M469.5 252h1M483.5 265h1M482 261h1M486.5 252h1M462.5 274h2.4M457.5 251h3M465.5 250h1M452 269h1M470 272h1M464 265h1M458.5 269h1.7M466.5 259h1M466.5 267h1M472.5 266h1M487 268h1.5M471.5 254h1M455.5 257h1M467.5 264h1M487.5 259h1M461.5 250h1M480 252h1M473 269h1M454 274h2.1M450.5 267h3.7M455.5 256h1" stroke="#666" stroke-width="1"/>
<path d="M382.5 344h1M403 330.5h1M403 342h1M408 351.5h1M389 347h1M398 342.5h1M400.5 347.5h1M384.5 337h1M396.5 339h1M402.5 334h1M384.5 340.5h1M377 348.5h1M384.5 327.5h1M401 339h1M394.5 333h1M398.5 341.5h1M378 347.5h1M379 346.5h1M398.5 340.5h1M383.5 354h1M413 346.5h1M405.5 337h1M411 340h1" stroke="#c98aa8" stroke-width="1"/>
<path d="M390.5 366.5h1M403 370h1M398 368h1M405 372.5h1M412.5 367h1M392.5 369.5h1M403.5 366h1M384 361.5h1M380.5 359h1M384.5 362h1M402 360h1M404 361.5h1M389 360h1M408.5 358.5h1M402 375h1M378 362.5h1M412 375.5h1M388.5 378.5h1M411 369h1M379 377.5h1M408.5 380.5h1M375.5 370h1M399.5 376.5h1M381 377.5h1M394 383h1M403.5 366.5h1M392 383h1" stroke="#777" stroke-width="1"/>
<path d="M479 342h1M452 343.5h1M457.5 343h1M489.5 343.5h1M449.5 332.5h1M485.5 332h1M463.5 328.5h1M461 338h1M489 355.5h1M452.5 350.5h1M458 343.5h1M469.5 344h1M471 340h1M466.5 339h1M455.5 332.5h1M448 347.5h1M486.5 356.5h1M478 348h1M478.5 351h1M457.5 342h1M466 330h1M486.5 347.5h1M478.5 346.5h1M452.5 356.5h1M451 355.5h1M458.5 342h1M486 337.5h1M484.5 357h1M459 357h1M488.5 356.5h1M468 339h1M478.5 328h1M457.5 332.5h1M488.5 330h1M453 344h1M457.5 354h1M485.5 335h1M470 354h1M448 343h1M451 350.5h1M486.5 336.5h1M450 342.5h1M484 328h1M473 348h1M452 351.5h1M489.5 328.5h1M461.5 356h1M466.5 348.5h1M482 340h1M453 335h1M487 353.5h1M482 333.5h1M459.5 348.5h1M486.5 351h1M488.5 339.5h1M479 336h1M449.5 354.5h1M451 335h1M484 351.5h1M483.5 348.5h1M458 345h1M459 354h1M463 337.5h1M468.5 345.5h1M452.5 354h1M487 331.5h1M477.5 345h1M451 340.5h1M486.5 342.5h1M482 348.5h1M480 355.5h1M448.5 343h1M456 355.5h1M474.5 331.5h1M488 341h1M449 340.5h1M466.5 344.5h1M471 344h1M480 355h1M484 340.5h1M469.5 334h1M488 356.5h1M483.5 335.5h1M459.5 348.5h1M448 352h1M470 355.5h1M460 341.5h1M466.5 348.5h1M487.5 356h1M471.5 354.5h1M450 338h1M468.5 327.5h1M448 353h1M471 352.5h1M471 334h1M463.5 340h1M485.5 337h1M469 342.5h1M465 342h1M451 329h1M456 334h1M472.5 348.5h1M458 339h1M461.5 338h1M465.5 330.5h1M481.5 353h1M451 351h1M454 346.5h1M457.5 351.5h1M453.5 332h1M461.5 348h1M466 344.5h1M450 349h1M459 357h1M469 329.5h1M463 339.5h1M488 330.5h1M461 336.5h1M485.5 350h1M462.5 335.5h1M489 333h1M466 336.5h1M460.5 348.5h1M484 348h1M482.5 354.5h1M471 352.5h1M461.5 332.5h1M450 352.5h1M457.5 355.5h1M451.5 331.5h1M452.5 343h1M482 338.5h1M489 339h1M451 327.5h1M470.5 346h1M471 352h1M456 336h1M452.5 328.5h1M461 336h1M449 355.5h1M467.5 339.5h1M487.5 331.5h1M462.5 330.5h1M480.5 344h1M459 342.5h1M479.5 355.5h1M461 349.5h1M484 345.5h1M481 341h1M462.5 331h1M478 345h1M455.5 337.5h1M464.5 328.5h1M482.5 346h1M457 331.5h1M468 338h1M485 350.5h1M457.5 327.5h1M468 336h1M490 347h1M448.5 337h1M477.5 341.5h1M458 343h1M464 341h1M486 354h1M463 346h1M448.5 330h1M454 349h1M473.5 345h1M454 337.5h1M484 344.5h1M482 329h1M481 349h1M457.5 356h1M463 333h1M462 343h1M459 342.5h1M461.5 354h1M489 353.5h1M485.5 348h1M454 339h1M450 330.5h1M467 344.5h1M485.5 353.5h1M470 341.5h1M453.5 340.5h1M459.5 328h1M452 339.5h1M477.5 329h1M488.5 353.5h1M479.5 340h1M469 342h1M465.5 353h1M465.5 339h1M463 350h1M458.5 350h1M489.5 345h1M479.5 353h1M451.5 341h1M469 336h1M459 355.5h1M482 335.5h1M470 357h1M480.5 351h1M471.5 342h1M479 351.5h1M474 351.5h1M464 328.5h1M450 330h1M474.5 350h1M470.5 347h1M482.5 344.5h1M469.5 332.5h1M483 337.5h1M489.5 329.5h1M482 353h1M475.5 337h1M452 329h1M450 355h1M472 352.5h1M464 347.5h1M466 330h1M487 327.5h1M460 329.5h1M455 337h1M479 333h1M479 338h1M465.5 335.5h1M466 343h1M477 357h1M467.5 349.5h1M461 347.5h1M468.5 337.5h1M470.5 351h1M487.5 335.5h1M454 336.5h1M489.5 343.5h1M467 341.5h1M450.5 327.5h1M457.5 351.5h1M459 353h1M453 335.5h1M489.5 344.5h1M478 344.5h1M481 349h1M474 332h1M453 351h1M464 335.5h1M474.5 348h1M456.5 335.5h1M448 334h1M479.5 355.5h1M472 343.5h1M462 354h1M458 340.5h1M462.5 345h1M486 355.5h1M460 340h1M489.5 353.5h1M477 353.5h1M472.5 350h1M464.5 342.5h1M459 344h1M474.5 340h1M464 353.5h1M457 354.5h1M452 348.5h1M482.5 336.5h1M489 339h1M455.5 356h1M475 357h1M451.5 355h1M473 338.5h1M487.5 335h1M456.5 338h1M451.5 330h1M452.5 343.5h1M465 347h1M453.5 348.5h1M473 355.5h1M456.5 338h1M480.5 354h1M473.5 333h1M481.5 352.5h1M450.5 335.5h1M456 357h1M485.5 340.5h1M486 334h1M448 351h1M479 332.5h1M481.5 333h1M459 344h1M464.5 340h1M475.5 342.5h1M481 344h1M471 329.5h1M469.5 330h1M454.5 356h1M486.5 332.5h1M466 339.5h1M461.5 328.5h1M458 335.5h1M448 332h1M458.5 337.5h1M452 352h1M462 328.5h1M480.5 341.5h1M484 350h1M474 351.5h1M479.5 335.5h1M477.5 343.5h1M457 329.5h1M467 344h1M487 354.5h1M451.5 338h1M478.5 333.5h1M469.5 333.5h1M483 351h1M472.5 351h1M481 339.5h1M473.5 335.5h1M456.5 344h1M482.5 348h1M476.5 330h1M454 354h1M487 349.5h1M464 350.5h1M469 344h1M479.5 342.5h1M448 330.5h1M475 346h1M470 328.5h1M485.5 348h1M464 328.5h1M484.5 332.5h1M462 341h1M463.5 353.5h1M470 335h1M475 335.5h1M486.5 345.5h1M457.5 335.5h1M469 341h1M483.5 346.5h1M456 345.5h1M471.5 333h1M456.5 331h1M475 333.5h1M473 336.5h1M453 354.5h1M472 344.5h1M476.5 343h1M454 344h1M472.5 347h1M469.5 329h1M472.5 335h1M469.5 352h1M476.5 333.5h1M467.5 347.5h1M486.5 349h1M449 352h1M488.5 350h1M478 353.5h1M486 350h1M448 350h1M477.5 354h1M488 339.5h1M475.5 339.5h1M456.5 337h1M481.5 352h1M463 350h1M469 333.5h1M468 337h1M452 341h1M473.5 346.5h1M471 333h1M472 336.5h1M464.5 328h1M457 332.5h1M459 339.5h1M448.5 328h1M489.5 347.5h1M452 356.5h1M488 339.5h1M465 332h1M467.5 351h1M469 339h1M452.5 339h1M459.5 349h1M465.5 336h1M455 343h1M478 328.5h1M485 357h1M468.5 330.5h1M466 337.5h1M483.5 356h1M468 330.5h1M475.5 329.5h1M462.5 342.5h1M462.5 334h1M483 331.5h1M454.5 357h1M488 331.5h1M487 328h1M461 331h1M450.5 333.5h1M450 356.5h1M459.5 337h1M486.5 333h1M481.5 356h1M470 331h1M466.5 345.5h1M459 333.5h1M472 345.5h1M486 356h1M458.5 355h1M487.5 344.5h1M475.5 348.5h1M449 338h1M449 336h1M456 335h1M449 352h1M455 336.5h1M468.5 331h1M473 343.5h1M466.5 331.5h1M480 329.5h1M472.5 331h1M467 352h1M485 327.5h1M457.5 338h1M481 342h1M467.5 352h1M451 346h1M472 330.5h1M455.5 335h1M480 329.5h1M461.5 354h1M475.5 352h1M467 351h1M464 333h1M485.5 348.5h1M489 347.5h1M473.5 357h1M476.5 329h1M449 338.5h1M461.5 328.5h1M467.5 342h1M484 340h1M449.5 343.5h1M474.5 349h1M482.5 341.5h1M476.5 330.5h1M465.5 339.5h1M489.5 353h1M474 345h1M459 341.5h1M457.5 348.5h1M476.5 339.5h1M471 349.5h1M451.5 355h1M457.5 342.5h1M456 352.5h1M451 350h1M459 327h1M470.5 348.5h1M470 330.5h1M484.5 340h1M474 328h1M487 328.5h1M476 333.5h1M450.5 348h1M449 328.5h1M452 336h1M478.5 331h1M467 342h1M458.5 338h1M454.5 337h1M486 349.5h1M456 336.5h1M480 345.5h1M478.5 345.5h1M449 351h1M471.5 343h1M484.5 340h1M458 342.5h1M466 337.5h1M473.5 329h1M471.5 336.5h1M465.5 350h1M450.5 333h1M474.5 333h1M453.5 345h1M474 337.5h1M485 341h1M487 348.5h1M483 341.5h1M470.5 327h1M449 335h1M459.5 334.5h1M463.5 344.5h1M475 344h1M472.5 332h1M462.5 336h1M488.5 352h1M473 338.5h1M465 346h1M462.5 346h1M474.5 338h1M481.5 352.5h1M468 340.5h1M473 341h1" stroke="#c27a9f" stroke-width="1"/>
<path d="M467 386h1M454 380h3.4M465.5 374h1M465.5 373h3.1M481 368h1M478.5 375h2.5M456.5 385h1M481.5 373h1M476.5 378h1M465 362h1M457 373h1M463 364h3.1M455.5 378h1M450.5 360h3.3M452 364h1M466.5 364h1M460 379h2.6M485.5 365h1.9M448.5 370h2.8M485 366h1M461.5 367h1M481.5 358h1M476.5 386h1M450 375h1M479 388h1M463.5 362h1M487 385h1M475 364h1M451 379h2M459 380h1M485.5 387h1M476.5 373h1M464.5 369h1M453 379h2.2M489 387h1M470.5 372h1M458.5 375h2.8M453.5 374h1M476.5 376h1.9M473 361h1.6M461 386h1M488.5 384h1M454 365h1M474 361h1M452.5 384h1M462.5 382h2M476.5 362h1M482.5 360h1M451 365h3.2M476.5 377h1M465 362h3.7M481.5 360h1M486.5 365h1M476.5 388h1M466 375h3.6M472 375h1M460.5 372h1M456 386h1M453 358h2M486 388h1M476 378h2.3M454 377h1M470.5 386h1M450.5 384h3.6M468 363h1M469 362h1M482.5 368h1M469.5 388h3.9M454 380h1M469 374h1M472.5 385h1M466 385h2.6M469 378h1M464.5 366h3M461 371h1M470 380h3.8M463.5 376h1M460.5 370h1M456.5 372h1M471 379h3.7M470.5 381h1M470 374h1M462 376h1M477.5 364h3.2M488.5 366h1M487 365h1M456 367h1M449.5 380h1M474.5 368h1M466.5 381h1M483.5 369h1M452 374h1M484 372h1M484.5 359h1M463.5 367h1M478.5 358h2M485.5 370h1M460 386h1M463.5 377h3.5M449.5 360h1M456.5 377h1M456.5 374h1M468.5 362h1M467.5 366h1M473.5 370h1M473.5 374h1M451 366h1M474.5 363h1M488.5 385h1M487.5 361h1M457 366h1M451.5 383h1M452 372h3.6M480 378h1M463 376h1M465 378h1M455.5 372h1M468.5 361h1M479.5 362h1M454.5 372h4M488.5 379h1M468 359h2.1M460 388h2.2M448 367h1M473 381h1.7M462.5 361h1M461.5 362h1M448.5 383h1M486 377h1M484.5 388h1M467.5 380h1M456.5 380h1M452.5 368h1M468 369h1M458 364h1M480 372h1M461.5 361h2.3M481 360h2.2M463.5 374h1.9M451 368h2.9M461.5 381h1.6M462 375h3.4M453.5 358h1.8M476.5 385h1M487 367h1M470 387h1M469.5 360h1M477.5 375h1M477.5 382h1M481 366h1M473 379h2.8M482 374h1M480.5 374h2.7M462 361h1M448 379h1M455 363h1M462 374h1M454.5 362h1" stroke="#666" stroke-width="1"/>
<text x="571.1" y="200.1" font-size="10.5" stroke="#231f20" textLength="67.5" lengthAdjust="spacingAndGlyphs">Identify viable</text>
<text x="551.9" y="213.4" font-size="10.5" stroke="#231f20" textLength="105.3" lengthAdjust="spacingAndGlyphs">parameter set regions</text>
<path d="M545.8,221.2V302.8L622.8,275.3M545.8,302.8L608.3,356.4" fill="none" stroke="#231f20" stroke-width="1.5"/>
<text x="532.3" y="231.1" font-size="11" stroke="#231f20">5</text>
<text x="528.9" y="299.2" font-size="11" stroke="#231f20">-5</text>
<text x="552.8" y="294.2" font-size="11" stroke="#231f20">-5</text>
<text x="538.9" y="318.4" font-size="11" stroke="#231f20">-5</text>
<text x="608.7" y="276.1" font-size="11" stroke="#231f20">5</text>
<text x="589.5" y="358.9" font-size="11" stroke="#231f20">5</text>
<g font-style="italic" stroke="#231f20"><text x="514.2" y="267.1" font-size="10.5">I</text><text x="518.0" y="260.2" font-size="7.2" textLength="13.9" lengthAdjust="spacingAndGlyphs">SOM</text><text x="517.6" y="270.4" font-size="7.2" textLength="14.8" lengthAdjust="spacingAndGlyphs">recov</text></g>
<g font-style="italic" stroke="#231f20"><text x="576.4" y="277.5" font-size="10.5">I</text><text x="580.9" y="271.9" font-size="7" textLength="3.3" lengthAdjust="spacingAndGlyphs">E</text><text x="580.0" y="280.0" font-size="7.2" textLength="15.4" lengthAdjust="spacingAndGlyphs">recov</text></g>
<g font-style="italic" stroke="#231f20"><text x="551.4" y="341.9" font-size="10.5">I</text><text x="555.0" y="335.7" font-size="7" textLength="8.0" lengthAdjust="spacingAndGlyphs">PV</text><text x="555.0" y="346.0" font-size="7.2" textLength="15.8" lengthAdjust="spacingAndGlyphs">recov</text></g>
<g stroke="#333" stroke-width="0.9" stroke-linejoin="round"><polygon points="633.3,289.5 653.3,281.8 669.5,295 649.4,301.9" fill="#b8b8b8"/><polygon points="633.3,289.5 649.4,301.9 648.9,329.2 633.3,316.5" fill="#b0b0b0"/><polygon points="649.4,301.9 669.5,295 669.8,322.4 648.9,329.2" fill="#b4b4b4"/></g>
<path d="M617,368C616.3,369.6 616.4,374.1 613,377.4C609.6,380.7 603.4,384.8 596.8,387.9C590.2,391.0 583.1,393.6 573.4,396C563.7,398.4 550.1,400.8 538.4,402.6C526.7,404.4 513.1,405.7 503.4,406.6C493.7,407.5 491.8,407.7 480,408.2C468.2,408.7 449.4,409.5 432.7,409.8C416.0,410.1 400.4,410.6 380,409.8C359.6,409.0 331.7,406.7 310,405.2C288.3,403.7 266.6,402.4 250,400.7C233.4,399.0 224.5,397.3 210.6,394.9C196.7,392.5 179.9,389.3 166.8,386.1C153.7,382.9 143.0,380.0 131.8,375.9C120.6,371.8 108.4,366.2 99.6,361.3C90.8,356.4 84.5,351.6 79.2,346.7C73.9,341.8 70.2,337.0 67.5,332.1C64.8,327.2 64.0,320.9 63.1,317.5C62.2,314.1 62.5,312.9 62.4,312" fill="none" stroke="#231f20" stroke-width="1.8"/>
<polygon points="58.6,316.3 66.4,316.3 62.3,308.6" fill="#231f20"/>
<text x="45.3" y="391.0" font-size="13.5" stroke="#231f20" textLength="88.7" lengthAdjust="spacingAndGlyphs">Loop over valid</text>
<text x="67.0" y="405.6" font-size="10" stroke="#231f20" font-style="italic">β</text>
<text x="72.6" y="407.3" font-size="5.5" stroke="#231f20" font-style="italic">α</text>
<text x="82.1" y="405.6" font-size="13.5" stroke="#231f20" textLength="35.9" lengthAdjust="spacingAndGlyphs">values</text>
<text x="20.5" y="446.5" font-size="15" stroke="#231f20">e</text>
<polyline points="64.6,575.9 119.9,544.7 175.4,524.5 230.3,493.1" fill="none" stroke="#c04f86" stroke-width="0.75" stroke-dasharray="0.9 1.4" opacity="0.34"/>
<polyline points="64.6,579.8 119.9,554.7 175.4,517.4 230.3,473.4" fill="none" stroke="#c04f86" stroke-width="0.75" stroke-dasharray="0.9 1.4" opacity="0.34"/>
<polyline points="64.6,578.6 119.9,564.8 175.4,509.6 230.3,480.3" fill="none" stroke="#c04f86" stroke-width="0.75" stroke-dasharray="0.9 1.4" opacity="0.34"/>
<polyline points="64.6,571.5 119.9,543.7 175.4,516.4 230.3,485.7" fill="none" stroke="#c04f86" stroke-width="0.75" stroke-dasharray="0.9 1.4" opacity="0.34"/>
<polyline points="64.6,581.6 119.9,554.3 175.4,541.3 230.3,515.0" fill="none" stroke="#c04f86" stroke-width="0.75" stroke-dasharray="0.9 1.4" opacity="0.34"/>
<polyline points="64.6,581.4 119.9,555.8 175.4,525.6 230.3,470.0" fill="none" stroke="#c04f86" stroke-width="0.75" stroke-dasharray="0.9 1.4" opacity="0.34"/>
<polyline points="64.6,575.1 119.9,555.0 175.4,516.0 230.3,496.6" fill="none" stroke="#c04f86" stroke-width="0.75" stroke-dasharray="0.9 1.4" opacity="0.34"/>
<polyline points="64.6,571.4 119.9,543.0 175.4,508.3 230.3,479.3" fill="none" stroke="#c04f86" stroke-width="0.75" stroke-dasharray="0.9 1.4" opacity="0.34"/>
<polyline points="64.6,579.3 119.9,560.0 175.4,541.6 230.3,475.3" fill="none" stroke="#c04f86" stroke-width="0.75" stroke-dasharray="0.9 1.4" opacity="0.34"/>
<polyline points="64.6,572.9 119.9,557.7 175.4,503.2 230.3,469.7" fill="none" stroke="#c04f86" stroke-width="0.75" stroke-dasharray="0.9 1.4" opacity="0.34"/>
<polyline points="64.6,579.5 119.9,545.0 175.4,524.3 230.3,460.5" fill="none" stroke="#c04f86" stroke-width="0.75" stroke-dasharray="0.9 1.4" opacity="0.34"/>
<polyline points="64.6,581.0 119.9,551.8 175.4,511.0 230.3,502.4" fill="none" stroke="#c04f86" stroke-width="0.75" stroke-dasharray="0.9 1.4" opacity="0.34"/>
<polyline points="64.6,578.3 119.9,543.7 175.4,511.9 230.3,503.2" fill="none" stroke="#c04f86" stroke-width="0.75" stroke-dasharray="0.9 1.4" opacity="0.34"/>
<polyline points="64.6,580.7 119.9,565.6 175.4,510.2 230.3,501.6" fill="none" stroke="#c04f86" stroke-width="0.75" stroke-dasharray="0.9 1.4" opacity="0.34"/>
<polyline points="64.6,577.1 119.9,562.4 175.4,513.0 230.3,504.4" fill="none" stroke="#c04f86" stroke-width="0.75" stroke-dasharray="0.9 1.4" opacity="0.34"/>
<polyline points="64.6,580.5 119.9,556.9 175.4,535.4 230.3,509.6" fill="none" stroke="#c04f86" stroke-width="0.75" stroke-dasharray="0.9 1.4" opacity="0.34"/>
<polyline points="64.6,557.5 119.9,547.1 175.4,506.4 230.3,497.8" fill="none" stroke="#c04f86" stroke-width="0.75" stroke-dasharray="0.9 1.4" opacity="0.34"/>
<polyline points="64.6,572.9 119.9,551.5 175.4,538.6 230.3,459.9" fill="none" stroke="#c04f86" stroke-width="0.75" stroke-dasharray="0.9 1.4" opacity="0.34"/>
<polyline points="64.6,579.0 119.9,548.4 175.4,530.4 230.3,507.7" fill="none" stroke="#c04f86" stroke-width="0.75" stroke-dasharray="0.9 1.4" opacity="0.34"/>
<polyline points="64.6,580.8 119.9,552.9 175.4,534.1 230.3,486.7" fill="none" stroke="#c04f86" stroke-width="0.75" stroke-dasharray="0.9 1.4" opacity="0.34"/>
<polyline points="64.6,577.0 119.9,543.8 175.4,523.7 230.3,488.5" fill="none" stroke="#c04f86" stroke-width="0.75" stroke-dasharray="0.9 1.4" opacity="0.34"/>
<polyline points="64.6,568.2 119.9,557.8 175.4,505.4 230.3,471.7" fill="none" stroke="#c04f86" stroke-width="0.75" stroke-dasharray="0.9 1.4" opacity="0.34"/>
<polyline points="64.6,579.7 119.9,549.2 175.4,504.0 230.3,495.4" fill="none" stroke="#c04f86" stroke-width="0.75" stroke-dasharray="0.9 1.4" opacity="0.34"/>
<polyline points="64.6,556.1 119.9,545.8 175.4,526.4 230.3,517.8" fill="none" stroke="#c04f86" stroke-width="0.75" stroke-dasharray="0.9 1.4" opacity="0.34"/>
<polyline points="64.6,571.7 119.9,561.3 175.4,514.2 230.3,505.5" fill="none" stroke="#c04f86" stroke-width="0.75" stroke-dasharray="0.9 1.4" opacity="0.34"/>
<polyline points="64.6,561.1 119.9,550.7 175.4,537.0 230.3,478.4" fill="none" stroke="#c04f86" stroke-width="0.75" stroke-dasharray="0.9 1.4" opacity="0.34"/>
<polyline points="64.6,579.3 119.9,553.5 175.4,507.8 230.3,485.8" fill="none" stroke="#c04f86" stroke-width="0.75" stroke-dasharray="0.9 1.4" opacity="0.34"/>
<polyline points="64.6,572.2 119.9,561.8 175.4,543.9 230.3,509.6" fill="none" stroke="#c04f86" stroke-width="0.75" stroke-dasharray="0.9 1.4" opacity="0.34"/>
<polyline points="64.6,581.1 119.9,562.8 175.4,528.7 230.3,488.7" fill="none" stroke="#c04f86" stroke-width="0.75" stroke-dasharray="0.9 1.4" opacity="0.34"/>
<polyline points="64.6,578.0 119.9,545.5 175.4,502.3 230.3,482.8" fill="none" stroke="#c04f86" stroke-width="0.75" stroke-dasharray="0.9 1.4" opacity="0.34"/>
<polyline points="64.6,575.7 119.9,563.6 175.4,543.1 230.3,526.9" fill="none" stroke="#c04f86" stroke-width="0.75" stroke-dasharray="0.9 1.4" opacity="0.34"/>
<polyline points="64.6,559.2 119.9,543.8 175.4,530.8 230.3,484.2" fill="none" stroke="#c04f86" stroke-width="0.75" stroke-dasharray="0.9 1.4" opacity="0.34"/>
<polyline points="64.6,574.1 119.9,559.3 175.4,501.5 230.3,492.8" fill="none" stroke="#c04f86" stroke-width="0.75" stroke-dasharray="0.9 1.4" opacity="0.34"/>
<polyline points="64.6,574.1 119.9,545.3 175.4,512.8 230.3,479.6" fill="none" stroke="#c04f86" stroke-width="0.75" stroke-dasharray="0.9 1.4" opacity="0.34"/>
<polyline points="64.6,538.5 119.9,522.1 175.4,501.4 230.3,460.0" fill="none" stroke="#c04f86" stroke-width="0.75" stroke-dasharray="0.9 1.4" opacity="0.34"/>
<polyline points="64.6,557.5 119.9,541.1 175.4,516.1 230.3,470.3" fill="none" stroke="#c04f86" stroke-width="0.75" stroke-dasharray="0.9 1.4" opacity="0.34"/>
<polyline points="64.6,574.4 119.9,554.5 175.4,550.2 230.3,529.5" fill="none" stroke="#666" stroke-width="0.75" stroke-dasharray="0.9 1.4" opacity="0.3"/>
<polyline points="64.6,573.2 119.9,555.2 175.4,550.9 230.3,527.0" fill="none" stroke="#666" stroke-width="0.75" stroke-dasharray="0.9 1.4" opacity="0.3"/>
<polyline points="64.6,573.6 119.9,559.9 175.4,548.3 230.3,536.5" fill="none" stroke="#666" stroke-width="0.75" stroke-dasharray="0.9 1.4" opacity="0.3"/>
<polyline points="64.6,576.5 119.9,559.3 175.4,555.0 230.3,530.5" fill="none" stroke="#666" stroke-width="0.75" stroke-dasharray="0.9 1.4" opacity="0.3"/>
<polyline points="64.6,572.3 119.9,555.1 175.4,546.3 230.3,536.4" fill="none" stroke="#666" stroke-width="0.75" stroke-dasharray="0.9 1.4" opacity="0.3"/>
<polyline points="64.6,575.0 119.9,559.7 175.4,551.8 230.3,525.9" fill="none" stroke="#666" stroke-width="0.75" stroke-dasharray="0.9 1.4" opacity="0.3"/>
<polyline points="64.6,581.7 119.9,557.1 175.4,552.8 230.3,531.4" fill="none" stroke="#666" stroke-width="0.75" stroke-dasharray="0.9 1.4" opacity="0.3"/>
<polyline points="64.6,577.6 119.9,565.2 175.4,546.9 230.3,533.9" fill="none" stroke="#666" stroke-width="0.75" stroke-dasharray="0.9 1.4" opacity="0.3"/>
<polyline points="64.6,576.2 119.9,554.5 175.4,550.1 230.3,543.2" fill="none" stroke="#666" stroke-width="0.75" stroke-dasharray="0.9 1.4" opacity="0.3"/>
<polyline points="64.6,579.5 119.9,558.2 175.4,553.9 230.3,541.5" fill="none" stroke="#666" stroke-width="0.75" stroke-dasharray="0.9 1.4" opacity="0.3"/>
<polyline points="64.6,573.2 119.9,558.5 175.4,551.7 230.3,524.7" fill="none" stroke="#666" stroke-width="0.75" stroke-dasharray="0.9 1.4" opacity="0.3"/>
<polyline points="64.6,579.2 119.9,558.4 175.4,554.1 230.3,535.4" fill="none" stroke="#666" stroke-width="0.75" stroke-dasharray="0.9 1.4" opacity="0.3"/>
<polyline points="64.6,574.2 119.9,554.6 175.4,543.4 230.3,536.5" fill="none" stroke="#666" stroke-width="0.75" stroke-dasharray="0.9 1.4" opacity="0.3"/>
<polyline points="64.6,576.5 119.9,563.8 175.4,557.5 230.3,533.9" fill="none" stroke="#666" stroke-width="0.75" stroke-dasharray="0.9 1.4" opacity="0.3"/>
<polyline points="64.6,573.9 119.9,555.6 175.4,546.6 230.3,523.3" fill="none" stroke="#666" stroke-width="0.75" stroke-dasharray="0.9 1.4" opacity="0.3"/>
<polyline points="64.6,579.7 119.9,566.1 175.4,551.6 230.3,539.0" fill="none" stroke="#666" stroke-width="0.75" stroke-dasharray="0.9 1.4" opacity="0.3"/>
<polyline points="64.6,580.4 119.9,562.3 175.4,548.2 230.3,533.9" fill="none" stroke="#666" stroke-width="0.75" stroke-dasharray="0.9 1.4" opacity="0.3"/>
<polyline points="64.6,579.3 119.9,555.7 175.4,541.5 230.3,534.6" fill="none" stroke="#666" stroke-width="0.75" stroke-dasharray="0.9 1.4" opacity="0.3"/>
<polyline points="64.6,581.8 119.9,568.3 175.4,543.6 230.3,536.6" fill="none" stroke="#666" stroke-width="0.75" stroke-dasharray="0.9 1.4" opacity="0.3"/>
<polyline points="64.6,575.2 119.9,559.9 175.4,554.3 230.3,527.0" fill="none" stroke="#666" stroke-width="0.75" stroke-dasharray="0.9 1.4" opacity="0.3"/>
<polyline points="64.6,582.4 119.9,566.6 175.4,551.5 230.3,544.6" fill="none" stroke="#666" stroke-width="0.75" stroke-dasharray="0.9 1.4" opacity="0.3"/>
<polyline points="64.6,574.0 119.9,565.1 175.4,557.5 230.3,544.4" fill="none" stroke="#666" stroke-width="0.75" stroke-dasharray="0.9 1.4" opacity="0.3"/>
<polyline points="64.6,584.3 119.9,584.1 175.4,581.6 230.3,574.7" fill="none" stroke="#e0a060" stroke-width="0.75" stroke-dasharray="0.9 1.4" opacity="0.2"/>
<polyline points="64.6,584.3 119.9,584.1 175.4,581.6 230.3,571.8" fill="none" stroke="#e0a060" stroke-width="0.75" stroke-dasharray="0.9 1.4" opacity="0.2"/>
<polyline points="64.6,584.3 119.9,584.1 175.4,580.8 230.3,567.6" fill="none" stroke="#e0a060" stroke-width="0.75" stroke-dasharray="0.9 1.4" opacity="0.2"/>
<polyline points="64.6,584.3 119.9,584.1 175.4,581.3 230.3,578.1" fill="none" stroke="#e0a060" stroke-width="0.75" stroke-dasharray="0.9 1.4" opacity="0.2"/>
<polyline points="64.6,584.3 119.9,584.1 175.4,582.2 230.3,578.4" fill="none" stroke="#e0a060" stroke-width="0.75" stroke-dasharray="0.9 1.4" opacity="0.2"/>
<polyline points="64.6,584.3 119.9,584.1 175.4,584.3 230.3,574.3" fill="none" stroke="#e0a060" stroke-width="0.75" stroke-dasharray="0.9 1.4" opacity="0.2"/>
<polyline points="64.6,584.3 119.9,584.1 175.4,581.2 230.3,578.4" fill="none" stroke="#e0a060" stroke-width="0.75" stroke-dasharray="0.9 1.4" opacity="0.2"/>
<polyline points="64.6,584.3 119.9,584.1 175.4,583.1 230.3,576.1" fill="none" stroke="#e0a060" stroke-width="0.75" stroke-dasharray="0.9 1.4" opacity="0.2"/>
<path d="M64.4,454.8V584.3H230.6" fill="none" stroke="#231f20" stroke-width="1.3"/>
<path d="M61.9 584.30H64.4" stroke="#231f20" stroke-width="1"/>
<text x="61.8" y="587.2" font-size="8.3" stroke="#231f20" text-anchor="end" textLength="3.9" lengthAdjust="spacingAndGlyphs">0</text>
<path d="M61.9 541.13H64.4" stroke="#231f20" stroke-width="1"/>
<text x="61.8" y="544.0" font-size="8.3" stroke="#231f20" text-anchor="end" textLength="3.9" lengthAdjust="spacingAndGlyphs">5</text>
<path d="M61.9 497.97H64.4" stroke="#231f20" stroke-width="1"/>
<text x="61.8" y="500.9" font-size="8.3" stroke="#231f20" text-anchor="end" textLength="8.6" lengthAdjust="spacingAndGlyphs">10</text>
<path d="M61.9 454.80H64.4" stroke="#231f20" stroke-width="1"/>
<text x="61.8" y="457.7" font-size="8.3" stroke="#231f20" text-anchor="end" textLength="8.6" lengthAdjust="spacingAndGlyphs">15</text>
<path d="M119.9 584.3V587.0999999999999" stroke="#231f20" stroke-width="1"/>
<path d="M175.4 584.3V587.0999999999999" stroke="#231f20" stroke-width="1"/>
<path d="M230.3 584.3V587.0999999999999" stroke="#231f20" stroke-width="1"/>
<text x="57.4" y="594.6" font-size="8.5" stroke="#231f20" textLength="20.8" lengthAdjust="spacingAndGlyphs">None</text>
<text x="114.1" y="594.6" font-size="8.5" stroke="#231f20" textLength="15.9" lengthAdjust="spacingAndGlyphs">Low</text>
<text x="165.6" y="594.6" font-size="8.5" stroke="#231f20" textLength="18.1" lengthAdjust="spacingAndGlyphs">Med</text>
<text x="221.4" y="594.6" font-size="8.5" stroke="#231f20" textLength="18.4" lengthAdjust="spacingAndGlyphs">High</text>
<text x="117.7" y="606.6" font-size="9.8" stroke="#231f20" textLength="77.3" lengthAdjust="spacingAndGlyphs">Stimulus Strength</text>
<text transform="translate(47.2 540.6) rotate(-90)" font-size="10.3" stroke="#231f20" textLength="61.7" lengthAdjust="spacingAndGlyphs">Firing rate (Hz)</text>
<text x="73.7" y="461.8" font-size="10.8" fill="#555" stroke="#555" textLength="13.5" lengthAdjust="spacingAndGlyphs">PN</text>
<text x="73.7" y="473.4" font-size="10.8" fill="#a23c66" stroke="#a23c66" textLength="12.7" lengthAdjust="spacingAndGlyphs">PV</text>
<text x="73.7" y="485.5" font-size="10.8" fill="#c0762a" stroke="#c0762a" textLength="22.0" lengthAdjust="spacingAndGlyphs">SOM</text>
<polyline points="64.6,579.1 119.9,564.4 175.4,553.2 230.3,537.7" fill="none" stroke="#3a3a3a" stroke-width="1.6"/>
<polyline points="64.6,579.1 119.9,557.5 175.4,529.9 230.3,488.5" fill="none" stroke="#a23c66" stroke-width="1.8"/>
<polyline points="64.6,584.1 119.9,584.1 175.4,583.9 230.3,581.9" fill="none" stroke="#c98233" stroke-width="1.6"/>
<text x="259.0" y="448.0" font-size="15" stroke="#231f20">f</text>
<path d="M307.6,463V582.9H412" fill="none" stroke="#231f20" stroke-width="1.3"/>
<path d="M305.1 582.90H307.6" stroke="#231f20" stroke-width="1"/>
<text x="304.4" y="585.1" font-size="8.5" stroke="#231f20" text-anchor="end" textLength="4.0" lengthAdjust="spacingAndGlyphs">0</text>
<path d="M305.1 558.90H307.6" stroke="#231f20" stroke-width="1"/>
<text x="304.4" y="561.1" font-size="8.5" stroke="#231f20" text-anchor="end" textLength="10.8" lengthAdjust="spacingAndGlyphs">0.1</text>
<path d="M305.1 534.90H307.6" stroke="#231f20" stroke-width="1"/>
<text x="304.4" y="537.1" font-size="8.5" stroke="#231f20" text-anchor="end" textLength="10.8" lengthAdjust="spacingAndGlyphs">0.2</text>
<path d="M305.1 510.90H307.6" stroke="#231f20" stroke-width="1"/>
<text x="304.4" y="513.1" font-size="8.5" stroke="#231f20" text-anchor="end" textLength="10.8" lengthAdjust="spacingAndGlyphs">0.3</text>
<path d="M305.1 486.90H307.6" stroke="#231f20" stroke-width="1"/>
<text x="304.4" y="489.1" font-size="8.5" stroke="#231f20" text-anchor="end" textLength="10.8" lengthAdjust="spacingAndGlyphs">0.4</text>
<path d="M305.1 462.90H307.6" stroke="#231f20" stroke-width="1"/>
<text x="304.4" y="465.1" font-size="8.5" stroke="#231f20" text-anchor="end" textLength="10.8" lengthAdjust="spacingAndGlyphs">0.5</text>
<path d="M326.5 582.9V585.4" stroke="#231f20" stroke-width="1"/>
<text x="325.7" y="594.3" font-size="8" stroke="#231f20" text-anchor="middle" textLength="7.2" lengthAdjust="spacingAndGlyphs">-4</text>
<path d="M343 582.9V585.4" stroke="#231f20" stroke-width="1"/>
<text x="342.2" y="594.3" font-size="8" stroke="#231f20" text-anchor="middle" textLength="7.2" lengthAdjust="spacingAndGlyphs">-2</text>
<path d="M360 582.9V585.4" stroke="#231f20" stroke-width="1"/>
<text x="360.0" y="594.3" font-size="8" stroke="#231f20" text-anchor="middle" textLength="3.9" lengthAdjust="spacingAndGlyphs">0</text>
<path d="M376.5 582.9V585.4" stroke="#231f20" stroke-width="1"/>
<text x="376.5" y="594.3" font-size="8" stroke="#231f20" text-anchor="middle" textLength="3.9" lengthAdjust="spacingAndGlyphs">2</text>
<path d="M393.3 582.9V585.4" stroke="#231f20" stroke-width="1"/>
<text x="393.3" y="594.3" font-size="8" stroke="#231f20" text-anchor="middle" textLength="3.9" lengthAdjust="spacingAndGlyphs">4</text>
<rect x="369.3" y="508" width="9.70" height="74.90" fill="#888888" stroke="#777777" stroke-width="0.5"/>
<rect x="379" y="472.9" width="9.50" height="110.00" fill="#888888" stroke="#777777" stroke-width="0.5"/>
<rect x="388.5" y="553.8" width="9.30" height="29.10" fill="#888888" stroke="#777777" stroke-width="0.5"/>
<rect x="397.8" y="580" width="9.60" height="2.90" fill="#888888" stroke="#777777" stroke-width="0.5"/>
<g font-style="italic" stroke="#231f20"><text x="358.1" y="607" font-size="10.6">I</text><text x="361.8" y="601.2" font-size="6.8" textLength="8.1" lengthAdjust="spacingAndGlyphs">PN</text><text x="361.40000000000003" y="611.2" font-size="7.8" textLength="17.3" lengthAdjust="spacingAndGlyphs">recov</text></g>
<path d="M444,462.1V582.9H548.3" fill="none" stroke="#231f20" stroke-width="1.3"/>
<path d="M441.5 582.90H444" stroke="#231f20" stroke-width="1"/>
<text x="438.5" y="585.1" font-size="8.5" stroke="#231f20" text-anchor="end" textLength="4.0" lengthAdjust="spacingAndGlyphs">0</text>
<path d="M441.5 552.70H444" stroke="#231f20" stroke-width="1"/>
<text x="438.5" y="554.9" font-size="8.5" stroke="#231f20" text-anchor="end" textLength="10.8" lengthAdjust="spacingAndGlyphs">0.1</text>
<path d="M441.5 522.50H444" stroke="#231f20" stroke-width="1"/>
<text x="438.5" y="524.7" font-size="8.5" stroke="#231f20" text-anchor="end" textLength="10.8" lengthAdjust="spacingAndGlyphs">0.2</text>
<path d="M441.5 492.30H444" stroke="#231f20" stroke-width="1"/>
<text x="438.5" y="494.5" font-size="8.5" stroke="#231f20" text-anchor="end" textLength="10.8" lengthAdjust="spacingAndGlyphs">0.3</text>
<path d="M441.5 462.10H444" stroke="#231f20" stroke-width="1"/>
<text x="438.5" y="464.3" font-size="8.5" stroke="#231f20" text-anchor="end" textLength="10.8" lengthAdjust="spacingAndGlyphs">0.4</text>
<path d="M461.1 582.9V585.4" stroke="#231f20" stroke-width="1"/>
<text x="460.3" y="594.3" font-size="8" stroke="#231f20" text-anchor="middle" textLength="7.2" lengthAdjust="spacingAndGlyphs">-4</text>
<path d="M477.9 582.9V585.4" stroke="#231f20" stroke-width="1"/>
<text x="477.1" y="594.3" font-size="8" stroke="#231f20" text-anchor="middle" textLength="7.2" lengthAdjust="spacingAndGlyphs">-2</text>
<path d="M494.9 582.9V585.4" stroke="#231f20" stroke-width="1"/>
<text x="494.9" y="594.3" font-size="8" stroke="#231f20" text-anchor="middle" textLength="3.9" lengthAdjust="spacingAndGlyphs">0</text>
<path d="M512 582.9V585.4" stroke="#231f20" stroke-width="1"/>
<text x="512.0" y="594.3" font-size="8" stroke="#231f20" text-anchor="middle" textLength="3.9" lengthAdjust="spacingAndGlyphs">2</text>
<path d="M528.8 582.9V585.4" stroke="#231f20" stroke-width="1"/>
<text x="528.8" y="594.3" font-size="8" stroke="#231f20" text-anchor="middle" textLength="3.9" lengthAdjust="spacingAndGlyphs">4</text>
<rect x="496.4" y="540" width="9.60" height="42.90" fill="#c58ea4" stroke="#b47a92" stroke-width="0.5"/>
<rect x="506" y="532.5" width="9.30" height="50.40" fill="#c58ea4" stroke="#b47a92" stroke-width="0.5"/>
<rect x="515.3" y="475" width="9.30" height="107.90" fill="#c58ea4" stroke="#b47a92" stroke-width="0.5"/>
<rect x="524.6" y="535.8" width="9.30" height="47.10" fill="#c58ea4" stroke="#b47a92" stroke-width="0.5"/>
<rect x="533.9" y="561.3" width="9.60" height="21.60" fill="#c58ea4" stroke="#b47a92" stroke-width="0.5"/>
<g font-style="italic" stroke="#231f20"><text x="494.7" y="607" font-size="10.6">I</text><text x="498.4" y="601.2" font-size="6.8" textLength="6.8" lengthAdjust="spacingAndGlyphs">PV</text><text x="498.0" y="611.2" font-size="7.8" textLength="17.3" lengthAdjust="spacingAndGlyphs">recov</text></g>
<path d="M581,461.5V582.9H685" fill="none" stroke="#231f20" stroke-width="1.3"/>
<path d="M578.5 582.90H581" stroke="#231f20" stroke-width="1"/>
<text x="576.7" y="585.1" font-size="8.5" stroke="#231f20" text-anchor="end" textLength="4.0" lengthAdjust="spacingAndGlyphs">0</text>
<path d="M578.5 534.70H581" stroke="#231f20" stroke-width="1"/>
<text x="576.7" y="536.9" font-size="8.5" stroke="#231f20" text-anchor="end" textLength="10.8" lengthAdjust="spacingAndGlyphs">0.1</text>
<path d="M578.5 486.50H581" stroke="#231f20" stroke-width="1"/>
<text x="576.7" y="488.7" font-size="8.5" stroke="#231f20" text-anchor="end" textLength="10.8" lengthAdjust="spacingAndGlyphs">0.2</text>
<path d="M598.1 582.9V585.4" stroke="#231f20" stroke-width="1"/>
<text x="597.3" y="594.3" font-size="8" stroke="#231f20" text-anchor="middle" textLength="7.2" lengthAdjust="spacingAndGlyphs">-4</text>
<path d="M614.8 582.9V585.4" stroke="#231f20" stroke-width="1"/>
<text x="614.0" y="594.3" font-size="8" stroke="#231f20" text-anchor="middle" textLength="7.2" lengthAdjust="spacingAndGlyphs">-2</text>
<path d="M632.2 582.9V585.4" stroke="#231f20" stroke-width="1"/>
<text x="632.2" y="594.3" font-size="8" stroke="#231f20" text-anchor="middle" textLength="3.9" lengthAdjust="spacingAndGlyphs">0</text>
<path d="M649 582.9V585.4" stroke="#231f20" stroke-width="1"/>
<text x="649.0" y="594.3" font-size="8" stroke="#231f20" text-anchor="middle" textLength="3.9" lengthAdjust="spacingAndGlyphs">2</text>
<path d="M665.8 582.9V585.4" stroke="#231f20" stroke-width="1"/>
<text x="665.8" y="594.3" font-size="8" stroke="#231f20" text-anchor="middle" textLength="3.9" lengthAdjust="spacingAndGlyphs">4</text>
<rect x="585.5" y="484.9" width="9.00" height="98.00" fill="#d6a97c" stroke="#c9986a" stroke-width="0.5"/>
<rect x="594.5" y="484.9" width="9.50" height="98.00" fill="#d6a97c" stroke="#c9986a" stroke-width="0.5"/>
<rect x="604" y="496.2" width="9.60" height="86.70" fill="#d6a97c" stroke="#c9986a" stroke-width="0.5"/>
<rect x="613.6" y="507.9" width="9.60" height="75.00" fill="#d6a97c" stroke="#c9986a" stroke-width="0.5"/>
<rect x="623.2" y="531" width="9.30" height="51.90" fill="#d6a97c" stroke="#c9986a" stroke-width="0.5"/>
<rect x="632.5" y="560.1" width="9.30" height="22.80" fill="#d6a97c" stroke="#c9986a" stroke-width="0.5"/>
<g font-style="italic" stroke="#231f20"><text x="631.7" y="607" font-size="10.6">I</text><text x="635.4000000000001" y="601.2" font-size="6.8" textLength="12.9" lengthAdjust="spacingAndGlyphs">SOM</text><text x="635.0" y="611.2" font-size="7.8" textLength="17.3" lengthAdjust="spacingAndGlyphs">recov</text></g>
<text transform="translate(278.7 575.6) rotate(-90)" font-size="10" stroke="#231f20" textLength="103.7" lengthAdjust="spacingAndGlyphs">Normalized Bin Count</text>
<text transform="translate(288.0 532.8) rotate(-90)" font-size="10" stroke="#231f20" textLength="23.4" lengthAdjust="spacingAndGlyphs">(mV)</text>
</svg>
</body></html>
